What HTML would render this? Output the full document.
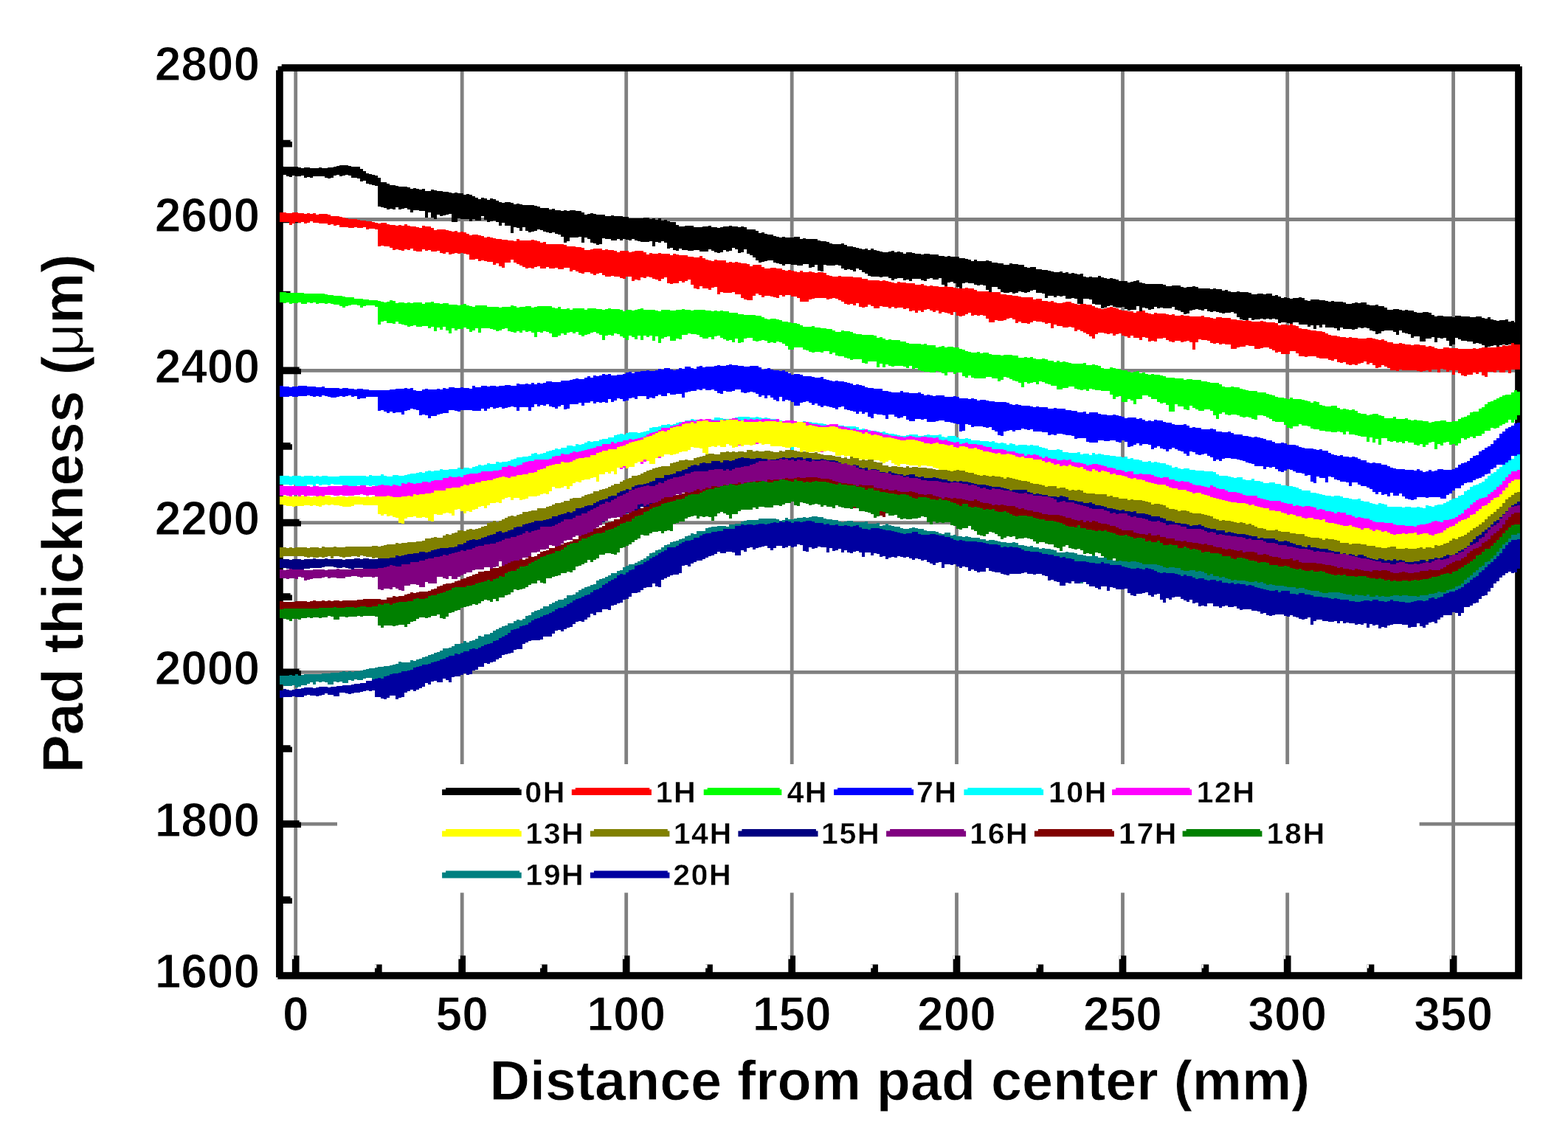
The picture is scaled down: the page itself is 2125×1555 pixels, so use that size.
<!DOCTYPE html>
<html lang="en"><head><meta charset="utf-8"><title>Pad thickness vs distance from pad center</title>
<style>html,body{margin:0;padding:0;background:#fff}body{width:2125px;height:1555px;overflow:hidden}svg{display:block}text{font-family:"Liberation Sans",sans-serif;font-weight:bold;fill:#000}</style></head><body>
<svg width="2125" height="1555" viewBox="0 0 2125 1555">
<rect width="2125" height="1555" fill="#fff"/>
<path d="M400.7 92.0 V1322.65M626.2 92.0 V1322.65M848.7 92.0 V1322.65M1073.2 92.0 V1322.65M1296.5 92.0 V1322.65M1521.5 92.0 V1322.65M1744.7 92.0 V1322.65M1969.6 92.0 V1322.65M378.9 1117.1 H2058.0M378.9 911.4 H2058.0M378.9 708.7 H2058.0M378.9 502.3 H2058.0M378.9 297.5 H2058.0" stroke="#808080" stroke-width="4.8" fill="none"/>
<rect x="457" y="1036" width="1466.6" height="174.3" fill="#fff"/>
<rect x="378.9" y="92.0" width="1679.1" height="1230.7" fill="none" stroke="#000" stroke-width="9.7"/>
<path d="M382.8 1220.1h13.2M382.8 1117.1h25.2M382.8 1015.0h13.2M382.8 911.4h25.2M382.8 809.1h13.2M382.8 708.7h25.2M382.8 604.8h13.2M382.8 502.3h25.2M382.8 399.7h13.2M382.8 297.5h25.2M382.8 194.6h13.2M400.7 1318.8v-23.3M512.8 1318.8v-11.2M626.2 1318.8v-23.3M736.9 1318.8v-11.2M848.7 1318.8v-23.3M961.0 1318.8v-11.2M1073.2 1318.8v-23.3M1185.1 1318.8v-11.2M1296.5 1318.8v-23.3M1409.3 1318.8v-11.2M1521.5 1318.8v-23.3M1633.4 1318.8v-11.2M1744.7 1318.8v-23.3M1857.5 1318.8v-11.2M1969.6 1318.8v-23.3" stroke="#000" stroke-width="9.7" fill="none"/>
<path d="M393.6 1215.0h2.6v2.6h-2.6zM405.6 1112.0h2.6v2.6h-2.6zM393.6 1009.9h2.6v2.6h-2.6zM405.6 906.3h2.6v2.6h-2.6zM393.6 804.0h2.6v2.6h-2.6zM405.6 703.6h2.6v2.6h-2.6zM393.6 599.7h2.6v2.6h-2.6zM405.6 497.2h2.6v2.6h-2.6zM393.6 394.6h2.6v2.6h-2.6zM405.6 292.4h2.6v2.6h-2.6zM393.6 189.5h2.6v2.6h-2.6zM395.6 1295.3h2.6v5h-2.6zM507.7 1307.4h2.6v5h-2.6zM621.1 1295.3h2.6v5h-2.6zM731.8 1307.4h2.6v5h-2.6zM843.6 1295.3h2.6v5h-2.6zM956.0 1307.4h2.6v5h-2.6zM1068.2 1295.3h2.6v5h-2.6zM1180.1 1307.4h2.6v5h-2.6zM1291.5 1295.3h2.6v5h-2.6zM1404.2 1307.4h2.6v5h-2.6zM1516.5 1295.3h2.6v5h-2.6zM1628.4 1307.4h2.6v5h-2.6zM1739.7 1295.3h2.6v5h-2.6zM1852.5 1307.4h2.6v5h-2.6zM1964.5 1295.3h2.6v5h-2.6zM373.8 87.0h2.6v8.2h-2.6zM374.0 87.0h7.7v2.8h-7.7zM2060.0 87.0h3v3h-3zM373.8 1325.1h2.6v2.6h-2.6z" fill="#fff"/>
<g shape-rendering="crispEdges">
<path d="M378.7 225H383.5V225.6H387.5V225.8H391.5V225.8H395.5V226.1H399.5V226.1H403.5V226.7H407.5V227.7H411.5V227.4H415.5V227.2H419.5V227.7H423.5V227.9H427.5V227.8H431.5V227.4H435.5V227.6H439.5V228H443.5V227.3H447.5V227.3H451.5V226.4H455.5V225.2H459.5V224.1H463.5V224H467.5V224H471.5V224.9H475.5V225.6H479.5V226.2H483.5V226.2H487.5V228.6H491.5V232.4H495.5V235.4H499.5V236H503.5V237.2H507.5V238.4H511.5V241.4H515.5V246.8H519.5V247.1H523.5V248.6H527.5V250.8H531.5V250.7H535.5V251.6H539.5V252.7H543.5V253.4H547.5V252.8H551.5V254.1H555.5V256.3H559.5V254.5H563.5V256.4H567.5V256.6H571.5V256.2H575.5V258.8H579.5V259H583.5V257.2H587.5V257.9H591.5V258.9H595.5V258.8H599.5V259.9H603.5V259.8H607.5V260.9H611.5V262.4H615.5V261.3H619.5V262.1H623.5V262.3H627.5V263.5H631.5V263.2H635.5V264.3H639.5V265.7H643.5V268H647.5V269.7H651.5V268.2H655.5V268.5H659.5V270.5H663.5V269H667.5V270.3H671.5V271.5H675.5V273.8H679.5V274.6H683.5V274.2H687.5V274.3H691.5V274.7H695.5V277.1H699.5V276.4H703.5V276.5H707.5V277.6H711.5V277.9H715.5V278.2H719.5V277.8H723.5V279H727.5V279.5H731.5V281.7H735.5V282.4H739.5V282.4H743.5V283.5H747.5V283.2H751.5V284.8H755.5V284.8H759.5V285.7H763.5V284.5H767.5V285.9H771.5V284.8H775.5V285.1H779.5V286H783.5V286.4H787.5V288H791.5V291H795.5V289.6H799.5V289.3H803.5V290.3H807.5V291.3H811.5V291.2H815.5V291.4H819.5V292.6H823.5V293.2H827.5V292.1H831.5V292.8H835.5V293.4H839.5V292.8H843.5V294H847.5V293.7H851.5V295.6H855.5V295.9H859.5V296.1H863.5V295.7H867.5V296.2H871.5V294.8H875.5V295.1H879.5V296.7H883.5V295.6H887.5V297.6H891.5V296.3H895.5V298.6H899.5V298.2H903.5V300.1H907.5V300.7H911.5V300.6H915.5V305.3H919.5V307.3H923.5V306.6H927.5V306.2H931.5V306.4H935.5V306.1H939.5V308.4H943.5V307.9H947.5V308.1H951.5V307.3H955.5V307.1H959.5V306.2H963.5V308.3H967.5V307.7H971.5V308.5H975.5V307.8H979.5V306.7H983.5V306.6H987.5V306.3H991.5V307H995.5V307.1H999.5V307.6H1003.5V307H1007.5V307.6H1011.5V310.8H1015.5V310.5H1019.5V310.7H1023.5V313H1027.5V315.9H1031.5V315.1H1035.5V316.8H1039.5V317.8H1043.5V317.9H1047.5V320.4H1051.5V321.1H1055.5V321.6H1059.5V321H1063.5V322.1H1067.5V321.7H1071.5V322H1075.5V321.3H1079.5V321H1083.5V323.6H1087.5V323H1091.5V323.8H1095.5V324H1099.5V324.1H1103.5V324.4H1107.5V326.2H1111.5V326.5H1115.5V327.2H1119.5V328.1H1123.5V330.1H1127.5V330.8H1131.5V331.1H1135.5V330.7H1139.5V330H1143.5V332.4H1147.5V333.9H1151.5V333.8H1155.5V334.8H1159.5V335.8H1163.5V336.7H1167.5V337.5H1171.5V336.8H1175.5V338.8H1179.5V337.2H1183.5V338.9H1187.5V339.6H1191.5V340.6H1195.5V341.8H1199.5V342.2H1203.5V340.8H1207.5V339.5H1211.5V341.7H1215.5V341H1219.5V342H1223.5V343.5H1227.5V341.8H1231.5V341.6H1235.5V342.9H1239.5V343.9H1243.5V344.2H1247.5V344.8H1251.5V344.4H1255.5V343.8H1259.5V345H1263.5V344.9H1267.5V344.8H1271.5V346.6H1275.5V347.2H1279.5V348.2H1283.5V347.4H1287.5V347.6H1291.5V347.6H1295.5V348H1299.5V349.5H1303.5V349.5H1307.5V350.9H1311.5V351.8H1315.5V353.9H1319.5V352H1323.5V353.7H1327.5V353.7H1331.5V354.1H1335.5V353H1339.5V353.9H1343.5V355.8H1347.5V356.1H1351.5V356.8H1355.5V357H1359.5V358.8H1363.5V358.8H1367.5V357H1371.5V357.8H1375.5V358.1H1379.5V358.7H1383.5V359.3H1387.5V362H1391.5V362.5H1395.5V361.8H1399.5V362.1H1403.5V364.6H1407.5V365.1H1411.5V365.6H1415.5V366H1419.5V366.6H1423.5V368H1427.5V368.6H1431.5V368.9H1435.5V368.1H1439.5V369.6H1443.5V369.4H1447.5V371.4H1451.5V370.2H1455.5V371.2H1459.5V372H1463.5V371.4H1467.5V374.5H1471.5V375.9H1475.5V374.9H1479.5V376H1483.5V376.4H1487.5V374.1H1491.5V375.8H1495.5V376.7H1499.5V377.5H1503.5V377H1507.5V377.8H1511.5V378.5H1515.5V380.5H1519.5V380.8H1523.5V380.8H1527.5V382.6H1531.5V381.5H1535.5V381.4H1539.5V380.2H1543.5V383.3H1547.5V384.3H1551.5V384.9H1555.5V385.2H1559.5V385H1563.5V385.2H1567.5V385H1571.5V385.2H1575.5V385.7H1579.5V387.7H1583.5V387.8H1587.5V387.4H1591.5V386.9H1595.5V386.9H1599.5V389.3H1603.5V389.5H1607.5V389.4H1611.5V389.1H1615.5V388.4H1619.5V389.4H1623.5V391H1627.5V390.6H1631.5V390.8H1635.5V391.1H1639.5V391.8H1643.5V390.6H1647.5V391.7H1651.5V391.8H1655.5V393.8H1659.5V393.2H1663.5V394.6H1667.5V396.4H1671.5V395.5H1675.5V395H1679.5V395.9H1683.5V396.2H1687.5V395.6H1691.5V397H1695.5V399.4H1699.5V398.5H1703.5V398.3H1707.5V397.6H1711.5V398.9H1715.5V398.1H1719.5V398.1H1723.5V400.8H1727.5V400H1731.5V401.9H1735.5V403.5H1739.5V403.2H1743.5V403.6H1747.5V404.9H1751.5V404.4H1755.5V403.8H1759.5V403.1H1763.5V404.4H1767.5V406.8H1771.5V407.5H1775.5V406H1779.5V405.6H1783.5V406H1787.5V407.1H1791.5V407.3H1795.5V407.9H1799.5V408.5H1803.5V408.2H1807.5V408.5H1811.5V409.1H1815.5V409.2H1819.5V410H1823.5V411.8H1827.5V411.7H1831.5V411.3H1835.5V409.5H1839.5V411.1H1843.5V409.8H1847.5V410.4H1851.5V412.7H1855.5V414.2H1859.5V414.4H1863.5V413.3H1867.5V414.6H1871.5V415.2H1875.5V417.3H1879.5V419.9H1883.5V419.9H1887.5V419.1H1891.5V418.6H1895.5V419.8H1899.5V420.5H1903.5V420H1907.5V421.2H1911.5V420.5H1915.5V422.6H1919.5V423.5H1923.5V424H1927.5V422.7H1931.5V423.3H1935.5V423.8H1939.5V427H1943.5V429.1H1947.5V428H1951.5V427.6H1955.5V429.3H1959.5V429.1H1963.5V429.3H1967.5V430.2H1971.5V427.7H1975.5V427.6H1979.5V428.5H1983.5V429.2H1987.5V428.8H1991.5V430.2H1995.5V430.2H1999.5V429H2003.5V429H2007.5V431H2011.5V431.8H2015.5V430H2019.5V432.8H2023.5V433.6H2027.5V434.9H2031.5V433.9H2035.5V433.8H2039.5V433H2043.5V436.4H2047.5V435.3H2051.5V436.5H2055.5V434.8H2059.5V464.8H2055.5V466.5H2051.5V466.1H2047.5V466.8H2043.5V468.1H2039.5V467.4H2035.5V467.5H2031.5V469.7H2027.5V467.8H2023.5V468.8H2019.5V469.7H2015.5V478H2011.5V468.4H2007.5V465.8H2003.5V464.8H1999.5V465.5H1995.5V463.2H1991.5V463.3H1987.5V461.6H1983.5V461.6H1979.5V460.1H1975.5V458.4H1971.5V466.9H1967.5V468.8H1963.5V462H1959.5V457.5H1955.5V459.2H1951.5V457.9H1947.5V464.2H1943.5V456.5H1939.5V459.3H1935.5V458.8H1931.5V463.3H1927.5V463H1923.5V455.9H1919.5V455.7H1915.5V458.2H1911.5V453.4H1907.5V452H1903.5V451.2H1899.5V448.2H1895.5V454.2H1891.5V450.3H1887.5V447.6H1883.5V448.1H1879.5V448.4H1875.5V448.6H1871.5V451.5H1867.5V452.5H1863.5V449.2H1859.5V447.6H1855.5V445.1H1851.5V444.3H1847.5V445H1843.5V443.7H1839.5V446.1H1835.5V447.4H1831.5V445.5H1827.5V446.1H1823.5V446.4H1819.5V444.3H1815.5V447.7H1811.5V445.2H1807.5V443.5H1803.5V444H1799.5V443.5H1795.5V440.3H1791.5V444.2H1787.5V440.8H1783.5V445.5H1779.5V441.2H1775.5V443.2H1771.5V440.4H1767.5V440.1H1763.5V439.6H1759.5V437.2H1755.5V436.8H1751.5V439.1H1747.5V437.9H1743.5V436.6H1739.5V437.2H1735.5V437.9H1731.5V432.6H1727.5V431.9H1723.5V433H1719.5V432.4H1715.5V432.8H1711.5V432.1H1707.5V432.6H1703.5V432.9H1699.5V433.9H1695.5V431.4H1691.5V433.8H1687.5V434H1683.5V433H1679.5V429.7H1675.5V424.9H1671.5V422.8H1667.5V424.4H1663.5V424.4H1659.5V424.5H1655.5V423.6H1651.5V423.3H1647.5V422.4H1643.5V423.1H1639.5V421.6H1635.5V419H1631.5V421.4H1627.5V419.8H1623.5V418.9H1619.5V419.8H1615.5V420.5H1611.5V424.5H1607.5V426H1603.5V423H1599.5V420.7H1595.5V419.5H1591.5V415.8H1587.5V418.1H1583.5V417.5H1579.5V417.6H1575.5V417.2H1571.5V417.8H1567.5V415.7H1563.5V418.6H1559.5V419.5H1555.5V418.3H1551.5V417.2H1547.5V422.2H1543.5V415.4H1539.5V420.2H1535.5V420.4H1531.5V421.2H1527.5V419.4H1523.5V416H1519.5V417.4H1515.5V416.6H1511.5V416.2H1507.5V413.9H1503.5V415H1499.5V416.8H1495.5V417.5H1491.5V412.5H1487.5V413.4H1483.5V412.3H1479.5V406.2H1475.5V405H1471.5V405.2H1467.5V413.9H1463.5V411.6H1459.5V404.6H1455.5V404.2H1451.5V405H1447.5V404.6H1443.5V401H1439.5V401.7H1435.5V401.3H1431.5V402.6H1427.5V401.1H1423.5V401.4H1419.5V404.4H1415.5V397.9H1411.5V396.6H1407.5V396.8H1403.5V393.4H1399.5V393.7H1395.5V395.6H1391.5V396.8H1387.5V395.5H1383.5V394.6H1379.5V396.7H1375.5V398H1371.5V395.9H1367.5V396.5H1363.5V397.4H1359.5V396.2H1355.5V392.2H1351.5V389.1H1347.5V389.1H1343.5V395.6H1339.5V393H1335.5V387.2H1331.5V386H1327.5V387.3H1323.5V386.3H1319.5V383.9H1315.5V384.3H1311.5V382.7H1307.5V383.5H1303.5V391.5H1299.5V389.2H1295.5V383.9H1291.5V381.8H1287.5V382.8H1283.5V387.7H1279.5V386.4H1275.5V376.8H1271.5V378.5H1267.5V379H1263.5V377.2H1259.5V378H1255.5V381.3H1251.5V379.6H1247.5V377.7H1243.5V377.7H1239.5V377.9H1235.5V380.7H1231.5V378.5H1227.5V379.5H1223.5V377.2H1219.5V377.1H1215.5V377.8H1211.5V379.6H1207.5V376.5H1203.5V374.7H1199.5V374.6H1195.5V376H1191.5V374.9H1187.5V374.9H1183.5V375.4H1179.5V374.1H1175.5V370.8H1171.5V368.7H1167.5V366H1163.5V363.8H1159.5V368.4H1155.5V366.2H1151.5V365.2H1147.5V365.7H1143.5V364.1H1139.5V360.2H1135.5V359.2H1131.5V360H1127.5V360.1H1123.5V359.9H1119.5V359.1H1115.5V367.7H1111.5V366.5H1107.5V359.3H1103.5V361.9H1099.5V362.8H1095.5V357.9H1091.5V357.8H1087.5V359.6H1083.5V360.2H1079.5V359.3H1075.5V358.9H1071.5V357.7H1067.5V357.8H1063.5V360.1H1059.5V358.4H1055.5V357.4H1051.5V355.5H1047.5V352.9H1043.5V352.5H1039.5V354.2H1035.5V354.7H1031.5V355.8H1027.5V353.2H1023.5V348.7H1019.5V345.8H1015.5V344.2H1011.5V338.3H1007.5V342.1H1003.5V342.7H999.5V338.4H995.5V335.9H991.5V340.3H987.5V340.9H983.5V338.7H979.5V342.4H975.5V343.3H971.5V342.3H967.5V340.2H963.5V338.4H959.5V341.3H955.5V341.2H951.5V340.5H947.5V338.8H943.5V338.9H939.5V340.2H935.5V339.5H931.5V339.1H927.5V338.5H923.5V336.7H919.5V339.9H915.5V338.6H911.5V336.2H907.5V337.4H903.5V329.1H899.5V327.4H895.5V328.8H891.5V327.6H887.5V333.8H883.5V326.8H879.5V327.7H875.5V327.6H871.5V327.6H867.5V327.1H863.5V325.5H859.5V323.8H855.5V325.6H851.5V324.6H847.5V324.2H843.5V325.7H839.5V324.2H835.5V326.2H831.5V325.6H827.5V324.1H823.5V324.1H819.5V323.2H815.5V330.8H811.5V331.7H807.5V329.7H803.5V328.8H799.5V324.1H795.5V321.7H791.5V328.6H787.5V321.3H783.5V321.6H779.5V322H775.5V321.5H771.5V327.4H767.5V328.7H763.5V321.3H759.5V318H755.5V316.8H751.5V315.3H747.5V316.3H743.5V315.4H739.5V314.1H735.5V312.3H731.5V310.7H727.5V312.9H723.5V313.9H719.5V314.6H715.5V312.6H711.5V308H707.5V312.7H703.5V309.1H699.5V308.2H695.5V316.1H691.5V305.5H687.5V305.5H683.5V301.7H679.5V305.8H675.5V301.1H671.5V299.2H667.5V300H663.5V300.7H659.5V297.6H655.5V293.3H651.5V298.5H647.5V299.3H643.5V296.9H639.5V300.1H635.5V296.8H631.5V296.8H627.5V296.6H623.5V296.3H619.5V300.9H615.5V301H611.5V290.1H607.5V290.7H603.5V291.6H599.5V292.6H595.5V290.6H591.5V297.3H587.5V294.6H583.5V288.3H579.5V295H575.5V285.6H571.5V285.7H567.5V285.1H563.5V285.4H559.5V287.7H555.5V284H551.5V282H547.5V283.4H543.5V284.4H539.5V281.4H535.5V283.7H531.5V282.9H527.5V284.4H523.5V282H519.5V280.9H515.5V279.9H511.5V251.8H507.5V250.5H503.5V250.1H499.5V248.8H495.5V244.9H491.5V246.3H487.5V242.2H483.5V240.7H479.5V240.5H475.5V238H471.5V237.2H467.5V237.6H463.5V238.5H459.5V237.3H455.5V238.1H451.5V240.5H447.5V241.7H443.5V240.8H439.5V238.6H435.5V238.9H431.5V238.6H427.5V238.8H423.5V240.8H419.5V240.4H415.5V241.2H411.5V238.3H407.5V239.2H403.5V238.9H399.5V237.5H395.5V240.2H391.5V238.9H387.5V236.7H383.5V237.9H378.7Z" fill="#000000"/>
<path d="M378.7 288.1H383.5V287.7H387.5V288.5H391.5V289.3H395.5V288.4H399.5V288.4H403.5V289.1H407.5V289.1H411.5V289.8H415.5V289.2H419.5V289.5H423.5V289H427.5V290.5H431.5V290.1H435.5V289.6H439.5V290.4H443.5V291.1H447.5V292.7H451.5V292.8H455.5V293.3H459.5V294.1H463.5V295.3H467.5V295.5H471.5V296.5H475.5V297H479.5V297.3H483.5V297.9H487.5V298.6H491.5V298.8H495.5V300.2H499.5V299.9H503.5V301.3H507.5V302.1H511.5V302.5H515.5V301.9H519.5V302.4H523.5V303.6H527.5V304.6H531.5V304.8H535.5V305.9H539.5V305H543.5V305.6H547.5V304.2H551.5V306.2H555.5V306.6H559.5V306.5H563.5V308.2H567.5V308.8H571.5V306H575.5V307.3H579.5V306.8H583.5V309.4H587.5V311.6H591.5V310.7H595.5V310.9H599.5V310.9H603.5V311.8H607.5V312.8H611.5V314.3H615.5V312.9H619.5V315.2H623.5V314.1H627.5V315.4H631.5V317.4H635.5V318.5H639.5V317.8H643.5V318.2H647.5V319H651.5V320H655.5V321.9H659.5V320.6H663.5V322H667.5V323H671.5V323.6H675.5V323.9H679.5V325.4H683.5V325.1H687.5V325.6H691.5V325.7H695.5V326.7H699.5V324.2H703.5V326.4H707.5V326H711.5V326H715.5V325.6H719.5V325.2H723.5V326.1H727.5V326.8H731.5V328.6H735.5V327.7H739.5V330.7H743.5V331.1H747.5V331.2H751.5V331.1H755.5V331.3H759.5V331.4H763.5V332.3H767.5V333.6H771.5V334.4H775.5V333.7H779.5V334.8H783.5V334.9H787.5V336.3H791.5V338.8H795.5V338.9H799.5V338.1H803.5V336.6H807.5V336.5H811.5V336.8H815.5V338.5H819.5V338.3H823.5V339.1H827.5V339H831.5V339.8H835.5V341.6H839.5V340.4H843.5V340.4H847.5V340H851.5V341.7H855.5V340.7H859.5V340.3H863.5V340.2H867.5V340.4H871.5V342H875.5V344.8H879.5V343.2H883.5V344.4H887.5V344.3H891.5V343H895.5V343.5H899.5V343.8H903.5V343.7H907.5V346.4H911.5V343.9H915.5V345.3H919.5V346.1H923.5V345.7H927.5V346.4H931.5V347.8H935.5V347.9H939.5V348.5H943.5V349.4H947.5V347.4H951.5V350.4H955.5V352.3H959.5V353H963.5V353.7H967.5V351.9H971.5V352.8H975.5V352.8H979.5V353.4H983.5V355.6H987.5V355H991.5V355.8H995.5V354.7H999.5V356.1H1003.5V357.3H1007.5V357.3H1011.5V357.6H1015.5V360.7H1019.5V359.1H1023.5V358.9H1027.5V359.2H1031.5V361.7H1035.5V363.6H1039.5V363.5H1043.5V362.5H1047.5V362.6H1051.5V364.4H1055.5V363.5H1059.5V365.7H1063.5V366.9H1067.5V366.4H1071.5V367H1075.5V367.7H1079.5V368.9H1083.5V367.3H1087.5V369.1H1091.5V368.5H1095.5V368.2H1099.5V369.2H1103.5V369.6H1107.5V369.3H1111.5V369H1115.5V369.5H1119.5V372.5H1123.5V374.4H1127.5V374.6H1131.5V375.4H1135.5V374.3H1139.5V374.5H1143.5V375.3H1147.5V374.5H1151.5V374.5H1155.5V375.9H1159.5V376.3H1163.5V376H1167.5V377.6H1171.5V378H1175.5V379.7H1179.5V379.6H1183.5V379.6H1187.5V380.2H1191.5V380.5H1195.5V380.3H1199.5V380.7H1203.5V382.3H1207.5V383.2H1211.5V384.4H1215.5V382.1H1219.5V382.6H1223.5V383.1H1227.5V384.1H1231.5V384.1H1235.5V384.2H1239.5V385.8H1243.5V386.1H1247.5V385.1H1251.5V387.4H1255.5V388.2H1259.5V387.2H1263.5V388.4H1267.5V387.6H1271.5V389.3H1275.5V388.9H1279.5V388.4H1283.5V388.8H1287.5V388.8H1291.5V390H1295.5V390.8H1299.5V391.3H1303.5V391.1H1307.5V390.2H1311.5V390.9H1315.5V391.1H1319.5V392.6H1323.5V394.8H1327.5V395.2H1331.5V395H1335.5V395.3H1339.5V395.9H1343.5V396H1347.5V396.3H1351.5V396.3H1355.5V398.9H1359.5V399H1363.5V400.4H1367.5V400.1H1371.5V400.6H1375.5V400.9H1379.5V402H1383.5V403.2H1387.5V403.4H1391.5V402.9H1395.5V402.9H1399.5V405.7H1403.5V405.2H1407.5V405.4H1411.5V407.5H1415.5V408.4H1419.5V408.6H1423.5V408H1427.5V410.3H1431.5V410.5H1435.5V410.7H1439.5V410.4H1443.5V409.3H1447.5V409.2H1451.5V411.2H1455.5V412.4H1459.5V412.6H1463.5V412H1467.5V411.9H1471.5V413.1H1475.5V412.9H1479.5V415.4H1483.5V417H1487.5V418.3H1491.5V418.8H1495.5V417.8H1499.5V417.1H1503.5V416.3H1507.5V416.8H1511.5V417.9H1515.5V420H1519.5V420.8H1523.5V421.4H1527.5V421.5H1531.5V422.2H1535.5V423.6H1539.5V421.8H1543.5V421.9H1547.5V421.1H1551.5V424.1H1555.5V425.3H1559.5V425.5H1563.5V423.7H1567.5V424.6H1571.5V424.7H1575.5V425.3H1579.5V425.5H1583.5V426.5H1587.5V426.2H1591.5V427.5H1595.5V427.7H1599.5V427.4H1603.5V427.6H1607.5V427.6H1611.5V429H1615.5V428.8H1619.5V429.4H1623.5V429.2H1627.5V428.2H1631.5V430.3H1635.5V429.5H1639.5V431.1H1643.5V431.7H1647.5V430.1H1651.5V430.3H1655.5V431H1659.5V431.2H1663.5V431.1H1667.5V433.1H1671.5V433.2H1675.5V434.1H1679.5V433.7H1683.5V434.5H1687.5V433.9H1691.5V434.6H1695.5V435.7H1699.5V435.8H1703.5V435.5H1707.5V434.9H1711.5V436.1H1715.5V437H1719.5V437.1H1723.5V436.8H1727.5V438.3H1731.5V440.5H1735.5V439.9H1739.5V440.3H1743.5V440.9H1747.5V439H1751.5V441.1H1755.5V442H1759.5V445.3H1763.5V445.7H1767.5V445.8H1771.5V446.8H1775.5V448H1779.5V448.2H1783.5V449.2H1787.5V448.7H1791.5V450H1795.5V452H1799.5V454.2H1803.5V454.6H1807.5V454.5H1811.5V455.8H1815.5V456.5H1819.5V457.2H1823.5V457.8H1827.5V457.3H1831.5V457.6H1835.5V458H1839.5V458.6H1843.5V459H1847.5V458.5H1851.5V457.6H1855.5V458.3H1859.5V458.6H1863.5V459.8H1867.5V460.9H1871.5V459.9H1875.5V462.2H1879.5V463.6H1883.5V463.7H1887.5V465.6H1891.5V466.1H1895.5V464.7H1899.5V466.2H1903.5V466.6H1907.5V467H1911.5V468H1915.5V467.2H1919.5V467.4H1923.5V467.7H1927.5V468.4H1931.5V469.8H1935.5V469.4H1939.5V469.9H1943.5V472H1947.5V472.5H1951.5V473.1H1955.5V471H1959.5V471.2H1963.5V471.5H1967.5V472.2H1971.5V471.9H1975.5V473.4H1979.5V473H1983.5V472.8H1987.5V472.7H1991.5V473.1H1995.5V471.9H1999.5V472.8H2003.5V472.2H2007.5V471.4H2011.5V470.7H2015.5V470.6H2019.5V470.9H2023.5V470.7H2027.5V469.8H2031.5V469.6H2035.5V468.4H2039.5V468.8H2043.5V467.5H2047.5V464.7H2051.5V467H2055.5V466.8H2059.5V501H2055.5V500.6H2051.5V501.3H2047.5V506H2043.5V501.9H2039.5V505.2H2035.5V505.1H2031.5V502.3H2027.5V504.7H2023.5V503.9H2019.5V504.1H2015.5V510.9H2011.5V508.7H2007.5V504.3H2003.5V506.8H1999.5V505.2H1995.5V507.5H1991.5V507.6H1987.5V509.5H1983.5V509.1H1979.5V506.4H1975.5V502.4H1971.5V507.7H1967.5V501.5H1963.5V503.8H1959.5V500.9H1955.5V500.2H1951.5V505.2H1947.5V501.1H1943.5V500.8H1939.5V503.7H1935.5V501.6H1931.5V502.5H1927.5V503.5H1923.5V502.6H1919.5V501.9H1915.5V501.7H1911.5V501.5H1907.5V502.4H1903.5V502.4H1899.5V501H1895.5V502.8H1891.5V501.9H1887.5V502.1H1883.5V498.8H1879.5V496.9H1875.5V495.1H1871.5V498.4H1867.5V498.8H1863.5V494.7H1859.5V491.5H1855.5V494.1H1851.5V489.9H1847.5V492.4H1843.5V492.8H1839.5V495H1835.5V494.3H1831.5V495.3H1827.5V494.2H1823.5V491.4H1819.5V491.5H1815.5V491.4H1811.5V487.4H1807.5V488.7H1803.5V487.7H1799.5V486H1795.5V486H1791.5V486.2H1787.5V485.4H1783.5V482.5H1779.5V482.9H1775.5V483.1H1771.5V484.1H1767.5V482.9H1763.5V482.7H1759.5V479.3H1755.5V475.9H1751.5V476.4H1747.5V479.8H1743.5V479.8H1739.5V479.5H1735.5V476.9H1731.5V477.8H1727.5V474.5H1723.5V473.3H1719.5V471.2H1715.5V471.3H1711.5V472.4H1707.5V472.8H1703.5V472.9H1699.5V469.4H1695.5V468.8H1691.5V468H1687.5V469.8H1683.5V469.5H1679.5V471H1675.5V473.4H1671.5V472.9H1667.5V466.8H1663.5V466.9H1659.5V465.6H1655.5V466.5H1651.5V465.1H1647.5V465.7H1643.5V465.2H1639.5V462.4H1635.5V460.9H1631.5V460.5H1627.5V460.1H1623.5V463.9H1619.5V473.6H1615.5V463.9H1611.5V461.5H1607.5V462.5H1603.5V464H1599.5V461.8H1595.5V461.7H1591.5V463.9H1587.5V462.5H1583.5V460.6H1579.5V458H1575.5V458.6H1571.5V459.1H1567.5V462.5H1563.5V462.2H1559.5V462.8H1555.5V457.9H1551.5V457.3H1547.5V460.8H1543.5V458.1H1539.5V457.5H1535.5V455.1H1531.5V457.7H1527.5V456H1523.5V454.5H1519.5V451.9H1515.5V453.3H1511.5V455H1507.5V452.3H1503.5V452.5H1499.5V452.4H1495.5V451H1491.5V451.4H1487.5V452.5H1483.5V459H1479.5V455.5H1475.5V453H1471.5V451.4H1467.5V449.4H1463.5V447H1459.5V448.7H1455.5V444.4H1451.5V443H1447.5V444.1H1443.5V443.8H1439.5V441.6H1435.5V441.7H1431.5V439.9H1427.5V444.8H1423.5V437.9H1419.5V438.6H1415.5V437.2H1411.5V436.3H1407.5V436H1403.5V434.7H1399.5V437.3H1395.5V438.9H1391.5V438.3H1387.5V437.7H1383.5V435.9H1379.5V438.1H1375.5V432.5H1371.5V431.3H1367.5V431.7H1363.5V433.8H1359.5V434.8H1355.5V435H1351.5V434.4H1347.5V436.7H1343.5V437.2H1339.5V432.2H1335.5V427.9H1331.5V427.1H1327.5V427.9H1323.5V427.2H1319.5V427.9H1315.5V424.2H1311.5V426H1307.5V427.5H1303.5V428.5H1299.5V427.5H1295.5V423.3H1291.5V426.6H1287.5V425.4H1283.5V424.2H1279.5V423.2H1275.5V424.6H1271.5V421.2H1267.5V423.2H1263.5V421H1259.5V419H1255.5V420.4H1251.5V422.6H1247.5V421.3H1243.5V424.3H1239.5V420.5H1235.5V422H1231.5V417.5H1227.5V418.6H1223.5V416.6H1219.5V417.3H1215.5V417.7H1211.5V416.3H1207.5V418.2H1203.5V415.7H1199.5V416.1H1195.5V415.2H1191.5V418.2H1187.5V417.9H1183.5V414.7H1179.5V413.2H1175.5V415.6H1171.5V417.2H1167.5V415.9H1163.5V410.8H1159.5V413.6H1155.5V412.3H1151.5V413.4H1147.5V411.6H1143.5V408.8H1139.5V407.4H1135.5V404.7H1131.5V404.3H1127.5V405.1H1123.5V405.6H1119.5V404.2H1115.5V403.6H1111.5V404.2H1107.5V403.8H1103.5V405H1099.5V406.1H1095.5V408.9H1091.5V409.2H1087.5V409.3H1083.5V404.2H1079.5V402H1075.5V401.8H1071.5V399.5H1067.5V399.8H1063.5V401.6H1059.5V400H1055.5V403.6H1051.5V403.4H1047.5V402.2H1043.5V400.6H1039.5V401.1H1035.5V403.4H1031.5V399.5H1027.5V398.2H1023.5V401.1H1019.5V406.9H1015.5V407H1011.5V405.7H1007.5V404.2H1003.5V399.2H999.5V398.7H995.5V395.6H991.5V397.1H987.5V397H983.5V396.7H979.5V396.2H975.5V399H971.5V388.7H967.5V390.4H963.5V392.9H959.5V391.1H955.5V391.4H951.5V388.3H947.5V392.4H943.5V391.1H939.5V385.5H935.5V378.7H931.5V380.8H927.5V382.7H923.5V381.1H919.5V383.7H915.5V383.8H911.5V385.1H907.5V383.5H903.5V376.1H899.5V378.2H895.5V380.9H891.5V378.8H887.5V378H883.5V376.3H879.5V375.2H875.5V377.4H871.5V376H867.5V379.6H863.5V378.9H859.5V380.8H855.5V375.2H851.5V375H847.5V377.6H843.5V376.6H839.5V375H835.5V374.7H831.5V373.7H827.5V375.2H823.5V375H819.5V372.9H815.5V369.8H811.5V371.3H807.5V372.5H803.5V370.5H799.5V369.4H795.5V369.1H791.5V371.3H787.5V369.9H783.5V367.8H779.5V366H775.5V368.4H771.5V363.2H767.5V363.3H763.5V365.1H759.5V365.2H755.5V363.2H751.5V363.9H747.5V363.6H743.5V361.9H739.5V364.3H735.5V363.8H731.5V361.3H727.5V361.6H723.5V363.7H719.5V362.5H715.5V363.9H711.5V361.5H707.5V359.9H703.5V358.2H699.5V355.6H695.5V352.1H691.5V355.8H687.5V356H683.5V363.3H679.5V360.5H675.5V357.4H671.5V358.6H667.5V354.7H663.5V354.8H659.5V353.5H655.5V353.1H651.5V354.2H647.5V351H643.5V352H639.5V352.1H635.5V344.8H631.5V343.5H627.5V342.7H623.5V343.6H619.5V343H615.5V343.6H611.5V344.6H607.5V342.3H603.5V343.8H599.5V342.5H595.5V340H591.5V341.1H587.5V341.1H583.5V338.8H579.5V339.6H575.5V338.3H571.5V340.7H567.5V341H563.5V340.2H559.5V337.4H555.5V338.7H551.5V337.6H547.5V339.8H543.5V338.8H539.5V337.6H535.5V338.5H531.5V335.7H527.5V334.1H523.5V333.5H519.5V332.5H515.5V333.5H511.5V311H507.5V310.1H503.5V310.3H499.5V310.5H495.5V307.9H491.5V308.9H487.5V309.2H483.5V308.4H479.5V308.9H475.5V308.6H471.5V307.6H467.5V307.9H463.5V307.8H459.5V305.4H455.5V305.6H451.5V303.9H447.5V305.3H443.5V303.1H439.5V303.3H435.5V302.5H431.5V302H427.5V301.5H423.5V300.3H419.5V301.7H415.5V303H411.5V301.4H407.5V301.7H403.5V301H399.5V302.7H395.5V305H391.5V300.6H387.5V301H383.5V300.8H378.7Z" fill="#ff0000"/>
<path d="M378.7 396H383.5V396.2H387.5V396.9H391.5V397.4H395.5V397H399.5V397.2H403.5V396.6H407.5V397.3H411.5V397.9H415.5V397.7H419.5V398.4H423.5V397.5H427.5V397.6H431.5V398H435.5V398.4H439.5V399.2H443.5V399.8H447.5V400.3H451.5V401.2H455.5V401.3H459.5V401.2H463.5V401.5H467.5V403.4H471.5V402.5H475.5V403.3H479.5V404.7H483.5V405.2H487.5V405H491.5V405.5H495.5V406.4H499.5V407.1H503.5V406.6H507.5V407.3H511.5V407.9H515.5V409H519.5V409.8H523.5V408.6H527.5V407H531.5V408.3H535.5V410.5H539.5V410.4H543.5V410H547.5V411.2H551.5V409.7H555.5V410.7H559.5V409.7H563.5V410H567.5V410.2H571.5V411.9H575.5V410.2H579.5V410H583.5V408.9H587.5V410.7H591.5V410.6H595.5V411.6H599.5V410.6H603.5V411H607.5V412.8H611.5V412.5H615.5V413.3H619.5V413.7H623.5V413.2H627.5V411.9H631.5V414.3H635.5V414.8H639.5V416.1H643.5V413.7H647.5V413.5H651.5V413.6H655.5V413.6H659.5V415.7H663.5V416.3H667.5V416H671.5V416H675.5V416.7H679.5V415.9H683.5V416.3H687.5V416.2H691.5V413.9H695.5V414.6H699.5V416.7H703.5V415.9H707.5V415.9H711.5V415.4H715.5V415.3H719.5V417H723.5V416.4H727.5V415.4H731.5V414.7H735.5V414.9H739.5V415.1H743.5V415.4H747.5V417H751.5V418.3H755.5V416.4H759.5V418.5H763.5V419.2H767.5V418.4H771.5V419.7H775.5V417.9H779.5V417.6H783.5V417.7H787.5V417.7H791.5V419.6H795.5V418.3H799.5V417.9H803.5V417.9H807.5V419.1H811.5V419.1H815.5V420.3H819.5V419.3H823.5V418.2H827.5V418.5H831.5V419.2H835.5V418.5H839.5V419.5H843.5V421.5H847.5V419.9H851.5V419.8H855.5V421.1H859.5V419.7H863.5V418.8H867.5V418.2H871.5V419.5H875.5V420.2H879.5V419.9H883.5V420H887.5V421.4H891.5V421.7H895.5V419.5H899.5V420H903.5V420.4H907.5V421.3H911.5V420.8H915.5V420.2H919.5V420.1H923.5V419.1H927.5V420H931.5V420H935.5V421.1H939.5V420.1H943.5V420.2H947.5V419.8H951.5V419.5H955.5V421.3H959.5V421H963.5V421.9H967.5V420.8H971.5V421.8H975.5V420.6H979.5V421.5H983.5V422.1H987.5V423.7H991.5V424.2H995.5V424.3H999.5V425.7H1003.5V425.8H1007.5V426.5H1011.5V427.3H1015.5V427.2H1019.5V427.2H1023.5V428.3H1027.5V428.4H1031.5V429.7H1035.5V431.5H1039.5V432.5H1043.5V432.1H1047.5V431.5H1051.5V433H1055.5V434H1059.5V436.2H1063.5V436.1H1067.5V436.7H1071.5V438.3H1075.5V438.1H1079.5V438.8H1083.5V441.4H1087.5V442.5H1091.5V442.8H1095.5V442.9H1099.5V442H1103.5V443.6H1107.5V444.2H1111.5V445H1115.5V445H1119.5V445.8H1123.5V446.4H1127.5V447.6H1131.5V449.6H1135.5V449.8H1139.5V448.2H1143.5V448.6H1147.5V448.9H1151.5V449.6H1155.5V451.8H1159.5V453.1H1163.5V452.9H1167.5V454.1H1171.5V454H1175.5V453.6H1179.5V454.1H1183.5V454.8H1187.5V457.9H1191.5V456.8H1195.5V459.3H1199.5V460.9H1203.5V460.4H1207.5V460.6H1211.5V460.5H1215.5V461.3H1219.5V462.8H1223.5V463.1H1227.5V464.6H1231.5V465.7H1235.5V465.7H1239.5V466H1243.5V466.1H1247.5V466.9H1251.5V466H1255.5V467.5H1259.5V468.3H1263.5V467.9H1267.5V471.1H1271.5V469.6H1275.5V469.4H1279.5V470.8H1283.5V469.6H1287.5V470.3H1291.5V470.7H1295.5V471.2H1299.5V472.6H1303.5V474H1307.5V475.8H1311.5V476.5H1315.5V477.6H1319.5V477.7H1323.5V476.9H1327.5V478.5H1331.5V477.8H1335.5V477.7H1339.5V480.1H1343.5V480.7H1347.5V480.7H1351.5V481.4H1355.5V482.2H1359.5V480.5H1363.5V481.3H1367.5V480.8H1371.5V482.2H1375.5V482.3H1379.5V484.7H1383.5V485.1H1387.5V484.2H1391.5V484.9H1395.5V484.3H1399.5V485.5H1403.5V486.9H1407.5V487.4H1411.5V485.7H1415.5V486.8H1419.5V488.5H1423.5V489.2H1427.5V490.7H1431.5V489.2H1435.5V490.6H1439.5V490.3H1443.5V491.3H1447.5V492.2H1451.5V493.2H1455.5V492.6H1459.5V493.4H1463.5V492.6H1467.5V492.4H1471.5V494.5H1475.5V495.1H1479.5V494.1H1483.5V494.7H1487.5V496.1H1491.5V498.6H1495.5V499.5H1499.5V500H1503.5V497.8H1507.5V498.9H1511.5V500.2H1515.5V501.1H1519.5V501.8H1523.5V501.7H1527.5V504.1H1531.5V504.9H1535.5V504.3H1539.5V503.3H1543.5V506.3H1547.5V505.3H1551.5V507H1555.5V508.3H1559.5V507H1563.5V507.7H1567.5V507.7H1571.5V509H1575.5V509.6H1579.5V511.8H1583.5V511.9H1587.5V511.6H1591.5V513H1595.5V512.5H1599.5V512.5H1603.5V515.4H1607.5V514.2H1611.5V514.2H1615.5V515.1H1619.5V514.8H1623.5V514.7H1627.5V517.1H1631.5V517H1635.5V517.6H1639.5V518.5H1643.5V518.6H1647.5V518.9H1651.5V520.7H1655.5V524.1H1659.5V524.6H1663.5V525.2H1667.5V523.6H1671.5V524.9H1675.5V524.7H1679.5V527.2H1683.5V527.7H1687.5V528.7H1691.5V529.6H1695.5V529.9H1699.5V529.6H1703.5V532.1H1707.5V531.7H1711.5V532.2H1715.5V533.8H1719.5V534.5H1723.5V536.3H1727.5V538.2H1731.5V538.7H1735.5V539.3H1739.5V539.7H1743.5V541.1H1747.5V539.2H1751.5V540.9H1755.5V540.6H1759.5V540.5H1763.5V542H1767.5V542.6H1771.5V544.3H1775.5V546H1779.5V543.7H1783.5V545.4H1787.5V548.7H1791.5V549.6H1795.5V551H1799.5V550.9H1803.5V549.8H1807.5V550.1H1811.5V552.6H1815.5V554.5H1819.5V554.1H1823.5V554.9H1827.5V556.2H1831.5V555.2H1835.5V556.5H1839.5V559.6H1843.5V561.2H1847.5V561H1851.5V562.6H1855.5V561.8H1859.5V561.4H1863.5V560.8H1867.5V563.2H1871.5V563.6H1875.5V566.8H1879.5V566.7H1883.5V566.7H1887.5V565H1891.5V567.9H1895.5V567.6H1899.5V567.8H1903.5V566.5H1907.5V568.6H1911.5V570H1915.5V569.1H1919.5V569.6H1923.5V570.3H1927.5V571.4H1931.5V571.1H1935.5V572.8H1939.5V571.6H1943.5V570.8H1947.5V570.7H1951.5V569.6H1955.5V569.7H1959.5V571.7H1963.5V572H1967.5V571H1971.5V570.9H1975.5V567.5H1979.5V566H1983.5V564.8H1987.5V563H1991.5V559.4H1995.5V558.4H1999.5V557.6H2003.5V553.9H2007.5V552H2011.5V547.6H2015.5V544.6H2019.5V543.8H2023.5V542.2H2027.5V540.4H2031.5V537.7H2035.5V535.6H2039.5V534.9H2043.5V534.7H2047.5V532.1H2051.5V529.2H2055.5V530.8H2059.5V563.1H2055.5V569H2051.5V572.5H2047.5V569.1H2043.5V572.6H2039.5V574.7H2035.5V576.5H2031.5V579.7H2027.5V580.9H2023.5V580.4H2019.5V583.5H2015.5V584.2H2011.5V588H2007.5V590.8H2003.5V590.9H1999.5V594H1995.5V592.4H1991.5V593.9H1987.5V595.7H1983.5V594.4H1979.5V600.5H1975.5V603.6H1971.5V601.9H1967.5V602.7H1963.5V599.1H1959.5V600.2H1955.5V604.1H1951.5V601.9H1947.5V608.5H1943.5V598.5H1939.5V599.6H1935.5V603.4H1931.5V605.5H1927.5V602.4H1923.5V604.4H1919.5V602.5H1915.5V600.4H1911.5V599.8H1907.5V598.2H1903.5V600.8H1899.5V599.2H1895.5V600.2H1891.5V598.3H1887.5V598.6H1883.5V598H1879.5V594.2H1875.5V594.3H1871.5V602.5H1867.5V594.7H1863.5V600.4H1859.5V592.6H1855.5V598.5H1851.5V592.4H1847.5V591.6H1843.5V590.7H1839.5V590.2H1835.5V589.4H1831.5V589.2H1827.5V584.8H1823.5V589.3H1819.5V586.4H1815.5V585.3H1811.5V585.5H1807.5V585.8H1803.5V585.2H1799.5V584.5H1795.5V584.3H1791.5V583.6H1787.5V581.5H1783.5V581.9H1779.5V580.9H1775.5V578H1771.5V577.1H1767.5V576.7H1763.5V574.5H1759.5V578.3H1755.5V578.3H1751.5V580.9H1747.5V579.9H1743.5V575.9H1739.5V572.4H1735.5V571.9H1731.5V572.1H1727.5V570.7H1723.5V568H1719.5V565.9H1715.5V564.2H1711.5V563.4H1707.5V562.8H1703.5V568.6H1699.5V567.5H1695.5V566H1691.5V564.9H1687.5V565.9H1683.5V564.7H1679.5V563H1675.5V561.8H1671.5V562.2H1667.5V562.7H1663.5V561.6H1659.5V559.2H1655.5V560.7H1651.5V568.2H1647.5V562.5H1643.5V557.4H1639.5V555.2H1635.5V555H1631.5V556.9H1627.5V556.6H1623.5V554.7H1619.5V553.2H1615.5V550.3H1611.5V556.2H1607.5V555.4H1603.5V550.5H1599.5V551.2H1595.5V548.2H1591.5V557.7H1587.5V558.1H1583.5V548.7H1579.5V545.9H1575.5V547.1H1571.5V544.6H1567.5V541.3H1563.5V541.3H1559.5V538.1H1555.5V536.4H1551.5V535.7H1547.5V540.9H1543.5V541.3H1539.5V547.9H1535.5V542.9H1531.5V540.7H1527.5V545.3H1523.5V544.5H1519.5V536.9H1515.5V537.7H1511.5V541.1H1507.5V534.8H1503.5V530.1H1499.5V530.2H1495.5V530.4H1491.5V528.6H1487.5V528.8H1483.5V527.9H1479.5V526.9H1475.5V529.7H1471.5V527.6H1467.5V528.5H1463.5V528.3H1459.5V526.7H1455.5V524.2H1451.5V524.4H1447.5V526H1443.5V526.4H1439.5V527.7H1435.5V528H1431.5V523.3H1427.5V523.1H1423.5V520.7H1419.5V520.2H1415.5V517.5H1411.5V517H1407.5V521.4H1403.5V517.6H1399.5V519.3H1395.5V519.7H1391.5V517.9H1387.5V525.2H1383.5V519.3H1379.5V516.6H1375.5V516H1371.5V514.4H1367.5V512.3H1363.5V511.1H1359.5V515.4H1355.5V517H1351.5V513.4H1347.5V512.9H1343.5V510.7H1339.5V511H1335.5V512.9H1331.5V513.1H1327.5V513.4H1323.5V513.1H1319.5V511.7H1315.5V509.1H1311.5V511.9H1307.5V510.1H1303.5V505.3H1299.5V504.6H1295.5V506.9H1291.5V504.3H1287.5V503.9H1283.5V508.9H1279.5V505.5H1275.5V504.2H1271.5V502.5H1267.5V504.5H1263.5V505.4H1259.5V504.3H1255.5V504.2H1251.5V502.5H1247.5V502.4H1243.5V499.2H1239.5V499.9H1235.5V496.4H1231.5V499.1H1227.5V496.6H1223.5V495.6H1219.5V495.8H1215.5V495.5H1211.5V496.8H1207.5V496.1H1203.5V493.5H1199.5V497.7H1195.5V492.8H1191.5V497.8H1187.5V490H1183.5V490.4H1179.5V490.4H1175.5V492.8H1171.5V491.6H1167.5V487.4H1163.5V487.2H1159.5V487.3H1155.5V488.4H1151.5V486.1H1147.5V484.9H1143.5V483.3H1139.5V483H1135.5V481.7H1131.5V478H1127.5V480H1123.5V476.3H1119.5V476.3H1115.5V477.9H1111.5V477.4H1107.5V477.1H1103.5V478.4H1099.5V477.1H1095.5V474.6H1091.5V473.5H1087.5V471.3H1083.5V471.2H1079.5V471.1H1075.5V474.3H1071.5V474.2H1067.5V469.4H1063.5V466.3H1059.5V463.9H1055.5V463.3H1051.5V465.1H1047.5V463.7H1043.5V464.9H1039.5V462.2H1035.5V461.4H1031.5V461.9H1027.5V463.4H1023.5V461.6H1019.5V457.8H1015.5V457.7H1011.5V458.9H1007.5V464H1003.5V465.1H999.5V458.5H995.5V464.4H991.5V460.9H987.5V461.8H983.5V459.9H979.5V457.7H975.5V455.4H971.5V456H967.5V459.5H963.5V457.1H959.5V458.8H955.5V459.3H951.5V456.8H947.5V453.7H943.5V453.3H939.5V452.7H935.5V452.4H931.5V453.5H927.5V453.9H923.5V459.6H919.5V459H915.5V461.5H911.5V462.4H907.5V456.2H903.5V457.4H899.5V458.9H895.5V464.5H891.5V455.5H887.5V462.2H883.5V455.1H879.5V457.4H875.5V455.1H871.5V461.1H867.5V455.1H863.5V459.5H859.5V457.3H855.5V454.8H851.5V460.8H847.5V457.9H843.5V456.2H839.5V453H835.5V451.9H831.5V454.6H827.5V453.7H823.5V454.9H819.5V460.6H815.5V454H811.5V452.1H807.5V449.6H803.5V451H799.5V452.9H795.5V454.1H791.5V456H787.5V454.3H783.5V450.3H779.5V451.8H775.5V450H771.5V450.5H767.5V454.1H763.5V452.2H759.5V455.2H755.5V456.9H751.5V456.6H747.5V452.1H743.5V449.6H739.5V448.9H735.5V451H731.5V450.4H727.5V456.8H723.5V450.6H719.5V449.2H715.5V450.3H711.5V448H707.5V450.7H703.5V449H699.5V450.9H695.5V449.7H691.5V449.2H687.5V444.6H683.5V445.8H679.5V447.9H675.5V448.9H671.5V447H667.5V446.2H663.5V444.7H659.5V445.4H655.5V444.6H651.5V450.7H647.5V445.1H643.5V448.2H639.5V449.5H635.5V446.4H631.5V444.1H627.5V446.4H623.5V445.5H619.5V447.6H615.5V444.8H611.5V451.7H607.5V448.2H603.5V442.9H599.5V447H595.5V444H591.5V449.2H587.5V443.1H583.5V445.1H579.5V442.1H575.5V442H571.5V442.9H567.5V442.5H563.5V441.2H559.5V441.9H555.5V443.1H551.5V441.3H547.5V440.3H543.5V439.3H539.5V435.5H535.5V438.8H531.5V437.8H527.5V438.1H523.5V435.1H519.5V436H515.5V439.5H511.5V415.8H507.5V414.2H503.5V414H499.5V413.7H495.5V415.3H491.5V417.2H487.5V413.8H483.5V413.2H479.5V412.9H475.5V413.8H471.5V414.7H467.5V417.4H463.5V414.9H459.5V413.1H455.5V413.2H451.5V412.4H447.5V411.3H443.5V412H439.5V411.3H435.5V411.3H431.5V412.3H427.5V410.4H423.5V410.7H419.5V409.9H415.5V412.1H411.5V412.2H407.5V409.5H403.5V411.3H399.5V411.4H395.5V412.1H391.5V410.4H387.5V410.5H383.5V410H378.7Z" fill="#00ff00"/>
<path d="M378.7 523.3H383.5V523.7H387.5V524.1H391.5V524.5H395.5V524H399.5V524.1H403.5V523.4H407.5V523.3H411.5V523.4H415.5V523.6H419.5V523.6H423.5V523.8H427.5V524.5H431.5V524.5H435.5V524.3H439.5V526H443.5V525.9H447.5V525.8H451.5V526.4H455.5V526.1H459.5V527.2H463.5V526.3H467.5V526.2H471.5V526.8H475.5V526.8H479.5V528H483.5V527.2H487.5V527.3H491.5V527.9H495.5V528.4H499.5V528.8H503.5V528.7H507.5V529.3H511.5V529H515.5V528.8H519.5V529.4H523.5V528.5H527.5V528H531.5V527.6H535.5V527.2H539.5V526.5H543.5V526.8H547.5V526.1H551.5V527.3H555.5V525.9H559.5V529H563.5V529.7H567.5V529.6H571.5V528.2H575.5V527.1H579.5V528.4H583.5V527.8H587.5V527.9H591.5V526.6H595.5V527.7H599.5V526.3H603.5V526.5H607.5V524.6H611.5V524.8H615.5V526H619.5V525.5H623.5V525.2H627.5V526.3H631.5V525.8H635.5V526.8H639.5V523.4H643.5V524.8H647.5V525.3H651.5V523.3H655.5V522.6H659.5V524.2H663.5V522.9H667.5V522.6H671.5V523.6H675.5V522.9H679.5V523.3H683.5V521.9H687.5V522.3H691.5V523.2H695.5V522.6H699.5V519.6H703.5V521H707.5V520.8H711.5V519.6H715.5V521.2H719.5V518.5H723.5V520.8H727.5V519.1H731.5V520.4H735.5V519.2H739.5V517.1H743.5V517.4H747.5V517.6H751.5V517.7H755.5V518H759.5V515.9H763.5V516.2H767.5V516.2H771.5V515H775.5V513.5H779.5V512.5H783.5V513.5H787.5V513.7H791.5V511.8H795.5V510.1H799.5V511.7H803.5V509.3H807.5V509.6H811.5V508.5H815.5V507.1H819.5V507.6H823.5V507.3H827.5V508.6H831.5V508.9H835.5V507.5H839.5V507.5H843.5V507.2H847.5V505.3H851.5V503.8H855.5V505.5H859.5V504H863.5V503.5H867.5V502.9H871.5V502.6H875.5V501.8H879.5V502.6H883.5V503.3H887.5V501.9H891.5V500H895.5V500.5H899.5V499H903.5V499H907.5V500.8H911.5V502H915.5V501.2H919.5V499.1H923.5V499.8H927.5V497.1H931.5V497.1H935.5V499.4H939.5V499.5H943.5V497.2H947.5V496.1H951.5V497.6H955.5V497.4H959.5V496.6H963.5V497.2H967.5V496.3H971.5V494.8H975.5V496.4H979.5V495.6H983.5V494.9H987.5V494.3H991.5V495.4H995.5V494.9H999.5V496.2H1003.5V495.9H1007.5V497.4H1011.5V496.7H1015.5V496.4H1019.5V495.6H1023.5V496.1H1027.5V498.2H1031.5V501.1H1035.5V499.8H1039.5V499.4H1043.5V501H1047.5V502.2H1051.5V502H1055.5V503.1H1059.5V502.2H1063.5V503.5H1067.5V505.7H1071.5V507.7H1075.5V507.1H1079.5V507.2H1083.5V508.3H1087.5V509.8H1091.5V510.2H1095.5V509.6H1099.5V510.8H1103.5V512.4H1107.5V511.8H1111.5V511.4H1115.5V513.5H1119.5V514.7H1123.5V516.3H1127.5V516.5H1131.5V516.3H1135.5V516.9H1139.5V517H1143.5V517.5H1147.5V518.6H1151.5V519.5H1155.5V522H1159.5V521.2H1163.5V522.4H1167.5V522.7H1171.5V525.4H1175.5V525.7H1179.5V525.6H1183.5V527.1H1187.5V527.3H1191.5V527.2H1195.5V529.5H1199.5V529.9H1203.5V531.1H1207.5V531.6H1211.5V531.9H1215.5V531.5H1219.5V530.3H1223.5V531.9H1227.5V532.2H1231.5V533.2H1235.5V533.1H1239.5V532.6H1243.5V532.3H1247.5V534.2H1251.5V535.8H1255.5V535.2H1259.5V535.8H1263.5V537.3H1267.5V536H1271.5V536.1H1275.5V535.5H1279.5V537.9H1283.5V538.2H1287.5V537.9H1291.5V536.8H1295.5V538H1299.5V540H1303.5V539.9H1307.5V539.9H1311.5V541.2H1315.5V540.2H1319.5V541.2H1323.5V542.5H1327.5V541.9H1331.5V541.9H1335.5V543.2H1339.5V543.6H1343.5V543.9H1347.5V544.8H1351.5V545.4H1355.5V544.8H1359.5V545H1363.5V546.4H1367.5V548H1371.5V549.2H1375.5V547.7H1379.5V549.3H1383.5V549.9H1387.5V549.6H1391.5V550.2H1395.5V551.1H1399.5V552.4H1403.5V550.8H1407.5V551.9H1411.5V551.8H1415.5V552H1419.5V553.7H1423.5V554.4H1427.5V553.1H1431.5V553.5H1435.5V554.4H1439.5V553.5H1443.5V555.6H1447.5V555.8H1451.5V556.5H1455.5V557.2H1459.5V559.2H1463.5V558.6H1467.5V558.2H1471.5V560.5H1475.5V559.4H1479.5V559.2H1483.5V558.5H1487.5V561H1491.5V561.6H1495.5V562.3H1499.5V562.6H1503.5V562.7H1507.5V562.4H1511.5V562.5H1515.5V564.1H1519.5V564.8H1523.5V567H1527.5V565.8H1531.5V565.9H1535.5V565.6H1539.5V568.3H1543.5V567.1H1547.5V569H1551.5V570.8H1555.5V570.3H1559.5V571.3H1563.5V569.2H1567.5V570.3H1571.5V570.2H1575.5V571.9H1579.5V572.9H1583.5V573H1587.5V575.1H1591.5V575.7H1595.5V575.5H1599.5V575.8H1603.5V575.2H1607.5V576.7H1611.5V580H1615.5V579H1619.5V580.1H1623.5V579.9H1627.5V581.6H1631.5V582.3H1635.5V582.4H1639.5V581.2H1643.5V582.3H1647.5V584.9H1651.5V585H1655.5V586.3H1659.5V586.2H1663.5V585.2H1667.5V587.4H1671.5V588.7H1675.5V588.8H1679.5V589.4H1683.5V590.8H1687.5V591H1691.5V592.4H1695.5V593H1699.5V592H1703.5V593.4H1707.5V594.3H1711.5V594.9H1715.5V596.9H1719.5V597.3H1723.5V598.9H1727.5V600.7H1731.5V600.9H1735.5V599.8H1739.5V600.5H1743.5V602.9H1747.5V603.3H1751.5V603.3H1755.5V604.4H1759.5V606H1763.5V606.9H1767.5V608.1H1771.5V607.6H1775.5V608.3H1779.5V609.1H1783.5V610.1H1787.5V609.2H1791.5V610.7H1795.5V610.8H1799.5V614H1803.5V616.1H1807.5V617.1H1811.5V617.8H1815.5V617.1H1819.5V618.6H1823.5V618.6H1827.5V619.9H1831.5V619.4H1835.5V619.9H1839.5V621.8H1843.5V624.4H1847.5V624.4H1851.5V626.6H1855.5V627.7H1859.5V627.3H1863.5V628.1H1867.5V628.1H1871.5V629.5H1875.5V630.3H1879.5V631.7H1883.5V633.8H1887.5V635.2H1891.5V635.5H1895.5V635.7H1899.5V636.1H1903.5V636.5H1907.5V637.3H1911.5V637.2H1915.5V637.8H1919.5V636.4H1923.5V638H1927.5V639.8H1931.5V639H1935.5V637.1H1939.5V639H1943.5V638H1947.5V635.8H1951.5V635.7H1955.5V636.6H1959.5V636.5H1963.5V636.8H1967.5V635.9H1971.5V634.2H1975.5V630.2H1979.5V627.9H1983.5V626.7H1987.5V625.2H1991.5V621.2H1995.5V618.4H1999.5V616.9H2003.5V612.4H2007.5V609.7H2011.5V607.3H2015.5V605.4H2019.5V601.9H2023.5V597.2H2027.5V593.8H2031.5V588.2H2035.5V585H2039.5V581H2043.5V578.6H2047.5V576.8H2051.5V573.8H2055.5V573.2H2059.5V615.9H2055.5V618.5H2051.5V618.4H2047.5V623.6H2043.5V628.8H2039.5V633.8H2035.5V630H2031.5V630.2H2027.5V633.8H2023.5V636H2019.5V641.5H2015.5V643.2H2011.5V645.6H2007.5V647.9H2003.5V648.6H1999.5V651.3H1995.5V654.1H1991.5V653.9H1987.5V655.3H1983.5V658.4H1979.5V661.9H1975.5V661.8H1971.5V665.2H1967.5V668.5H1963.5V671.2H1959.5V675.9H1955.5V676H1951.5V673.5H1947.5V674.4H1943.5V673.8H1939.5V673.6H1935.5V674.6H1931.5V673.7H1927.5V673.5H1923.5V674.3H1919.5V676.5H1915.5V678.1H1911.5V677.3H1907.5V675.5H1903.5V672.7H1899.5V669.4H1895.5V672H1891.5V671.7H1887.5V667.5H1883.5V672.7H1879.5V670.4H1875.5V671.2H1871.5V667.1H1867.5V669.5H1863.5V667.3H1859.5V663.3H1855.5V660.7H1851.5V659H1847.5V659.3H1843.5V657.2H1839.5V654.3H1835.5V654H1831.5V659.3H1827.5V653.9H1823.5V652.6H1819.5V653.2H1815.5V650.9H1811.5V649.6H1807.5V647H1803.5V646.1H1799.5V653.6H1795.5V647.6H1791.5V647.7H1787.5V646H1783.5V654.8H1779.5V653.1H1775.5V644.2H1771.5V645.4H1767.5V641.7H1763.5V641.4H1759.5V641.1H1755.5V638.5H1751.5V636.5H1747.5V635.7H1743.5V638.3H1739.5V640.1H1735.5V638.8H1731.5V636.1H1727.5V633.1H1723.5V634.3H1719.5V632.9H1715.5V636.4H1711.5V632.3H1707.5V632.1H1703.5V631.9H1699.5V628.6H1695.5V627.9H1691.5V627.3H1687.5V624.8H1683.5V624.2H1679.5V622.6H1675.5V621.8H1671.5V621.9H1667.5V621.3H1663.5V621.4H1659.5V621.8H1655.5V624.9H1651.5V622.7H1647.5V624.6H1643.5V620.2H1639.5V618.2H1635.5V615.3H1631.5V616.4H1627.5V617H1623.5V615.8H1619.5V613.1H1615.5V611.8H1611.5V618.2H1607.5V614.8H1603.5V612.4H1599.5V610.8H1595.5V608.6H1591.5V607.4H1587.5V609.4H1583.5V612.1H1579.5V608.7H1575.5V607.6H1571.5V605.4H1567.5V607.2H1563.5V608.6H1559.5V602.9H1555.5V601.5H1551.5V602.3H1547.5V603.6H1543.5V600.6H1539.5V602.5H1535.5V604.7H1531.5V605.6H1527.5V598.7H1523.5V596.5H1519.5V599.9H1515.5V598.7H1511.5V596.6H1507.5V597H1503.5V598.2H1499.5V597.8H1495.5V597.1H1491.5V597.3H1487.5V599.6H1483.5V599.6H1479.5V600.2H1475.5V598.7H1471.5V593.6H1467.5V594H1463.5V594.2H1459.5V594.9H1455.5V591.3H1451.5V589.8H1447.5V589.7H1443.5V589.1H1439.5V588.4H1435.5V587.9H1431.5V589.8H1427.5V588.9H1423.5V589.8H1419.5V586H1415.5V586.2H1411.5V585.4H1407.5V584.8H1403.5V585.1H1399.5V582.1H1395.5V582.6H1391.5V582.2H1387.5V581H1383.5V583.4H1379.5V582.7H1375.5V585H1371.5V583H1367.5V583.8H1363.5V585.2H1359.5V591.3H1355.5V590.3H1351.5V585.4H1347.5V582.9H1343.5V578.6H1339.5V579.9H1335.5V579.1H1331.5V577.8H1327.5V578.1H1323.5V577.7H1319.5V579.1H1315.5V575.8H1311.5V575H1307.5V583.5H1303.5V584.5H1299.5V574.9H1295.5V574H1291.5V572.5H1287.5V572.1H1283.5V571.7H1279.5V569.7H1275.5V569.8H1271.5V570.5H1267.5V572.4H1263.5V571.8H1259.5V571.8H1255.5V567.8H1251.5V568.9H1247.5V567.6H1243.5V568.1H1239.5V570.5H1235.5V570.7H1231.5V569.3H1227.5V563.8H1223.5V565.7H1219.5V566.7H1215.5V564.5H1211.5V561.8H1207.5V562.2H1203.5V568.1H1199.5V562.5H1195.5V562.3H1191.5V562.3H1187.5V560.7H1183.5V567.2H1179.5V564.6H1175.5V559.1H1171.5V560.6H1167.5V558H1163.5V560.8H1159.5V557.9H1155.5V557H1151.5V555.7H1147.5V554.9H1143.5V551.2H1139.5V552.4H1135.5V554.8H1131.5V553.4H1127.5V551.6H1123.5V550.9H1119.5V550.1H1115.5V551.7H1111.5V550.2H1107.5V547.2H1103.5V548.7H1099.5V545.9H1095.5V544.3H1091.5V545.4H1087.5V545.8H1083.5V550.3H1079.5V550.3H1075.5V544.8H1071.5V543.4H1067.5V542.1H1063.5V544.2H1059.5V538.2H1055.5V543.8H1051.5V541.9H1047.5V539.1H1043.5V536.3H1039.5V540H1035.5V535.5H1031.5V537.9H1027.5V533.9H1023.5V531.6H1019.5V531.2H1015.5V531.8H1011.5V532.6H1007.5V531.7H1003.5V528.4H999.5V527.9H995.5V529.6H991.5V530.6H987.5V531.4H983.5V529.5H979.5V533.9H975.5V533.1H971.5V529.9H967.5V527.6H963.5V529.1H959.5V528.6H955.5V527.2H951.5V529.2H947.5V528.2H943.5V530.1H939.5V530.1H935.5V531.1H931.5V532.3H927.5V539.3H923.5V533.7H919.5V533.5H915.5V535.4H911.5V534.6H907.5V533.1H903.5V537.2H899.5V536.9H895.5V535.2H891.5V537.2H887.5V540H883.5V538.6H879.5V540.7H875.5V536.8H871.5V537.2H867.5V537.3H863.5V540.9H859.5V538.5H855.5V539.6H851.5V543.3H847.5V544.3H843.5V540.5H839.5V540H835.5V543H831.5V544.7H827.5V540.7H823.5V546.1H819.5V544.9H815.5V545.6H811.5V544.9H807.5V547H803.5V543.9H799.5V545.8H795.5V546.1H791.5V550.2H787.5V546.4H783.5V548.4H779.5V547.9H775.5V548H771.5V553.7H767.5V555.1H763.5V548.9H759.5V550.8H755.5V554.2H751.5V551.8H747.5V551.4H743.5V547.8H739.5V549.9H735.5V549.4H731.5V551.4H727.5V547.6H723.5V552.1H719.5V556.8H715.5V551.7H711.5V552H707.5V551.7H703.5V557.2H699.5V552.1H695.5V551.1H691.5V551.6H687.5V552.7H683.5V554H679.5V552H675.5V552.8H671.5V553.5H667.5V551.8H663.5V554.3H659.5V556.5H655.5V554H651.5V556.9H647.5V557.1H643.5V557.4H639.5V556.1H635.5V556.2H631.5V556.1H627.5V556.4H623.5V558.3H619.5V557H615.5V555.5H611.5V556.4H607.5V559.9H603.5V559.9H599.5V560.7H595.5V562.1H591.5V564.1H587.5V563.6H583.5V566.6H579.5V563.2H575.5V561.5H571.5V563H567.5V555.5H563.5V554.6H559.5V553.5H555.5V555.8H551.5V556.5H547.5V562H543.5V558.5H539.5V559H535.5V559.6H531.5V558.3H527.5V560.4H523.5V557.8H519.5V556.3H515.5V556.7H511.5V538.3H507.5V537.8H503.5V538.3H499.5V537.7H495.5V540.3H491.5V540H487.5V541.4H483.5V537.4H479.5V538H475.5V536.4H471.5V536.8H467.5V537.6H463.5V537.3H459.5V538H455.5V538.8H451.5V538.7H447.5V538.2H443.5V537H439.5V536.4H435.5V537.6H431.5V537.4H427.5V537.8H423.5V536.8H419.5V536.3H415.5V536.5H411.5V536.7H407.5V536.6H403.5V537.7H399.5V537.8H395.5V537.2H391.5V538.3H387.5V537.6H383.5V537.6H378.7Z" fill="#0000ff"/>
<path d="M378.7 645.2H383.5V645.3H387.5V645H391.5V645.5H395.5V644.9H399.5V645.3H403.5V645.3H407.5V645.9H411.5V645.2H415.5V645.1H419.5V645.2H423.5V646.3H427.5V645.2H431.5V645.5H435.5V645.2H439.5V645.4H443.5V645.7H447.5V645.6H451.5V645.6H455.5V645.6H459.5V645.2H463.5V645.1H467.5V644.5H471.5V644.7H475.5V644.6H479.5V644.8H483.5V645.3H487.5V645.3H491.5V645.4H495.5V645.6H499.5V644.2H503.5V644.8H507.5V644.8H511.5V644.7H515.5V643.4H519.5V644.5H523.5V645.5H527.5V645.6H531.5V644.4H535.5V644.4H539.5V644.5H543.5V644.7H547.5V644.4H551.5V643.2H555.5V642.2H559.5V641.7H563.5V641.3H567.5V640.2H571.5V640.7H575.5V639.3H579.5V638.4H583.5V638.8H587.5V637.9H591.5V637.5H595.5V635.6H599.5V636.9H603.5V636.5H607.5V636H611.5V636H615.5V635.5H619.5V634.1H623.5V635.9H627.5V634H631.5V634.2H635.5V634.5H639.5V632.5H643.5V631.7H647.5V630.2H651.5V630.9H655.5V629.5H659.5V627.7H663.5V628.9H667.5V628.6H671.5V626.2H675.5V626.8H679.5V625.6H683.5V626.1H687.5V625.2H691.5V623.2H695.5V621.7H699.5V619.9H703.5V619.6H707.5V618.9H711.5V618.8H715.5V617.7H719.5V615.2H723.5V614.2H727.5V615.5H731.5V615.4H735.5V613.5H739.5V612.2H743.5V611.1H747.5V610.4H751.5V607.8H755.5V608.7H759.5V607.1H763.5V606.7H767.5V604H771.5V604.1H775.5V605H779.5V601.5H783.5V603H787.5V602.2H791.5V600.2H795.5V598H799.5V599.2H803.5V598.4H807.5V597.8H811.5V596.3H815.5V594.5H819.5V594.9H823.5V592.8H827.5V593.2H831.5V590.4H835.5V589.3H839.5V588H843.5V589.4H847.5V586.7H851.5V585.5H855.5V586.3H859.5V585.8H863.5V586.7H867.5V585.9H871.5V584.9H875.5V583.7H879.5V580.2H883.5V579.1H887.5V578.7H891.5V578.2H895.5V576.4H899.5V575.5H903.5V574.7H907.5V575.7H911.5V575H915.5V573.4H919.5V572.2H923.5V571.8H927.5V570.3H931.5V569.6H935.5V567.6H939.5V568.9H943.5V569.6H947.5V569.1H951.5V568.9H955.5V568.5H959.5V569.4H963.5V568.5H967.5V566.3H971.5V565.5H975.5V566.8H979.5V567.7H983.5V567.8H987.5V568H991.5V567.4H995.5V565.5H999.5V565.4H1003.5V564.6H1007.5V565.2H1011.5V564.6H1015.5V565.8H1019.5V566.1H1023.5V564.6H1027.5V566.4H1031.5V567.4H1035.5V565.9H1039.5V567H1043.5V568.2H1047.5V568.1H1051.5V569.4H1055.5V569.6H1059.5V570.9H1063.5V570.8H1067.5V570.6H1071.5V571.3H1075.5V572.1H1079.5V572.1H1083.5V571.6H1087.5V571.2H1091.5V571.6H1095.5V571.8H1099.5V572.8H1103.5V573.4H1107.5V573.6H1111.5V574H1115.5V574.6H1119.5V576.4H1123.5V577.2H1127.5V576H1131.5V576.8H1135.5V576.7H1139.5V577.2H1143.5V577.6H1147.5V577.8H1151.5V577.5H1155.5V577.9H1159.5V579.3H1163.5V581.8H1167.5V581.3H1171.5V582.8H1175.5V582.9H1179.5V584H1183.5V583.8H1187.5V584.8H1191.5V585.8H1195.5V585.1H1199.5V587H1203.5V588.1H1207.5V587.5H1211.5V589.4H1215.5V590.1H1219.5V590.7H1223.5V591H1227.5V590.2H1231.5V589H1235.5V588.9H1239.5V588.7H1243.5V591.1H1247.5V591.2H1251.5V589.9H1255.5V589.2H1259.5V589.8H1263.5V590.4H1267.5V589.7H1271.5V589.3H1275.5V592.4H1279.5V593.1H1283.5V591.2H1287.5V590.6H1291.5V591.3H1295.5V593.1H1299.5V594.6H1303.5V594.7H1307.5V593.7H1311.5V595.4H1315.5V596.8H1319.5V597.1H1323.5V596.9H1327.5V598.2H1331.5V598.4H1335.5V597.6H1339.5V598.7H1343.5V598.1H1347.5V600.3H1351.5V601H1355.5V600.1H1359.5V601.2H1363.5V602.9H1367.5V600.6H1371.5V601.7H1375.5V604.3H1379.5V602.5H1383.5V603.3H1387.5V602.7H1391.5V604H1395.5V603.4H1399.5V603.9H1403.5V604.4H1407.5V606H1411.5V607.2H1415.5V608.1H1419.5V609.5H1423.5V609.9H1427.5V610.4H1431.5V609.2H1435.5V609.7H1439.5V612.5H1443.5V613H1447.5V613.5H1451.5V613.9H1455.5V614.3H1459.5V613.4H1463.5V615.5H1467.5V614.6H1471.5V614.7H1475.5V617H1479.5V614.4H1483.5V615.9H1487.5V614.7H1491.5V615.5H1495.5V616.8H1499.5V617.3H1503.5V618.4H1507.5V618.3H1511.5V619.1H1515.5V618.8H1519.5V619.7H1523.5V619.4H1527.5V621.7H1531.5V621.1H1535.5V623.2H1539.5V623.3H1543.5V623.9H1547.5V626H1551.5V626.3H1555.5V624.7H1559.5V626.8H1563.5V625.9H1567.5V627.4H1571.5V628.3H1575.5V628.1H1579.5V629.9H1583.5V630.7H1587.5V633.8H1591.5V633.1H1595.5V635.4H1599.5V636.1H1603.5V635.2H1607.5V634.8H1611.5V637.2H1615.5V637.1H1619.5V637.8H1623.5V638H1627.5V637.5H1631.5V638.5H1635.5V638.7H1639.5V638.9H1643.5V640.2H1647.5V643.4H1651.5V644.8H1655.5V644.5H1659.5V644.8H1663.5V645.7H1667.5V647.4H1671.5V647.5H1675.5V647.1H1679.5V647.4H1683.5V649.5H1687.5V651.3H1691.5V650.8H1695.5V649.1H1699.5V651.6H1703.5V652.3H1707.5V653.2H1711.5V655.2H1715.5V655.3H1719.5V654.4H1723.5V654.3H1727.5V655.8H1731.5V656H1735.5V658H1739.5V657.8H1743.5V659H1747.5V658.9H1751.5V660.3H1755.5V661.3H1759.5V663.3H1763.5V665.3H1767.5V665.1H1771.5V664.8H1775.5V667.9H1779.5V668.1H1783.5V668.9H1787.5V669.7H1791.5V671.3H1795.5V672H1799.5V672.4H1803.5V673.1H1807.5V672.1H1811.5V672.4H1815.5V673.4H1819.5V674.5H1823.5V675.3H1827.5V676.3H1831.5V676.9H1835.5V677.1H1839.5V676.3H1843.5V679H1847.5V680.3H1851.5V679.9H1855.5V681.7H1859.5V682.8H1863.5V683.5H1867.5V682.3H1871.5V682.9H1875.5V684.1H1879.5V687.3H1883.5V686.5H1887.5V687H1891.5V686.6H1895.5V687.2H1899.5V688.4H1903.5V686.8H1907.5V686.8H1911.5V687.5H1915.5V688H1919.5V687.3H1923.5V688.4H1927.5V688.7H1931.5V685.4H1935.5V685.7H1939.5V686.8H1943.5V685.1H1947.5V684H1951.5V684.2H1955.5V682.2H1959.5V679.5H1963.5V678H1967.5V675.7H1971.5V675.4H1975.5V671.5H1979.5V671H1983.5V666.4H1987.5V664.4H1991.5V660.3H1995.5V658.1H1999.5V656.9H2003.5V655H2007.5V652.7H2011.5V648.6H2015.5V645.3H2019.5V642.2H2023.5V639.6H2027.5V635.5H2031.5V633.3H2035.5V629.7H2039.5V627.4H2043.5V624.3H2047.5V621.9H2051.5V618.1H2055.5V615.6H2059.5V645.3H2055.5V648.7H2051.5V653H2047.5V654.1H2043.5V660.3H2039.5V662.2H2035.5V666.6H2031.5V670.3H2027.5V669.5H2023.5V671.2H2019.5V672.7H2015.5V677.6H2011.5V679.8H2007.5V684.2H2003.5V684.6H1999.5V686.4H1995.5V690.2H1991.5V692H1987.5V693.7H1983.5V699.1H1979.5V701.8H1975.5V703.7H1971.5V704.3H1967.5V708.2H1963.5V707.5H1959.5V712.2H1955.5V709.8H1951.5V719H1947.5V721.7H1943.5V715.3H1939.5V717.3H1935.5V718.7H1931.5V723.1H1927.5V719.8H1923.5V719.1H1919.5V716.2H1915.5V716.2H1911.5V717.4H1907.5V725.1H1903.5V719.7H1899.5V718.5H1895.5V719.5H1891.5V715.5H1887.5V713.9H1883.5V715.5H1879.5V719.9H1875.5V711.2H1871.5V713.8H1867.5V712.3H1863.5V711.8H1859.5V711.2H1855.5V709.5H1851.5V711.9H1847.5V709.8H1843.5V708.5H1839.5V706.4H1835.5V706H1831.5V706.5H1827.5V708.1H1823.5V704.4H1819.5V703.9H1815.5V703.9H1811.5V703.2H1807.5V702.8H1803.5V701.8H1799.5V702.5H1795.5V699.6H1791.5V699.3H1787.5V696.5H1783.5V697.2H1779.5V697.9H1775.5V691.8H1771.5V692.6H1767.5V691.9H1763.5V690.8H1759.5V691.5H1755.5V691.8H1751.5V689.2H1747.5V691H1743.5V688.3H1739.5V686.3H1735.5V690.2H1731.5V687.7H1727.5V684.8H1723.5V685.9H1719.5V688.4H1715.5V681.5H1711.5V681.6H1707.5V679.5H1703.5V681.2H1699.5V679.6H1695.5V679.9H1691.5V675.7H1687.5V676.8H1683.5V677.7H1679.5V677.3H1675.5V680.8H1671.5V676.5H1667.5V675.8H1663.5V674.2H1659.5V673H1655.5V674.7H1651.5V674.1H1647.5V671.9H1643.5V671.6H1639.5V671.6H1635.5V669.7H1631.5V666.9H1627.5V667H1623.5V663.7H1619.5V665.2H1615.5V665.9H1611.5V664H1607.5V662.1H1603.5V664.6H1599.5V661.8H1595.5V662.7H1591.5V660.7H1587.5V659.6H1583.5V658.3H1579.5V656.6H1575.5V654.8H1571.5V655.1H1567.5V660.1H1563.5V662.2H1559.5V657.5H1555.5V656.9H1551.5V655.9H1547.5V657.2H1543.5V653.7H1539.5V650.4H1535.5V649.7H1531.5V649.6H1527.5V652.1H1523.5V652.5H1519.5V653.2H1515.5V651.4H1511.5V658.4H1507.5V649H1503.5V645.5H1499.5V643.2H1495.5V643.8H1491.5V644.3H1487.5V647.1H1483.5V646.1H1479.5V644.9H1475.5V648.9H1471.5V643.8H1467.5V643.6H1463.5V643.8H1459.5V641.9H1455.5V641.8H1451.5V643H1447.5V643.6H1443.5V639.7H1439.5V644.2H1435.5V639H1431.5V638.9H1427.5V638H1423.5V636.3H1419.5V636.6H1415.5V635.8H1411.5V636.4H1407.5V637.1H1403.5V636.4H1399.5V637.1H1395.5V637.1H1391.5V637.5H1387.5V634.8H1383.5V636.3H1379.5V633H1375.5V634H1371.5V635H1367.5V637.7H1363.5V629.2H1359.5V627.2H1355.5V628.3H1351.5V630.5H1347.5V631.2H1343.5V627.8H1339.5V628.1H1335.5V628.8H1331.5V624.8H1327.5V630.2H1323.5V629H1319.5V626.7H1315.5V625.8H1311.5V630H1307.5V629.7H1303.5V631H1299.5V631.3H1295.5V623.9H1291.5V619.8H1287.5V621.1H1283.5V620.4H1279.5V624.1H1275.5V623.2H1271.5V624.6H1267.5V622.1H1263.5V620.9H1259.5V619.5H1255.5V618.4H1251.5V617.6H1247.5V616.1H1243.5V615.2H1239.5V615.5H1235.5V621.4H1231.5V619.2H1227.5V616.3H1223.5V618H1219.5V616.4H1215.5V617.5H1211.5V618.7H1207.5V618.3H1203.5V618.7H1199.5V618.3H1195.5V617.3H1191.5V613.8H1187.5V617.6H1183.5V613.1H1179.5V613.1H1175.5V618.6H1171.5V617.4H1167.5V609.9H1163.5V607.1H1159.5V607H1155.5V606.6H1151.5V607.1H1147.5V610.3H1143.5V606.6H1139.5V605.1H1135.5V606.7H1131.5V605.3H1127.5V602.6H1123.5V605.3H1119.5V605.2H1115.5V605.4H1111.5V603.9H1107.5V606.4H1103.5V599H1099.5V599.8H1095.5V600.6H1091.5V600.4H1087.5V601.5H1083.5V605.2H1079.5V603.4H1075.5V609.9H1071.5V605.2H1067.5V602.8H1063.5V604H1059.5V601H1055.5V602.5H1051.5V602.3H1047.5V601H1043.5V598.6H1039.5V598H1035.5V596.2H1031.5V597H1027.5V595.9H1023.5V595.9H1019.5V596.3H1015.5V596.2H1011.5V600.8H1007.5V602.5H1003.5V597.6H999.5V596.1H995.5V596.8H991.5V597.8H987.5V596.9H983.5V599.6H979.5V604.1H975.5V596.7H971.5V597.7H967.5V599.2H963.5V596.6H959.5V594.3H955.5V593.7H951.5V594H947.5V594.3H943.5V596.7H939.5V605H935.5V600.8H931.5V601.6H927.5V599.8H923.5V602.3H919.5V602.4H915.5V602.8H911.5V605.3H907.5V601.9H903.5V602.8H899.5V605.4H895.5V608.1H891.5V606.6H887.5V608.3H883.5V607.2H879.5V609.6H875.5V612.9H871.5V619.2H867.5V620H863.5V617.2H859.5V618.8H855.5V617.8H851.5V618H847.5V621.7H843.5V620.9H839.5V622.4H835.5V620.2H831.5V626.9H827.5V622.2H823.5V622.7H819.5V622.8H815.5V625.9H811.5V628H807.5V629.3H803.5V629.3H799.5V626.7H795.5V631.7H791.5V633.7H787.5V635.2H783.5V634H779.5V637.6H775.5V637.2H771.5V636.2H767.5V635.2H763.5V644.1H759.5V640H755.5V638.8H751.5V638.2H747.5V637.9H743.5V643.8H739.5V642.6H735.5V646.2H731.5V648.1H727.5V647.4H723.5V648.7H719.5V648.8H715.5V647.7H711.5V648.4H707.5V650.2H703.5V650.8H699.5V652.2H695.5V653.7H691.5V656.1H687.5V662.2H683.5V651.7H679.5V652.4H675.5V652.4H671.5V654.2H667.5V654H663.5V654.4H659.5V655.1H655.5V660H651.5V660.9H647.5V660.2H643.5V658.1H639.5V658.2H635.5V660H631.5V662.7H627.5V662.6H623.5V665.4H619.5V666.9H615.5V662.8H611.5V665.1H607.5V672.8H603.5V667.2H599.5V668.2H595.5V673.3H591.5V674H587.5V671.4H583.5V670.7H579.5V672.3H575.5V677H571.5V672.2H567.5V669.3H563.5V670.8H559.5V672.6H555.5V670.7H551.5V668.7H547.5V669.9H543.5V672H539.5V671.3H535.5V671H531.5V678.2H527.5V681H523.5V676.1H519.5V675.8H515.5V674.9H511.5V659.7H507.5V657.9H503.5V658.7H499.5V658.4H495.5V658.8H491.5V657.7H487.5V657.5H483.5V658.5H479.5V662.1H475.5V662.5H471.5V660.2H467.5V657.6H463.5V656.5H459.5V656.7H455.5V656.9H451.5V656.1H447.5V657.5H443.5V657H439.5V657H435.5V657.6H431.5V656.4H427.5V658.7H423.5V657.2H419.5V657.1H415.5V659.8H411.5V659.7H407.5V659.1H403.5V660.1H399.5V657.2H395.5V658.3H391.5V657.4H387.5V657.2H383.5V657H378.7Z" fill="#00ffff"/>
<path d="M378.7 658.3H383.5V658.5H387.5V659H391.5V659.4H395.5V659H399.5V658.6H403.5V658.6H407.5V658.8H411.5V659.4H415.5V659.1H419.5V659.7H423.5V658.9H427.5V659.1H431.5V659.7H435.5V659.8H439.5V659.5H443.5V658.8H447.5V658.5H451.5V658.7H455.5V659H459.5V658.9H463.5V658.2H467.5V658.3H471.5V658.9H475.5V659.4H479.5V658.5H483.5V658.6H487.5V658.1H491.5V658.3H495.5V659.9H499.5V659.6H503.5V659.1H507.5V658.8H511.5V657.5H515.5V657H519.5V657.5H523.5V657.7H527.5V659.4H531.5V656.7H535.5V657.5H539.5V658.5H543.5V655.3H547.5V656.3H551.5V654.1H555.5V655.1H559.5V656.3H563.5V655H567.5V654.5H571.5V652.9H575.5V652.9H579.5V653.5H583.5V651.9H587.5V650.9H591.5V650.6H595.5V650.6H599.5V647.5H603.5V647.6H607.5V646.4H611.5V646.8H615.5V647.1H619.5V646.2H623.5V646.5H627.5V643.9H631.5V643.1H635.5V641.9H639.5V642.1H643.5V641.9H647.5V641.2H651.5V639.4H655.5V639.4H659.5V638.5H663.5V638.8H667.5V637.5H671.5V638H675.5V636.7H679.5V633.4H683.5V633.2H687.5V631.3H691.5V632.4H695.5V632.9H699.5V631H703.5V630.2H707.5V627.3H711.5V625.5H715.5V624.7H719.5V624.5H723.5V622.7H727.5V622.9H731.5V622.8H735.5V622.5H739.5V622.8H743.5V621.6H747.5V619.3H751.5V618.2H755.5V617.7H759.5V615.2H763.5V616.1H767.5V615.5H771.5V613.5H775.5V611.6H779.5V613.1H783.5V612.2H787.5V611.2H791.5V610.3H795.5V609.4H799.5V607.9H803.5V607.1H807.5V604.6H811.5V604.7H815.5V601.9H819.5V602.3H823.5V602.2H827.5V599.4H831.5V601.4H835.5V598.6H839.5V599.1H843.5V597.2H847.5V596.7H851.5V594.9H855.5V596.4H859.5V595.4H863.5V594.3H867.5V593.1H871.5V591.5H875.5V589.4H879.5V587.3H883.5V586.4H887.5V584.8H891.5V583.1H895.5V580.4H899.5V579.7H903.5V579.7H907.5V577.8H911.5V577.2H915.5V575.8H919.5V573.6H923.5V572.2H927.5V571.3H931.5V570.9H935.5V570.4H939.5V571.4H943.5V569.4H947.5V567.7H951.5V568.9H955.5V568.3H959.5V568.2H963.5V570.3H967.5V570H971.5V569.7H975.5V569.6H979.5V568.6H983.5V569.1H987.5V567.6H991.5V566.9H995.5V566.8H999.5V568.9H1003.5V569.5H1007.5V568H1011.5V569H1015.5V568.1H1019.5V569H1023.5V567.9H1027.5V568.8H1031.5V568.2H1035.5V568H1039.5V568.4H1043.5V569.1H1047.5V568.9H1051.5V568.3H1055.5V571.5H1059.5V571.1H1063.5V569.6H1067.5V569.8H1071.5V570.2H1075.5V570.5H1079.5V573H1083.5V571.5H1087.5V572.3H1091.5V571.6H1095.5V573.9H1099.5V574.5H1103.5V574.9H1107.5V576.3H1111.5V576.9H1115.5V577.2H1119.5V576.1H1123.5V574.8H1127.5V574.8H1131.5V575H1135.5V578.3H1139.5V578.2H1143.5V578.9H1147.5V579.7H1151.5V582H1155.5V581.2H1159.5V583H1163.5V583.2H1167.5V583.3H1171.5V581.8H1175.5V584.5H1179.5V584.4H1183.5V585H1187.5V586.4H1191.5V587.4H1195.5V589.3H1199.5V588.8H1203.5V589.8H1207.5V590.8H1211.5V591.2H1215.5V592.3H1219.5V592H1223.5V593.4H1227.5V592.1H1231.5V590.7H1235.5V591.7H1239.5V593.4H1243.5V592.5H1247.5V592H1251.5V592.3H1255.5V593.1H1259.5V593.4H1263.5V594.3H1267.5V592.8H1271.5V595.9H1275.5V596.6H1279.5V595.8H1283.5V598.2H1287.5V598.7H1291.5V600.3H1295.5V598.8H1299.5V601.5H1303.5V601.4H1307.5V599.5H1311.5V602H1315.5V602.4H1319.5V602.2H1323.5V603.3H1327.5V602.7H1331.5V605H1335.5V605.8H1339.5V606.4H1343.5V608.9H1347.5V609H1351.5V608.7H1355.5V608.7H1359.5V610.1H1363.5V612.3H1367.5V611.9H1371.5V611.7H1375.5V614.1H1379.5V614.6H1383.5V615.1H1387.5V617.6H1391.5V616.1H1395.5V617.1H1399.5V615.8H1403.5V617.1H1407.5V618.9H1411.5V620.6H1415.5V619.2H1419.5V621.1H1423.5V622.2H1427.5V622H1431.5V624.1H1435.5V624.1H1439.5V623H1443.5V624.3H1447.5V622.8H1451.5V626H1455.5V627.3H1459.5V626.7H1463.5V627.9H1467.5V628.8H1471.5V630.5H1475.5V629.8H1479.5V629H1483.5V628.9H1487.5V630.2H1491.5V630.5H1495.5V632.1H1499.5V634H1503.5V634.4H1507.5V634.5H1511.5V637.2H1515.5V637.4H1519.5V638.4H1523.5V640H1527.5V638.8H1531.5V639H1535.5V643H1539.5V642.6H1543.5V641.8H1547.5V642.7H1551.5V643.1H1555.5V643H1559.5V644.2H1563.5V645.6H1567.5V646.6H1571.5V648H1575.5V646.6H1579.5V646.9H1583.5V649.5H1587.5V649.8H1591.5V652.2H1595.5V652.7H1599.5V651.5H1603.5V653.4H1607.5V653.1H1611.5V654.7H1615.5V656.9H1619.5V658.4H1623.5V658.4H1627.5V659.3H1631.5V659.7H1635.5V660.9H1639.5V658.4H1643.5V659.9H1647.5V661.8H1651.5V663.2H1655.5V663.1H1659.5V665.1H1663.5V666.8H1667.5V666.9H1671.5V667.1H1675.5V667.5H1679.5V668.7H1683.5V670.9H1687.5V672.4H1691.5V671.9H1695.5V671.6H1699.5V672.1H1703.5V674.7H1707.5V675.5H1711.5V676.5H1715.5V677.6H1719.5V678.5H1723.5V678.8H1727.5V678.5H1731.5V679.3H1735.5V680.8H1739.5V682.3H1743.5V682.6H1747.5V683.1H1751.5V685.6H1755.5V685.2H1759.5V686.2H1763.5V686.5H1767.5V686.4H1771.5V686.1H1775.5V687.4H1779.5V688.1H1783.5V690.5H1787.5V689.9H1791.5V690.8H1795.5V692.7H1799.5V693.2H1803.5V694.4H1807.5V695.7H1811.5V694.1H1815.5V695H1819.5V695.3H1823.5V698.2H1827.5V698.4H1831.5V699.5H1835.5V701.5H1839.5V700.9H1843.5V701.6H1847.5V702.7H1851.5V703.1H1855.5V705.4H1859.5V706.5H1863.5V707.8H1867.5V707.9H1871.5V708H1875.5V708.5H1879.5V709.2H1883.5V708.5H1887.5V710.7H1891.5V712.4H1895.5V712.4H1899.5V712.1H1903.5V712.5H1907.5V712.7H1911.5V712.8H1915.5V713.9H1919.5V711.6H1923.5V711.3H1927.5V711.2H1931.5V710.1H1935.5V708.9H1939.5V707.2H1943.5V706.4H1947.5V707H1951.5V707.6H1955.5V705.1H1959.5V704.5H1963.5V703.6H1967.5V702.9H1971.5V700.7H1975.5V698.4H1979.5V696.2H1983.5V691.4H1987.5V688.8H1991.5V684H1995.5V681H1999.5V678.3H2003.5V675.7H2007.5V674.6H2011.5V673.5H2015.5V670.1H2019.5V667.2H2023.5V664H2027.5V660.4H2031.5V656.5H2035.5V652.3H2039.5V647.2H2043.5V642.5H2047.5V639.4H2051.5V638.9H2055.5V637.2H2059.5V665.3H2055.5V669.4H2051.5V671.3H2047.5V671.9H2043.5V676.4H2039.5V681.5H2035.5V684.8H2031.5V691H2027.5V694.5H2023.5V698.8H2019.5V698.9H2015.5V705.7H2011.5V703.5H2007.5V703.3H2003.5V710H1999.5V715.9H1995.5V718.2H1991.5V718.4H1987.5V719.9H1983.5V724.8H1979.5V725.1H1975.5V727.1H1971.5V728.2H1967.5V729.4H1963.5V732H1959.5V735.1H1955.5V736.3H1951.5V737.7H1947.5V742.3H1943.5V737.8H1939.5V739.6H1935.5V741.3H1931.5V741.8H1927.5V742.3H1923.5V738.2H1919.5V740.7H1915.5V743.9H1911.5V745.3H1907.5V750.5H1903.5V745.2H1899.5V743.9H1895.5V744.3H1891.5V742.4H1887.5V742.2H1883.5V740.4H1879.5V738.8H1875.5V735.8H1871.5V734.9H1867.5V733.7H1863.5V732.7H1859.5V733.7H1855.5V733.3H1851.5V734.6H1847.5V732.8H1843.5V731.4H1839.5V728.5H1835.5V727.4H1831.5V727.2H1827.5V732.7H1823.5V729.9H1819.5V725.2H1815.5V722.2H1811.5V720.1H1807.5V719.4H1803.5V718.7H1799.5V721H1795.5V719.6H1791.5V716.6H1787.5V717.5H1783.5V719.2H1779.5V719H1775.5V718.3H1771.5V719.8H1767.5V719.7H1763.5V720.6H1759.5V714.6H1755.5V715.5H1751.5V713.4H1747.5V712.2H1743.5V712.4H1739.5V710.1H1735.5V711H1731.5V708H1727.5V706.8H1723.5V709.7H1719.5V709H1715.5V705.8H1711.5V702.4H1707.5V699.7H1703.5V703.1H1699.5V702.3H1695.5V699.8H1691.5V697.5H1687.5V700.6H1683.5V698.2H1679.5V698.7H1675.5V699.1H1671.5V693.1H1667.5V692.8H1663.5V696.5H1659.5V693.6H1655.5V694.8H1651.5V691.2H1647.5V688.6H1643.5V689H1639.5V688.4H1635.5V695H1631.5V693.5H1627.5V687.6H1623.5V685.8H1619.5V682.8H1615.5V684.2H1611.5V680.4H1607.5V678.9H1603.5V680.2H1599.5V680.2H1595.5V678.3H1591.5V677.1H1587.5V675.9H1583.5V676.2H1579.5V676.3H1575.5V675H1571.5V678.6H1567.5V678.1H1563.5V674.2H1559.5V674.7H1555.5V674.8H1551.5V672.9H1547.5V673.8H1543.5V677.1H1539.5V674.8H1535.5V676.2H1531.5V672.6H1527.5V667.8H1523.5V669.2H1519.5V670.5H1515.5V667.6H1511.5V671.8H1507.5V671.7H1503.5V664.7H1499.5V661.3H1495.5V663.5H1491.5V661.7H1487.5V663H1483.5V662H1479.5V657.6H1475.5V656.3H1471.5V655.3H1467.5V652.7H1463.5V654.2H1459.5V654.7H1455.5V654.8H1451.5V655.1H1447.5V655.8H1443.5V655.7H1439.5V653.3H1435.5V649.7H1431.5V649.9H1427.5V653.3H1423.5V652.8H1419.5V652H1415.5V651.9H1411.5V650.9H1407.5V647.3H1403.5V643.1H1399.5V642.5H1395.5V644.5H1391.5V644.4H1387.5V652H1383.5V651H1379.5V641.9H1375.5V640.2H1371.5V637.8H1367.5V642.3H1363.5V642.4H1359.5V637.9H1355.5V639H1351.5V637.8H1347.5V638.2H1343.5V642.1H1339.5V636.4H1335.5V633H1331.5V632.9H1327.5V632H1323.5V629.9H1319.5V629.6H1315.5V631.9H1311.5V633.3H1307.5V632.9H1303.5V631.3H1299.5V632.1H1295.5V631.2H1291.5V626.7H1287.5V629H1283.5V626.2H1279.5V621.2H1275.5V620.6H1271.5V620H1267.5V622.1H1263.5V622.9H1259.5V624.9H1255.5V620.7H1251.5V620.9H1247.5V622H1243.5V625.8H1239.5V620.1H1235.5V622.7H1231.5V621H1227.5V619.7H1223.5V624H1219.5V621.4H1215.5V619.8H1211.5V620.2H1207.5V620.7H1203.5V618H1199.5V617.5H1195.5V614.7H1191.5V616H1187.5V614.4H1183.5V615.2H1179.5V615.3H1175.5V613.8H1171.5V613.7H1167.5V612.2H1163.5V615.2H1159.5V611.5H1155.5V612.3H1151.5V611.3H1147.5V607.4H1143.5V606.9H1139.5V608.9H1135.5V605.8H1131.5V606H1127.5V606.3H1123.5V610.3H1119.5V609.2H1115.5V612.7H1111.5V608.1H1107.5V604.3H1103.5V611.5H1099.5V607.6H1095.5V605.6H1091.5V604.2H1087.5V602.9H1083.5V601.9H1079.5V603.3H1075.5V604.4H1071.5V603.8H1067.5V600.2H1063.5V600.5H1059.5V600.6H1055.5V599.4H1051.5V599.7H1047.5V598.3H1043.5V596.7H1039.5V598.6H1035.5V597.6H1031.5V600.5H1027.5V602H1023.5V600.9H1019.5V595.7H1015.5V594.7H1011.5V593.6H1007.5V597.1H1003.5V604.1H999.5V599.5H995.5V595.1H991.5V596.6H987.5V600.1H983.5V597.4H979.5V599.3H975.5V599.4H971.5V602H967.5V600H963.5V604.8H959.5V604.2H955.5V597H951.5V595.3H947.5V595.7H943.5V596.1H939.5V600.1H935.5V600.9H931.5V602.4H927.5V603.5H923.5V605.9H919.5V607.8H915.5V606.7H911.5V607.3H907.5V608H903.5V610.6H899.5V612.8H895.5V620.9H891.5V619.8H887.5V614H883.5V614.6H879.5V619.3H875.5V626.2H871.5V628.8H867.5V624.8H863.5V624.5H859.5V623.9H855.5V627.5H851.5V627H847.5V634H843.5V635.8H839.5V629.8H835.5V631.5H831.5V633.8H827.5V630.4H823.5V632.4H819.5V633.2H815.5V632.9H811.5V633.7H807.5V636H803.5V641.9H799.5V646H795.5V638.8H791.5V637.4H787.5V639.9H783.5V643.5H779.5V644.7H775.5V642.9H771.5V643.2H767.5V647.4H763.5V646.2H759.5V644.5H755.5V648.1H751.5V648.4H747.5V650.3H743.5V651H739.5V651.5H735.5V656.1H731.5V656.9H727.5V659.2H723.5V660.9H719.5V660.3H715.5V658.2H711.5V659.3H707.5V657.6H703.5V659.6H699.5V662.3H695.5V659.1H691.5V663.6H687.5V665.6H683.5V667H679.5V667.2H675.5V670.1H671.5V668.2H667.5V671.7H663.5V670.5H659.5V670.6H655.5V671.2H651.5V671H647.5V671.8H643.5V671.7H639.5V672.1H635.5V679.3H631.5V680.4H627.5V676.2H623.5V673.9H619.5V675.3H615.5V676.8H611.5V677.1H607.5V677.8H603.5V681.6H599.5V680.3H595.5V680.8H591.5V680.5H587.5V679.9H583.5V679.5H579.5V683.4H575.5V679.9H571.5V682.9H567.5V682.6H563.5V684H559.5V684.6H555.5V683.9H551.5V684.6H547.5V684.5H543.5V684.9H539.5V686.3H535.5V686.9H531.5V685.8H527.5V686.4H523.5V689.5H519.5V686.6H515.5V684.6H511.5V673.3H507.5V671H503.5V670.6H499.5V671.5H495.5V671.4H491.5V670H487.5V670.6H483.5V670.8H479.5V671.7H475.5V672.1H471.5V672.3H467.5V671.6H463.5V671.4H459.5V672.3H455.5V671.6H451.5V671.1H447.5V671.4H443.5V670.9H439.5V672.7H435.5V672.9H431.5V672.8H427.5V671.5H423.5V672.2H419.5V672.4H415.5V673H411.5V671.4H407.5V674H403.5V671.2H399.5V670.5H395.5V672.8H391.5V672.4H387.5V671.4H383.5V672H378.7Z" fill="#ff00ff"/>
<path d="M378.7 672.8H383.5V672.4H387.5V672.8H391.5V673.2H395.5V673.4H399.5V673H403.5V672.9H407.5V672.1H411.5V672.5H415.5V672.9H419.5V673.6H423.5V672.7H427.5V672.5H431.5V672.3H435.5V673.1H439.5V672.2H443.5V672.2H447.5V673.6H451.5V673.6H455.5V672.7H459.5V672.9H463.5V673.4H467.5V673.5H471.5V673.2H475.5V672.8H479.5V673.4H483.5V673.3H487.5V673.6H491.5V673.5H495.5V673.1H499.5V673.8H503.5V673.2H507.5V673.4H511.5V672.7H515.5V672.7H519.5V672.5H523.5V672H527.5V672.5H531.5V673.7H535.5V674.1H539.5V673.9H543.5V672.6H547.5V673.2H551.5V672.2H555.5V672.5H559.5V670H563.5V671.3H567.5V669.5H571.5V670.3H575.5V668.7H579.5V669.1H583.5V667.7H587.5V665.1H591.5V664.5H595.5V664.6H599.5V664.5H603.5V662.3H607.5V661.6H611.5V660.9H615.5V660.9H619.5V660.9H623.5V659.3H627.5V657.3H631.5V657.6H635.5V656.3H639.5V656.4H643.5V654.3H647.5V654.1H651.5V651.9H655.5V651.7H659.5V650.9H663.5V650.5H667.5V648.5H671.5V648H675.5V646.6H679.5V646.3H683.5V646.6H687.5V647.5H691.5V646.3H695.5V645.5H699.5V644H703.5V644H707.5V642.9H711.5V642.5H715.5V641.1H719.5V641H723.5V640.1H727.5V636.6H731.5V636.2H735.5V635.2H739.5V632H743.5V631H747.5V630.4H751.5V629.3H755.5V629H759.5V626.4H763.5V627H767.5V626.7H771.5V625.5H775.5V623.6H779.5V622.4H783.5V620.7H787.5V621H791.5V619.8H795.5V619.6H799.5V617.2H803.5V617.2H807.5V614.4H811.5V612.9H815.5V610.6H819.5V610.6H823.5V609.3H827.5V608.7H831.5V608.7H835.5V606.4H839.5V605.1H843.5V604.4H847.5V602.3H851.5V600.1H855.5V599.4H859.5V598.4H863.5V597.4H867.5V596.2H871.5V593.1H875.5V592H879.5V591.4H883.5V588.5H887.5V587.2H891.5V584.8H895.5V583.9H899.5V584.5H903.5V582.5H907.5V579.8H911.5V579.4H915.5V578.4H919.5V578.4H923.5V575.3H927.5V574H931.5V573.9H935.5V572H939.5V573.7H943.5V571H947.5V570.8H951.5V570.2H955.5V570.1H959.5V571.5H963.5V571.8H967.5V572.1H971.5V571.9H975.5V569H979.5V570.1H983.5V568.5H987.5V569H991.5V569.4H995.5V569.4H999.5V570.5H1003.5V569.6H1007.5V571.8H1011.5V571.7H1015.5V572.2H1019.5V572H1023.5V572.1H1027.5V571.1H1031.5V572.4H1035.5V570.6H1039.5V571.2H1043.5V571.2H1047.5V571H1051.5V571.7H1055.5V571H1059.5V572.6H1063.5V573.3H1067.5V573.1H1071.5V573.8H1075.5V572.5H1079.5V571.5H1083.5V572.3H1087.5V573.3H1091.5V576.7H1095.5V575.9H1099.5V577H1103.5V577.6H1107.5V578.6H1111.5V578.6H1115.5V579H1119.5V578.6H1123.5V578.1H1127.5V578H1131.5V578.6H1135.5V581.4H1139.5V581.9H1143.5V582.1H1147.5V582.8H1151.5V582.9H1155.5V583.9H1159.5V584.8H1163.5V586.3H1167.5V587.6H1171.5V586H1175.5V587.6H1179.5V589.9H1183.5V588.8H1187.5V589.5H1191.5V590.6H1195.5V592.5H1199.5V593.2H1203.5V593H1207.5V594.1H1211.5V595.4H1215.5V595.7H1219.5V597.2H1223.5V597.2H1227.5V595.8H1231.5V595.6H1235.5V596.4H1239.5V596.9H1243.5V598.3H1247.5V598.8H1251.5V600.7H1255.5V601H1259.5V601.7H1263.5V600.5H1267.5V600.4H1271.5V601.9H1275.5V602.2H1279.5V603.2H1283.5V603.6H1287.5V603.2H1291.5V605.7H1295.5V606.6H1299.5V604.5H1303.5V604.9H1307.5V606.1H1311.5V607.6H1315.5V607.9H1319.5V607H1323.5V609.2H1327.5V609.5H1331.5V611.5H1335.5V611.8H1339.5V613.1H1343.5V613.9H1347.5V614.7H1351.5V614H1355.5V615.7H1359.5V616H1363.5V615.1H1367.5V616H1371.5V616.8H1375.5V618.5H1379.5V619.8H1383.5V619H1387.5V620.9H1391.5V621.4H1395.5V621H1399.5V623.2H1403.5V622.9H1407.5V622.8H1411.5V625.2H1415.5V626.8H1419.5V626.4H1423.5V628.4H1427.5V629.6H1431.5V629H1435.5V631.6H1439.5V631.3H1443.5V631.8H1447.5V630H1451.5V632.4H1455.5V632.7H1459.5V634.3H1463.5V633.3H1467.5V636.1H1471.5V638.1H1475.5V639.1H1479.5V636H1483.5V638.3H1487.5V639.5H1491.5V638H1495.5V638.7H1499.5V640.3H1503.5V643.1H1507.5V642.4H1511.5V643.6H1515.5V644.3H1519.5V645.4H1523.5V645.6H1527.5V647.5H1531.5V648.9H1535.5V647.6H1539.5V650.1H1543.5V649.8H1547.5V650.7H1551.5V653.1H1555.5V653.6H1559.5V654.9H1563.5V656.3H1567.5V657.2H1571.5V657.1H1575.5V657.1H1579.5V659.4H1583.5V661H1587.5V661.9H1591.5V662.2H1595.5V664H1599.5V664.3H1603.5V663.6H1607.5V665.5H1611.5V667.1H1615.5V668.5H1619.5V668H1623.5V668.4H1627.5V670.1H1631.5V670.6H1635.5V671.7H1639.5V673.7H1643.5V674.5H1647.5V676.4H1651.5V676.7H1655.5V678.2H1659.5V679H1663.5V679.9H1667.5V680.6H1671.5V680.5H1675.5V682.3H1679.5V681.8H1683.5V682.1H1687.5V683.4H1691.5V684.7H1695.5V683.9H1699.5V685.7H1703.5V686.5H1707.5V687.6H1711.5V688.8H1715.5V689.4H1719.5V691.5H1723.5V692.3H1727.5V692.5H1731.5V693.3H1735.5V695.1H1739.5V696.2H1743.5V697.5H1747.5V697.3H1751.5V697.9H1755.5V700.1H1759.5V700.2H1763.5V702H1767.5V702.9H1771.5V702.4H1775.5V701.7H1779.5V703.9H1783.5V704.1H1787.5V704.6H1791.5V704.4H1795.5V707.6H1799.5V708.5H1803.5V709.2H1807.5V710.4H1811.5V711.2H1815.5V711.8H1819.5V713H1823.5V713.1H1827.5V711.6H1831.5V714H1835.5V715.3H1839.5V715.8H1843.5V718H1847.5V716.3H1851.5V715.5H1855.5V718.4H1859.5V719.5H1863.5V718.2H1867.5V719.3H1871.5V721.1H1875.5V720.3H1879.5V722.1H1883.5V724.3H1887.5V724.7H1891.5V724.3H1895.5V724.3H1899.5V723.1H1903.5V723.6H1907.5V723.4H1911.5V722.6H1915.5V721.9H1919.5V724.9H1923.5V724.4H1927.5V723H1931.5V723H1935.5V724.9H1939.5V725.5H1943.5V723.7H1947.5V722.7H1951.5V722H1955.5V719.4H1959.5V716.2H1963.5V713.9H1967.5V712.8H1971.5V710.3H1975.5V707.2H1979.5V705.4H1983.5V704.1H1987.5V701.7H1991.5V698H1995.5V696.8H1999.5V692.5H2003.5V689.7H2007.5V685.8H2011.5V684.8H2015.5V682H2019.5V677.5H2023.5V674.7H2027.5V674H2031.5V669.9H2035.5V664.9H2039.5V661.2H2043.5V655.2H2047.5V652.3H2051.5V650.4H2055.5V650H2059.5V674.8H2055.5V675.8H2051.5V674H2047.5V677.2H2043.5V682.5H2039.5V688.6H2035.5V690.2H2031.5V694.6H2027.5V697.4H2023.5V700.9H2019.5V707.2H2015.5V709.4H2011.5V713.6H2007.5V715.9H2003.5V721.9H1999.5V726.6H1995.5V731.5H1991.5V731.1H1987.5V729.6H1983.5V734.5H1979.5V736.8H1975.5V739H1971.5V734.6H1967.5V740H1963.5V740.4H1959.5V741.9H1955.5V742.7H1951.5V742.6H1947.5V748.1H1943.5V744.8H1939.5V754.1H1935.5V754H1931.5V750.5H1927.5V750.5H1923.5V752.2H1919.5V750.5H1915.5V747.1H1911.5V748.2H1907.5V751.1H1903.5V754.1H1899.5V752.6H1895.5V752.3H1891.5V754.2H1887.5V752.8H1883.5V752.1H1879.5V751H1875.5V748.8H1871.5V747.3H1867.5V750.2H1863.5V748.4H1859.5V744.6H1855.5V747.1H1851.5V745.5H1847.5V745H1843.5V743.6H1839.5V742.3H1835.5V742.1H1831.5V744.9H1827.5V747.5H1823.5V745H1819.5V739.2H1815.5V740.8H1811.5V740.3H1807.5V738.5H1803.5V735H1799.5V734.2H1795.5V733.5H1791.5V738.4H1787.5V733.2H1783.5V734H1779.5V732.8H1775.5V732.5H1771.5V731.5H1767.5V729.9H1763.5V729.5H1759.5V731.6H1755.5V732.1H1751.5V732.2H1747.5V728H1743.5V728.6H1739.5V727.8H1735.5V726.4H1731.5V731.1H1727.5V728.9H1723.5V719.8H1719.5V719.7H1715.5V718.6H1711.5V723.5H1707.5V723.9H1703.5V721.7H1699.5V724.4H1695.5V721.8H1691.5V719.4H1687.5V715H1683.5V715H1679.5V711.3H1675.5V713H1671.5V710.9H1667.5V715.9H1663.5V710.7H1659.5V710.6H1655.5V709.1H1651.5V709.8H1647.5V715.5H1643.5V714.1H1639.5V710.1H1635.5V706.7H1631.5V701.4H1627.5V704H1623.5V701.4H1619.5V702.5H1615.5V700.9H1611.5V700.3H1607.5V704.1H1603.5V699.7H1599.5V697.6H1595.5V698.8H1591.5V697.2H1587.5V694.4H1583.5V696H1579.5V693.3H1575.5V692.1H1571.5V696.8H1567.5V694.7H1563.5V694.9H1559.5V691.4H1555.5V695.1H1551.5V692.6H1547.5V684.8H1543.5V686.7H1539.5V686H1535.5V684.1H1531.5V682H1527.5V680.4H1523.5V681.4H1519.5V680.5H1515.5V682.6H1511.5V679.3H1507.5V678.7H1503.5V678.3H1499.5V676.1H1495.5V675.4H1491.5V672.9H1487.5V674.2H1483.5V676.2H1479.5V675.5H1475.5V674.3H1471.5V673.6H1467.5V671.2H1463.5V669.6H1459.5V673.1H1455.5V672.8H1451.5V670.5H1447.5V667.7H1443.5V667.2H1439.5V666.1H1435.5V664.8H1431.5V664H1427.5V664H1423.5V665.6H1419.5V664.7H1415.5V663H1411.5V663.6H1407.5V664.3H1403.5V669.2H1399.5V668.7H1395.5V665.3H1391.5V661.2H1387.5V659.7H1383.5V657.5H1379.5V659.3H1375.5V658.1H1371.5V656.3H1367.5V658.5H1363.5V655.4H1359.5V661.9H1355.5V660.8H1351.5V659.1H1347.5V659.4H1343.5V655.7H1339.5V655.7H1335.5V651.3H1331.5V650H1327.5V648.2H1323.5V645.9H1319.5V649.5H1315.5V650.8H1311.5V644.1H1307.5V643.4H1303.5V643.4H1299.5V642.7H1295.5V641.9H1291.5V642.8H1287.5V639.8H1283.5V640H1279.5V644.5H1275.5V640.6H1271.5V634.8H1267.5V633.9H1263.5V632.1H1259.5V631.5H1255.5V631H1251.5V631.3H1247.5V632.5H1243.5V630.6H1239.5V630.6H1235.5V630.9H1231.5V630H1227.5V629.2H1223.5V629.2H1219.5V631.5H1215.5V629.7H1211.5V627.8H1207.5V624.1H1203.5V625.8H1199.5V627.8H1195.5V625.5H1191.5V623.9H1187.5V624.4H1183.5V629.2H1179.5V624.4H1175.5V623.3H1171.5V628.3H1167.5V623.3H1163.5V626.1H1159.5V622.1H1155.5V620.8H1151.5V618.3H1147.5V619.1H1143.5V617.3H1139.5V618.2H1135.5V617.5H1131.5V613.2H1127.5V612.1H1123.5V611H1119.5V611.8H1115.5V611.8H1111.5V612.6H1107.5V611.8H1103.5V612.6H1099.5V613H1095.5V612.5H1091.5V610.9H1087.5V613.3H1083.5V606.5H1079.5V606.3H1075.5V605.5H1071.5V607.3H1067.5V607.1H1063.5V606.2H1059.5V604.9H1055.5V605.1H1051.5V605.3H1047.5V604.9H1043.5V602.1H1039.5V602.1H1035.5V602.6H1031.5V601.3H1027.5V599.9H1023.5V602.5H1019.5V604.1H1015.5V603.1H1011.5V602.9H1007.5V605H1003.5V603.2H999.5V606.4H995.5V607H991.5V604.4H987.5V602H983.5V605.5H979.5V605.5H975.5V604.4H971.5V606.4H967.5V604.7H963.5V606.4H959.5V616.8H955.5V614.4H951.5V607.6H947.5V606.6H943.5V606.6H939.5V606.1H935.5V610.1H931.5V611.9H927.5V611.7H923.5V612.5H919.5V614.5H915.5V615.8H911.5V617.3H907.5V616.2H903.5V616.3H899.5V619.2H895.5V619.3H891.5V621.2H887.5V628.5H883.5V629.4H879.5V624.8H875.5V622.7H871.5V625.5H867.5V625.8H863.5V628.3H859.5V632.9H855.5V633.2H851.5V634.7H847.5V631.6H843.5V633.7H839.5V634.1H835.5V642.8H831.5V638.9H827.5V641.7H823.5V640.2H819.5V643H815.5V643.3H811.5V653.1H807.5V647.4H803.5V648H799.5V649.9H795.5V650H791.5V651.4H787.5V653.6H783.5V653.3H779.5V654.8H775.5V658.8H771.5V662.5H767.5V658.5H763.5V660.5H759.5V662.4H755.5V662.1H751.5V660.4H747.5V665.7H743.5V669.7H739.5V669H735.5V669.5H731.5V671.9H727.5V672.8H723.5V673.4H719.5V673.3H715.5V676.2H711.5V677.3H707.5V678.2H703.5V675.3H699.5V675.2H695.5V678.4H691.5V674.3H687.5V675.1H683.5V676.9H679.5V681.7H675.5V681.3H671.5V681.5H667.5V681.7H663.5V684.8H659.5V688.8H655.5V685.7H651.5V687.1H647.5V690.3H643.5V691H639.5V693.5H635.5V692.5H631.5V695.8H627.5V692.6H623.5V689.8H619.5V691.3H615.5V698.5H611.5V696.4H607.5V694.7H603.5V696.1H599.5V698.1H595.5V697.5H591.5V696.8H587.5V707.2H583.5V705.7H579.5V701.5H575.5V701.3H571.5V701.7H567.5V702H563.5V699.9H559.5V700.6H555.5V700.7H551.5V702.5H547.5V710.1H543.5V708.5H539.5V702H535.5V701.3H531.5V699.3H527.5V700.1H523.5V697.2H519.5V699.1H515.5V697.1H511.5V684.6H507.5V684.6H503.5V685.3H499.5V685.2H495.5V685.1H491.5V684.3H487.5V684.2H483.5V684.1H479.5V685.5H475.5V686.5H471.5V687.2H467.5V686.8H463.5V685.7H459.5V685.1H455.5V685.1H451.5V684.3H447.5V684.6H443.5V683.7H439.5V685.3H435.5V686.5H431.5V685.5H427.5V684.8H423.5V685.5H419.5V685H415.5V685.1H411.5V686H407.5V685.9H403.5V686.4H399.5V687.2H395.5V686.2H391.5V685.7H387.5V684.9H383.5V684.3H378.7Z" fill="#ffff00"/>
<path d="M378.7 741.9H383.5V741.9H387.5V742.7H391.5V742.4H395.5V743.3H399.5V741.6H403.5V741.6H407.5V741.8H411.5V742.2H415.5V742.9H419.5V742.4H423.5V741.8H427.5V742.4H431.5V742.9H435.5V741.3H439.5V741.9H443.5V742.1H447.5V741.5H451.5V741.4H455.5V741.7H459.5V741.7H463.5V741.5H467.5V740.9H471.5V741.3H475.5V741H479.5V741.1H483.5V740.8H487.5V741H491.5V741.2H495.5V741H499.5V741.1H503.5V740.1H507.5V740.4H511.5V740.6H515.5V739.6H519.5V739.4H523.5V737.5H527.5V737.7H531.5V737.6H535.5V736.1H539.5V736.8H543.5V735.9H547.5V736.1H551.5V735.3H555.5V735.4H559.5V734.6H563.5V733.5H567.5V733.5H571.5V733.4H575.5V729.8H579.5V730H583.5V729H587.5V727.6H591.5V728.9H595.5V728.6H599.5V725.9H603.5V724H607.5V724.6H611.5V722.8H615.5V721.8H619.5V719.4H623.5V719.2H627.5V719.9H631.5V718H635.5V716.9H639.5V717.7H643.5V716.5H647.5V715.6H651.5V714.2H655.5V713.3H659.5V709.3H663.5V707.8H667.5V705.8H671.5V707.9H675.5V706.1H679.5V704.4H683.5V702.3H687.5V700.4H691.5V698.6H695.5V700H699.5V698.3H703.5V697H707.5V694.3H711.5V693.8H715.5V693.3H719.5V692H723.5V691.5H727.5V689.2H731.5V688.7H735.5V688.5H739.5V687.4H743.5V686.1H747.5V684.4H751.5V682.2H755.5V682.1H759.5V680.5H763.5V678.6H767.5V678.8H771.5V675.8H775.5V674.9H779.5V675.2H783.5V674.8H787.5V672.5H791.5V671.2H795.5V670.3H799.5V668.5H803.5V666.2H807.5V665.5H811.5V664.1H815.5V662.5H819.5V662H823.5V660H827.5V657.5H831.5V656.1H835.5V656.3H839.5V653H843.5V651H847.5V648.7H851.5V648.1H855.5V645.3H859.5V645H863.5V644.4H867.5V641.8H871.5V639.8H875.5V637.5H879.5V637.1H883.5V635.1H887.5V633.9H891.5V632.9H895.5V631.5H899.5V631.8H903.5V632.1H907.5V627.7H911.5V626.5H915.5V626.4H919.5V624.4H923.5V623.5H927.5V623.3H931.5V623.9H935.5V623.5H939.5V621.3H943.5V620.3H947.5V619H951.5V618.1H955.5V616.3H959.5V614.9H963.5V614.7H967.5V615.9H971.5V615.9H975.5V612.9H979.5V613H983.5V612.4H987.5V612.9H991.5V611.5H995.5V612.7H999.5V612H1003.5V612.2H1007.5V612.5H1011.5V609.7H1015.5V610H1019.5V611.9H1023.5V611.3H1027.5V612H1031.5V611.7H1035.5V610.7H1039.5V611H1043.5V611.9H1047.5V612.6H1051.5V612.7H1055.5V610.6H1059.5V611.5H1063.5V609.7H1067.5V610.1H1071.5V610.3H1075.5V611.4H1079.5V611.7H1083.5V613H1087.5V612H1091.5V613.3H1095.5V613.7H1099.5V613.9H1103.5V613H1107.5V614.8H1111.5V615.7H1115.5V616.9H1119.5V616.8H1123.5V616.9H1127.5V617.8H1131.5V618.6H1135.5V619.4H1139.5V620.9H1143.5V619.9H1147.5V621.9H1151.5V618.5H1155.5V621.1H1159.5V620.7H1163.5V623.8H1167.5V622.5H1171.5V624.3H1175.5V623.4H1179.5V623.2H1183.5V625.6H1187.5V627.3H1191.5V627.2H1195.5V630.6H1199.5V630.6H1203.5V633H1207.5V632H1211.5V632.1H1215.5V633.4H1219.5V633H1223.5V634.2H1227.5V632.4H1231.5V633.5H1235.5V633.4H1239.5V633H1243.5V634H1247.5V634H1251.5V633.9H1255.5V635.2H1259.5V635.4H1263.5V635.8H1267.5V637.1H1271.5V636.5H1275.5V637.4H1279.5V636.8H1283.5V637.9H1287.5V638.6H1291.5V638.1H1295.5V637.2H1299.5V637.5H1303.5V638.1H1307.5V640.3H1311.5V640.9H1315.5V641.3H1319.5V642.6H1323.5V643.7H1327.5V645.2H1331.5V644.1H1335.5V645.2H1339.5V646.1H1343.5V645.2H1347.5V646.3H1351.5V646H1355.5V647H1359.5V648.5H1363.5V647.3H1367.5V648H1371.5V648.8H1375.5V650.4H1379.5V650.7H1383.5V652.3H1387.5V652.2H1391.5V652.9H1395.5V654.7H1399.5V655.6H1403.5V656.2H1407.5V656.7H1411.5V658.4H1415.5V660H1419.5V659.3H1423.5V659.1H1427.5V659H1431.5V662.3H1435.5V661.4H1439.5V661H1443.5V662.9H1447.5V664.9H1451.5V663.8H1455.5V664.9H1459.5V664.4H1463.5V665.2H1467.5V668.3H1471.5V668.6H1475.5V668.6H1479.5V669.2H1483.5V670H1487.5V670.3H1491.5V669.7H1495.5V669.7H1499.5V673.3H1503.5V672.4H1507.5V674.3H1511.5V673.5H1515.5V675.6H1519.5V676.3H1523.5V676H1527.5V678.3H1531.5V677.1H1535.5V677.6H1539.5V677.7H1543.5V678.2H1547.5V679.4H1551.5V679.8H1555.5V681.1H1559.5V684.1H1563.5V682.6H1567.5V683H1571.5V683.9H1575.5V685.4H1579.5V688.1H1583.5V689.5H1587.5V690.4H1591.5V691H1595.5V693.2H1599.5V692.2H1603.5V691.9H1607.5V693.4H1611.5V694.8H1615.5V695.5H1619.5V695.7H1623.5V695.8H1627.5V697.4H1631.5V698.1H1635.5V699.2H1639.5V699.6H1643.5V702.7H1647.5V703.6H1651.5V705.7H1655.5V705.1H1659.5V705.8H1663.5V706.2H1667.5V707.1H1671.5V707.7H1675.5V708.5H1679.5V707.6H1683.5V709.1H1687.5V711.3H1691.5V710H1695.5V711.5H1699.5V713.5H1703.5V715.6H1707.5V715.5H1711.5V716.5H1715.5V718.5H1719.5V719.2H1723.5V718.6H1727.5V718.4H1731.5V720.3H1735.5V720.8H1739.5V720.6H1743.5V721.3H1747.5V722.5H1751.5V722.9H1755.5V723.5H1759.5V724.1H1763.5V723.6H1767.5V727H1771.5V728.4H1775.5V729.4H1779.5V729.1H1783.5V729.4H1787.5V730.4H1791.5V731.5H1795.5V729.6H1799.5V731.4H1803.5V731.2H1807.5V732.4H1811.5V732.7H1815.5V735.5H1819.5V735.9H1823.5V735.9H1827.5V737.6H1831.5V737.1H1835.5V736.6H1839.5V737.1H1843.5V737.5H1847.5V738.3H1851.5V739.9H1855.5V739.9H1859.5V740.2H1863.5V741.7H1867.5V742H1871.5V743H1875.5V742.9H1879.5V741.6H1883.5V741.3H1887.5V741.3H1891.5V743.6H1895.5V744.2H1899.5V743.6H1903.5V742.8H1907.5V743.8H1911.5V743.6H1915.5V743.9H1919.5V742.6H1923.5V741.6H1927.5V743.6H1931.5V741.7H1935.5V741.5H1939.5V742.6H1943.5V739.3H1947.5V739.7H1951.5V738.5H1955.5V736.8H1959.5V735.6H1963.5V732.6H1967.5V730H1971.5V730.8H1975.5V728.1H1979.5V726.7H1983.5V724.8H1987.5V721.7H1991.5V718.9H1995.5V716.4H1999.5V714.4H2003.5V711H2007.5V708.4H2011.5V703.9H2015.5V699.8H2019.5V696.6H2023.5V693.6H2027.5V690.1H2031.5V686.9H2035.5V682.3H2039.5V677H2043.5V674.1H2047.5V670.6H2051.5V668.3H2055.5V667.2H2059.5V705.1H2055.5V700.1H2051.5V704.1H2047.5V706H2043.5V704.3H2039.5V708.8H2035.5V715.2H2031.5V718.3H2027.5V724.4H2023.5V726.4H2019.5V728.9H2015.5V731.4H2011.5V734.1H2007.5V738.6H2003.5V744.5H1999.5V748.9H1995.5V750.2H1991.5V753.5H1987.5V753.2H1983.5V757.1H1979.5V759.8H1975.5V761.3H1971.5V764.8H1967.5V764.7H1963.5V768.7H1959.5V771.8H1955.5V768.6H1951.5V770.8H1947.5V770.7H1943.5V772.1H1939.5V775.5H1935.5V777H1931.5V778.6H1927.5V776.3H1923.5V777.7H1919.5V776.4H1915.5V777H1911.5V774.1H1907.5V775.4H1903.5V774.9H1899.5V777.8H1895.5V778.3H1891.5V772.7H1887.5V772.1H1883.5V773.1H1879.5V774.7H1875.5V773.6H1871.5V769.4H1867.5V770H1863.5V774.2H1859.5V769.8H1855.5V770.4H1851.5V770.1H1847.5V769.5H1843.5V768.5H1839.5V767.6H1835.5V770.4H1831.5V765H1827.5V764.2H1823.5V765.4H1819.5V762.9H1815.5V765.8H1811.5V765.4H1807.5V765.1H1803.5V765.3H1799.5V761.7H1795.5V760.6H1791.5V757.3H1787.5V755.5H1783.5V755.8H1779.5V764.5H1775.5V758.5H1771.5V757.1H1767.5V756.1H1763.5V753.9H1759.5V752.4H1755.5V755.6H1751.5V751.9H1747.5V750.9H1743.5V751.4H1739.5V750H1735.5V759.7H1731.5V746H1727.5V748.1H1723.5V747.3H1719.5V746.3H1715.5V746.5H1711.5V743.4H1707.5V744H1703.5V740.1H1699.5V742.7H1695.5V742.3H1691.5V742.3H1687.5V739.2H1683.5V736.2H1679.5V737.6H1675.5V737.8H1671.5V735.6H1667.5V733.4H1663.5V733.3H1659.5V733.8H1655.5V731.7H1651.5V732.2H1647.5V737.7H1643.5V736.9H1639.5V729.8H1635.5V728.4H1631.5V728H1627.5V730.1H1623.5V729.5H1619.5V729.1H1615.5V729.9H1611.5V727.6H1607.5V729.4H1603.5V727.4H1599.5V726.2H1595.5V723.1H1591.5V719H1587.5V717.8H1583.5V716.4H1579.5V714.9H1575.5V715.7H1571.5V713.3H1567.5V714.4H1563.5V713.1H1559.5V711.9H1555.5V717.6H1551.5V712.5H1547.5V714.5H1543.5V711.3H1539.5V709.7H1535.5V709.1H1531.5V709H1527.5V707.6H1523.5V704.2H1519.5V705.9H1515.5V708.5H1511.5V703.4H1507.5V712.2H1503.5V710.7H1499.5V712.1H1495.5V710.2H1491.5V705H1487.5V703.3H1483.5V700.1H1479.5V702.4H1475.5V698.7H1471.5V694.3H1467.5V697.7H1463.5V696.1H1459.5V694.4H1455.5V694.3H1451.5V693.7H1447.5V695.9H1443.5V696.4H1439.5V691.7H1435.5V695.4H1431.5V693.7H1427.5V693.2H1423.5V691.3H1419.5V691H1415.5V689.2H1411.5V686.6H1407.5V686.4H1403.5V687.9H1399.5V686.2H1395.5V684H1391.5V692.8H1387.5V684.7H1383.5V686.4H1379.5V683.4H1375.5V677H1371.5V681.6H1367.5V682.8H1363.5V683.8H1359.5V679.2H1355.5V681.3H1351.5V678.5H1347.5V682.7H1343.5V680.7H1339.5V679.9H1335.5V674.8H1331.5V675.5H1327.5V673.3H1323.5V673H1319.5V672.1H1315.5V670.9H1311.5V672.7H1307.5V672.2H1303.5V670.4H1299.5V671.8H1295.5V674.3H1291.5V675.4H1287.5V672.7H1283.5V667.8H1279.5V672.7H1275.5V669.8H1271.5V671.4H1267.5V670.7H1263.5V667.7H1259.5V665.7H1255.5V665.5H1251.5V666.1H1247.5V670.3H1243.5V666.7H1239.5V665.2H1235.5V667.1H1231.5V665.2H1227.5V664.4H1223.5V664.6H1219.5V666.2H1215.5V666.5H1211.5V667.3H1207.5V665H1203.5V664.2H1199.5V661.5H1195.5V657.6H1191.5V656.3H1187.5V653.7H1183.5V657.3H1179.5V658.2H1175.5V658H1171.5V656H1167.5V653.9H1163.5V652.7H1159.5V651.5H1155.5V648.6H1151.5V650.8H1147.5V651H1143.5V648.5H1139.5V648.9H1135.5V652.6H1131.5V651.8H1127.5V645.8H1123.5V643.4H1119.5V645.6H1115.5V648.2H1111.5V647.6H1107.5V647.1H1103.5V648.3H1099.5V645.3H1095.5V644.9H1091.5V644.9H1087.5V643.7H1083.5V641.6H1079.5V641.8H1075.5V642.1H1071.5V640.2H1067.5V640.8H1063.5V642.4H1059.5V647.7H1055.5V643.3H1051.5V641.7H1047.5V644.3H1043.5V640.9H1039.5V643H1035.5V642.3H1031.5V641.3H1027.5V643.4H1023.5V647.6H1019.5V648.1H1015.5V642.7H1011.5V642.5H1007.5V650.3H1003.5V652.4H999.5V645.4H995.5V644.6H991.5V643.1H987.5V645H983.5V646.9H979.5V649H975.5V649.2H971.5V648.8H967.5V649.2H963.5V648.3H959.5V647.2H955.5V648.1H951.5V648.2H947.5V649.7H943.5V653H939.5V652H935.5V650H931.5V651.7H927.5V652.7H923.5V658.4H919.5V658.6H915.5V657.8H911.5V660.3H907.5V660.5H903.5V662.3H899.5V665.1H895.5V664.5H891.5V665.2H887.5V667.5H883.5V669.3H879.5V676.1H875.5V678.4H871.5V673.9H867.5V677.1H863.5V676.9H859.5V678.9H855.5V684.6H851.5V687.7H847.5V684.2H843.5V682.4H839.5V684.2H835.5V691.4H831.5V692.2H827.5V692.4H823.5V691.6H819.5V692.5H815.5V693.5H811.5V695.7H807.5V696.1H803.5V698.2H799.5V701H795.5V703.4H791.5V701.5H787.5V704.8H783.5V711.8H779.5V715H775.5V712.1H771.5V714.3H767.5V714.7H763.5V712.1H759.5V710.6H755.5V712.4H751.5V714.3H747.5V715.9H743.5V718.3H739.5V722.5H735.5V724.1H731.5V721H727.5V722.8H723.5V722.3H719.5V726.3H715.5V726.1H711.5V728.1H707.5V728.3H703.5V727.9H699.5V730.8H695.5V731.5H691.5V731.4H687.5V734.2H683.5V735H679.5V733.3H675.5V734.1H671.5V742.1H667.5V737.4H663.5V738.2H659.5V741.4H655.5V739.4H651.5V740.3H647.5V741.4H643.5V746.9H639.5V746.1H635.5V745H631.5V745.9H627.5V750.8H623.5V753H619.5V754.8H615.5V761.4H611.5V753.4H607.5V755.1H603.5V761.8H599.5V758.5H595.5V760.9H591.5V767.4H587.5V768.2H583.5V769.8H579.5V763.4H575.5V764.2H571.5V765.3H567.5V765.5H563.5V761.7H559.5V768.3H555.5V764.8H551.5V763.9H547.5V768H543.5V768.4H539.5V771.2H535.5V770.3H531.5V770.1H527.5V773.1H523.5V770.5H519.5V770.8H515.5V774.6H511.5V756.2H507.5V756.6H503.5V754.7H499.5V754.7H495.5V754.1H491.5V752.5H487.5V755.1H483.5V754H479.5V754.3H475.5V755H471.5V754.7H467.5V755.8H463.5V754.5H459.5V754H455.5V753.6H451.5V756.5H447.5V754.3H443.5V754.8H439.5V755.9H435.5V755.4H431.5V756H427.5V755.6H423.5V755.2H419.5V755.6H415.5V755H411.5V753.8H407.5V754.1H403.5V754H399.5V753.5H395.5V754H391.5V754H387.5V753.5H383.5V755.9H378.7Z" fill="#808000"/>
<path d="M378.7 757.5H383.5V758.2H387.5V757.9H391.5V758.5H395.5V757.9H399.5V758.1H403.5V758.4H407.5V758.6H411.5V757.7H415.5V757.7H419.5V757.8H423.5V757.1H427.5V757.9H431.5V758.1H435.5V758.2H439.5V757.4H443.5V757.8H447.5V758H451.5V758.4H455.5V757.8H459.5V758.1H463.5V758.7H467.5V758H471.5V757.6H475.5V757.5H479.5V756.9H483.5V757.1H487.5V758.1H491.5V757.3H495.5V757.3H499.5V757.9H503.5V757.9H507.5V757.7H511.5V757.3H515.5V757H519.5V756.8H523.5V757.1H527.5V756.3H531.5V756.4H535.5V753.2H539.5V754.1H543.5V752.7H547.5V752.2H551.5V751.1H555.5V751.2H559.5V750.1H563.5V750H567.5V748.1H571.5V747.9H575.5V748.5H579.5V748.2H583.5V746.2H587.5V745.4H591.5V744.1H595.5V743.3H599.5V742.7H603.5V743.1H607.5V742.2H611.5V742.1H615.5V741.2H619.5V738.1H623.5V737.6H627.5V735.9H631.5V733.3H635.5V731.9H639.5V731.1H643.5V732.3H647.5V730.5H651.5V728.8H655.5V727.5H659.5V725.6H663.5V725H667.5V723.8H671.5V721H675.5V720.2H679.5V722.3H683.5V721H687.5V718.7H691.5V717.8H695.5V715H699.5V714.2H703.5V714H707.5V710.7H711.5V709.5H715.5V708.6H719.5V707.6H723.5V706.3H727.5V705.9H731.5V705.8H735.5V704.5H739.5V703.9H743.5V703.1H747.5V700.4H751.5V699.5H755.5V697.7H759.5V697.4H763.5V695.5H767.5V694.2H771.5V694.8H775.5V692.5H779.5V689.4H783.5V688.9H787.5V688.1H791.5V686.2H795.5V685.1H799.5V684.7H803.5V682.1H807.5V680.4H811.5V678.3H815.5V677.4H819.5V675.6H823.5V673.1H827.5V671.8H831.5V672.3H835.5V668.1H839.5V665.6H843.5V665.2H847.5V662.5H851.5V663.7H855.5V660H859.5V657.6H863.5V656.6H867.5V656.9H871.5V655.9H875.5V654.5H879.5V652.8H883.5V652.2H887.5V648.1H891.5V647.5H895.5V647.6H899.5V644.4H903.5V643.5H907.5V643.1H911.5V642H915.5V639.3H919.5V638.9H923.5V637H927.5V635.8H931.5V632.5H935.5V630.8H939.5V629.6H943.5V631.2H947.5V627.5H951.5V626.7H955.5V627.8H959.5V627.7H963.5V625.3H967.5V625H971.5V625.2H975.5V626.6H979.5V623.8H983.5V623.6H987.5V624.6H991.5V624.3H995.5V622.1H999.5V621.3H1003.5V619.5H1007.5V621.4H1011.5V620.5H1015.5V621.9H1019.5V622.1H1023.5V620.7H1027.5V620.8H1031.5V621.8H1035.5V622H1039.5V623.2H1043.5V623.3H1047.5V622.5H1051.5V622.4H1055.5V621H1059.5V620.4H1063.5V621.3H1067.5V621.4H1071.5V620.1H1075.5V620.6H1079.5V620.2H1083.5V620.4H1087.5V622.4H1091.5V621.3H1095.5V621.2H1099.5V622.6H1103.5V623H1107.5V623.4H1111.5V622.3H1115.5V623.4H1119.5V623.8H1123.5V623.7H1127.5V624.2H1131.5V625.1H1135.5V627H1139.5V629.1H1143.5V629H1147.5V630.7H1151.5V630.7H1155.5V629.6H1159.5V631.1H1163.5V633.6H1167.5V635.3H1171.5V634.3H1175.5V637H1179.5V636.2H1183.5V636.1H1187.5V636.8H1191.5V639.5H1195.5V640.1H1199.5V641.3H1203.5V639.2H1207.5V640.8H1211.5V641.8H1215.5V643.4H1219.5V643.3H1223.5V645.1H1227.5V644.3H1231.5V643.4H1235.5V643.3H1239.5V645.9H1243.5V646.9H1247.5V646.1H1251.5V647.8H1255.5V647.6H1259.5V647.8H1263.5V646.9H1267.5V647.6H1271.5V648.9H1275.5V649.8H1279.5V649.8H1283.5V651.6H1287.5V653.2H1291.5V651.9H1295.5V652.9H1299.5V651.7H1303.5V653.4H1307.5V653.1H1311.5V654.1H1315.5V655.1H1319.5V655.5H1323.5V657.3H1327.5V656.5H1331.5V656.9H1335.5V658.1H1339.5V658.6H1343.5V659.5H1347.5V659.7H1351.5V659.5H1355.5V661.3H1359.5V661.8H1363.5V663.2H1367.5V664.6H1371.5V663.9H1375.5V663.5H1379.5V664H1383.5V664.4H1387.5V663.9H1391.5V667.2H1395.5V667.9H1399.5V669.8H1403.5V669.3H1407.5V670.2H1411.5V670.7H1415.5V671H1419.5V672.5H1423.5V672.6H1427.5V673H1431.5V673.8H1435.5V672.3H1439.5V673.4H1443.5V674.4H1447.5V677.6H1451.5V678.4H1455.5V679.3H1459.5V680H1463.5V680H1467.5V682.2H1471.5V681.8H1475.5V680.9H1479.5V682.9H1483.5V684.8H1487.5V685H1491.5V685.9H1495.5V687.3H1499.5V688.7H1503.5V689.2H1507.5V690.4H1511.5V690.7H1515.5V692H1519.5V690.9H1523.5V692.7H1527.5V693.4H1531.5V694H1535.5V693.4H1539.5V695.9H1543.5V696.3H1547.5V696.1H1551.5V696.9H1555.5V698.2H1559.5V699.6H1563.5V699.7H1567.5V700.2H1571.5V702.3H1575.5V703.2H1579.5V706.1H1583.5V705.6H1587.5V707H1591.5V708.7H1595.5V708.5H1599.5V709.9H1603.5V710.3H1607.5V710.6H1611.5V712.7H1615.5V711.6H1619.5V711.8H1623.5V711.2H1627.5V713H1631.5V715.3H1635.5V715.5H1639.5V717.1H1643.5V716.7H1647.5V718.7H1651.5V718.9H1655.5V718.9H1659.5V721.5H1663.5V721.4H1667.5V722.3H1671.5V722.7H1675.5V723.9H1679.5V724.2H1683.5V723.5H1687.5V725H1691.5V726.3H1695.5V727.1H1699.5V727.3H1703.5V729.8H1707.5V728.8H1711.5V729.6H1715.5V730.4H1719.5V729.9H1723.5V730H1727.5V732.2H1731.5V733.6H1735.5V734.2H1739.5V733.1H1743.5V734.3H1747.5V735.8H1751.5V737.2H1755.5V738.9H1759.5V739.3H1763.5V740.5H1767.5V741.7H1771.5V739.3H1775.5V741.8H1779.5V741.9H1783.5V743.4H1787.5V744.1H1791.5V743.7H1795.5V744.1H1799.5V746H1803.5V746.6H1807.5V748.2H1811.5V748.2H1815.5V750.9H1819.5V750.4H1823.5V752.3H1827.5V751.4H1831.5V752.4H1835.5V753.8H1839.5V752.3H1843.5V752.3H1847.5V754.1H1851.5V756H1855.5V757.4H1859.5V757.6H1863.5V758.5H1867.5V757.1H1871.5V757.6H1875.5V759.9H1879.5V759.2H1883.5V759.5H1887.5V758.3H1891.5V759.5H1895.5V758.8H1899.5V760.4H1903.5V762.2H1907.5V761.9H1911.5V761.5H1915.5V760.6H1919.5V760.9H1923.5V759.2H1927.5V758.9H1931.5V761.1H1935.5V758.4H1939.5V757.6H1943.5V756.1H1947.5V757.4H1951.5V756H1955.5V753.6H1959.5V751.8H1963.5V752.5H1967.5V751.5H1971.5V750.1H1975.5V747.3H1979.5V745.4H1983.5V743.3H1987.5V740.1H1991.5V734.6H1995.5V730.5H1999.5V727.4H2003.5V725.4H2007.5V721H2011.5V717.5H2015.5V714.9H2019.5V710.9H2023.5V706.7H2027.5V704.7H2031.5V700.7H2035.5V696.7H2039.5V692.6H2043.5V689.3H2047.5V685.3H2051.5V682.9H2055.5V679.9H2059.5V714.2H2055.5V714.7H2051.5V717.6H2047.5V718H2043.5V720.8H2039.5V725.1H2035.5V729.2H2031.5V735.1H2027.5V740.9H2023.5V741.9H2019.5V744.7H2015.5V750.6H2011.5V757.6H2007.5V755.7H2003.5V759.3H1999.5V761.9H1995.5V764.8H1991.5V767.3H1987.5V773.1H1983.5V777H1979.5V779.3H1975.5V780.3H1971.5V780H1967.5V780.7H1963.5V781.9H1959.5V784.3H1955.5V784.6H1951.5V787.4H1947.5V789.2H1943.5V787.7H1939.5V790.1H1935.5V788.7H1931.5V790.6H1927.5V790.7H1923.5V790.9H1919.5V790.1H1915.5V790.4H1911.5V791.8H1907.5V790.5H1903.5V792.3H1899.5V791.5H1895.5V791H1891.5V791.9H1887.5V787.6H1883.5V792H1879.5V794.4H1875.5V787.3H1871.5V787.3H1867.5V787.3H1863.5V789.4H1859.5V789.3H1855.5V787.7H1851.5V784.1H1847.5V785.4H1843.5V787.2H1839.5V788.1H1835.5V788.1H1831.5V785.9H1827.5V790H1823.5V779.9H1819.5V782.8H1815.5V784.7H1811.5V789.3H1807.5V780.2H1803.5V779.9H1799.5V787H1795.5V779.4H1791.5V779.2H1787.5V777.8H1783.5V776.3H1779.5V774.5H1775.5V772.1H1771.5V769.6H1767.5V770.4H1763.5V768.9H1759.5V768.2H1755.5V768.9H1751.5V768.6H1747.5V767.3H1743.5V767.6H1739.5V771.8H1735.5V760.9H1731.5V762.7H1727.5V759.3H1723.5V768.8H1719.5V762.1H1715.5V765.5H1711.5V764.7H1707.5V763.3H1703.5V761.6H1699.5V758.7H1695.5V757.5H1691.5V760.1H1687.5V757.9H1683.5V756.6H1679.5V755.6H1675.5V755.3H1671.5V754.7H1667.5V754.8H1663.5V753.4H1659.5V752.1H1655.5V748.1H1651.5V749.9H1647.5V744.7H1643.5V751.3H1639.5V751H1635.5V745.6H1631.5V748.1H1627.5V743.7H1623.5V743.9H1619.5V744.2H1615.5V742.3H1611.5V740.8H1607.5V746.9H1603.5V739.3H1599.5V738.3H1595.5V736.7H1591.5V734.9H1587.5V734.1H1583.5V730.9H1579.5V731.7H1575.5V730.1H1571.5V730.3H1567.5V733.9H1563.5V727.6H1559.5V729.6H1555.5V729H1551.5V728.4H1547.5V729.4H1543.5V726.7H1539.5V725.3H1535.5V722.2H1531.5V723.9H1527.5V730.1H1523.5V729.2H1519.5V723.9H1515.5V724H1511.5V720.4H1507.5V716.6H1503.5V717H1499.5V717H1495.5V715.6H1491.5V717.3H1487.5V718.6H1483.5V714.5H1479.5V712.8H1475.5V710.3H1471.5V716.8H1467.5V712.4H1463.5V711.4H1459.5V711H1455.5V709.4H1451.5V707H1447.5V704.8H1443.5V703.5H1439.5V701.9H1435.5V705.9H1431.5V706.4H1427.5V699.6H1423.5V699.5H1419.5V701.3H1415.5V698.9H1411.5V697.1H1407.5V696.3H1403.5V696.8H1399.5V696.8H1395.5V697.6H1391.5V697.7H1387.5V697.5H1383.5V696H1379.5V698.4H1375.5V696.6H1371.5V696.4H1367.5V692.5H1363.5V693.7H1359.5V692.9H1355.5V693H1351.5V689H1347.5V692.4H1343.5V690.8H1339.5V686.6H1335.5V686.6H1331.5V687.7H1327.5V689.8H1323.5V686.3H1319.5V685.9H1315.5V684.7H1311.5V680.6H1307.5V685H1303.5V687.9H1299.5V686.5H1295.5V688.7H1291.5V685.5H1287.5V680H1283.5V679.3H1279.5V680.9H1275.5V687.1H1271.5V681.7H1267.5V683H1263.5V685.6H1259.5V676.2H1255.5V677.5H1251.5V677.4H1247.5V677.2H1243.5V677.7H1239.5V681.1H1235.5V678.6H1231.5V676.1H1227.5V673.7H1223.5V673.8H1219.5V674.3H1215.5V674.7H1211.5V674.1H1207.5V672.5H1203.5V671H1199.5V668.3H1195.5V668H1191.5V668.8H1187.5V665.7H1183.5V663.7H1179.5V662.6H1175.5V661.4H1171.5V659.9H1167.5V662H1163.5V658.1H1159.5V660.5H1155.5V659.9H1151.5V662.8H1147.5V656.6H1143.5V655H1139.5V657.3H1135.5V656.1H1131.5V660.9H1127.5V662H1123.5V653.2H1119.5V654.4H1115.5V656.1H1111.5V654.7H1107.5V654.1H1103.5V652.4H1099.5V652.7H1095.5V654.4H1091.5V649.8H1087.5V649.9H1083.5V657.1H1079.5V651.7H1075.5V653.2H1071.5V654.3H1067.5V652.6H1063.5V655.8H1059.5V654.3H1055.5V650.6H1051.5V650.7H1047.5V652.4H1043.5V654.1H1039.5V651.7H1035.5V654.6H1031.5V660.4H1027.5V660.6H1023.5V654.1H1019.5V652.4H1015.5V650.6H1011.5V651H1007.5V651.1H1003.5V652.6H999.5V649.8H995.5V651H991.5V653.2H987.5V652.9H983.5V652.1H979.5V657.6H975.5V652.9H971.5V657.9H967.5V656.4H963.5V658.4H959.5V660.9H955.5V667.2H951.5V669.4H947.5V661.9H943.5V664.4H939.5V664.3H935.5V663.7H931.5V664.4H927.5V667.2H923.5V668.5H919.5V669.7H915.5V673.1H911.5V672.6H907.5V674.1H903.5V676.7H899.5V675H895.5V675.6H891.5V678.3H887.5V682.7H883.5V685.3H879.5V691.9H875.5V687H871.5V687.2H867.5V690H863.5V694.6H859.5V698.1H855.5V693.8H851.5V695.6H847.5V696.2H843.5V697.9H839.5V699.9H835.5V702.3H831.5V700.5H827.5V703.3H823.5V704.2H819.5V708.3H815.5V709.9H811.5V710.6H807.5V710.6H803.5V715.4H799.5V715.9H795.5V718.7H791.5V719H787.5V719H783.5V721H779.5V722.8H775.5V726.9H771.5V727H767.5V727.4H763.5V729.5H759.5V728.1H755.5V731.3H751.5V734.3H747.5V732.3H743.5V731.9H739.5V734.5H735.5V738.6H731.5V740.3H727.5V739.7H723.5V740.2H719.5V739.8H715.5V740.1H711.5V742.5H707.5V742.9H703.5V745.8H699.5V748.9H695.5V748.6H691.5V747.7H687.5V750.5H683.5V751.7H679.5V752.8H675.5V752.9H671.5V754.2H667.5V753.6H663.5V754.1H659.5V757.9H655.5V756.7H651.5V761.5H647.5V762.2H643.5V763.4H639.5V763H635.5V765.3H631.5V765.7H627.5V767.5H623.5V765.4H619.5V768.4H615.5V766.8H611.5V767.7H607.5V770.7H603.5V773.1H599.5V772.7H595.5V772.7H591.5V774.2H587.5V775.7H583.5V776H579.5V776.2H575.5V777.3H571.5V776.7H567.5V776.5H563.5V778.4H559.5V778.5H555.5V778.5H551.5V780.7H547.5V785.9H543.5V788H539.5V788.4H535.5V786.7H531.5V786.9H527.5V786.4H523.5V786.9H519.5V788.1H515.5V791.8H511.5V771.9H507.5V771H503.5V773.2H499.5V771.2H495.5V771H491.5V769.7H487.5V770H483.5V770.3H479.5V771.6H475.5V770.6H471.5V769.7H467.5V768.9H463.5V769.7H459.5V770.3H455.5V768.8H451.5V768.3H447.5V768.1H443.5V768.1H439.5V768.5H435.5V770H431.5V770H427.5V769.5H423.5V770.3H419.5V770.5H415.5V771.2H411.5V771.7H407.5V773.8H403.5V771.9H399.5V771.7H395.5V770.9H391.5V770.6H387.5V769.5H383.5V769.9H378.7Z" fill="#000080"/>
<path d="M378.7 772.4H383.5V772.6H387.5V772H391.5V771.3H395.5V771.8H399.5V771.8H403.5V772.1H407.5V772.2H411.5V772.5H415.5V772.9H419.5V772.6H423.5V771.6H427.5V772.1H431.5V772.1H435.5V772H439.5V772.6H443.5V772.2H447.5V771.7H451.5V771.8H455.5V770.9H459.5V771.6H463.5V771.5H467.5V772.1H471.5V771.9H475.5V771.6H479.5V771.3H483.5V770.5H487.5V770.6H491.5V770.7H495.5V771H499.5V770.8H503.5V770.8H507.5V770.7H511.5V770.1H515.5V770.1H519.5V769.3H523.5V767.5H527.5V766.1H531.5V767.2H535.5V767.9H539.5V767.5H543.5V764.8H547.5V765.3H551.5V764.7H555.5V762.1H559.5V761.6H563.5V762H567.5V760.3H571.5V760.1H575.5V757.8H579.5V756.6H583.5V756.8H587.5V755.4H591.5V754.6H595.5V753.7H599.5V751.7H603.5V752.9H607.5V751.3H611.5V749.9H615.5V748.6H619.5V748.1H623.5V746.3H627.5V746.8H631.5V745.3H635.5V745.2H639.5V742.9H643.5V741.1H647.5V739.8H651.5V739.8H655.5V737.6H659.5V738.2H663.5V736.6H667.5V736.5H671.5V734.5H675.5V734.2H679.5V731.5H683.5V729.6H687.5V729.7H691.5V728H695.5V728.1H699.5V725.7H703.5V725.2H707.5V722.9H711.5V720.2H715.5V721.5H719.5V719.7H723.5V719.4H727.5V717.8H731.5V714.4H735.5V714.4H739.5V714.3H743.5V713.8H747.5V712.6H751.5V710.9H755.5V708.7H759.5V707.1H763.5V704.4H767.5V704.3H771.5V703.5H775.5V701.9H779.5V699.2H783.5V698.6H787.5V696.3H791.5V696.2H795.5V693.3H799.5V691.1H803.5V689.2H807.5V686.5H811.5V684.4H815.5V682.9H819.5V679.8H823.5V680.5H827.5V678.4H831.5V676.3H835.5V673.1H839.5V671.8H843.5V669.9H847.5V668.3H851.5V665.1H855.5V664.2H859.5V661.6H863.5V661.1H867.5V659.7H871.5V658.8H875.5V658.1H879.5V658.5H883.5V658.5H887.5V656.7H891.5V654.2H895.5V655.1H899.5V651.8H903.5V650.4H907.5V649.1H911.5V647.1H915.5V647.3H919.5V645.5H923.5V644.6H927.5V642.1H931.5V641.6H935.5V640H939.5V639.1H943.5V639.2H947.5V639.2H951.5V639.4H955.5V638.6H959.5V636.9H963.5V637.3H967.5V636.2H971.5V636.4H975.5V636.4H979.5V637.9H983.5V635.6H987.5V637.9H991.5V636.2H995.5V633.6H999.5V633.7H1003.5V633.1H1007.5V632.1H1011.5V632.4H1015.5V629.6H1019.5V628.5H1023.5V627.2H1027.5V625.1H1031.5V624.7H1035.5V625.1H1039.5V623.2H1043.5V623.6H1047.5V624.3H1051.5V624.2H1055.5V621.8H1059.5V622.6H1063.5V622.3H1067.5V623.8H1071.5V623.1H1075.5V624.8H1079.5V622.7H1083.5V623.5H1087.5V622.6H1091.5V625H1095.5V625.8H1099.5V624.2H1103.5V625.2H1107.5V625.1H1111.5V623.6H1115.5V623.7H1119.5V625.1H1123.5V626.4H1127.5V626.3H1131.5V627.3H1135.5V628.2H1139.5V629H1143.5V628.3H1147.5V629.8H1151.5V631.4H1155.5V630.6H1159.5V633.8H1163.5V635.7H1167.5V635.8H1171.5V637.6H1175.5V636.9H1179.5V636.5H1183.5V637.1H1187.5V637.7H1191.5V640.9H1195.5V641H1199.5V641.3H1203.5V642.3H1207.5V644.3H1211.5V644.2H1215.5V644H1219.5V644.9H1223.5V646.7H1227.5V646.4H1231.5V648.3H1235.5V648.3H1239.5V648.2H1243.5V649.2H1247.5V651.1H1251.5V650.5H1255.5V652.1H1259.5V652.2H1263.5V652.1H1267.5V652.3H1271.5V653.4H1275.5V654H1279.5V654.2H1283.5V654.9H1287.5V653.9H1291.5V654H1295.5V653.9H1299.5V654.9H1303.5V655.7H1307.5V656.2H1311.5V657.6H1315.5V657.1H1319.5V657.9H1323.5V659.7H1327.5V661.7H1331.5V661.3H1335.5V662.7H1339.5V663.6H1343.5V662.2H1347.5V663.2H1351.5V662.7H1355.5V663.5H1359.5V665.1H1363.5V664.5H1367.5V666.4H1371.5V667H1375.5V667.6H1379.5V669H1383.5V668.7H1387.5V668.1H1391.5V669.9H1395.5V670.4H1399.5V671.6H1403.5V671.6H1407.5V672.2H1411.5V672.9H1415.5V673.4H1419.5V674.4H1423.5V675.4H1427.5V677.1H1431.5V680.6H1435.5V680.1H1439.5V679H1443.5V681.1H1447.5V680.7H1451.5V681.3H1455.5V682.6H1459.5V684H1463.5V685.1H1467.5V686.2H1471.5V686.9H1475.5V688.8H1479.5V689.9H1483.5V689.5H1487.5V690.1H1491.5V689.7H1495.5V692.1H1499.5V692.7H1503.5V695.6H1507.5V694.8H1511.5V697.1H1515.5V696.2H1519.5V695.5H1523.5V696.4H1527.5V698.5H1531.5V700.6H1535.5V700.2H1539.5V702.3H1543.5V702.2H1547.5V702.6H1551.5V703.5H1555.5V706.3H1559.5V706.6H1563.5V707.3H1567.5V706.3H1571.5V707.9H1575.5V709.3H1579.5V711.7H1583.5V710.7H1587.5V710.9H1591.5V711.2H1595.5V712H1599.5V714.2H1603.5V714.1H1607.5V716.6H1611.5V716.9H1615.5V716.5H1619.5V717H1623.5V716.9H1627.5V717.6H1631.5V720.4H1635.5V722H1639.5V721.2H1643.5V721.8H1647.5V724.6H1651.5V723.9H1655.5V724.9H1659.5V726.1H1663.5V726.3H1667.5V726.8H1671.5V727.3H1675.5V728.4H1679.5V727.6H1683.5V729.3H1687.5V730.5H1691.5V730H1695.5V732H1699.5V731.8H1703.5V731.7H1707.5V732.4H1711.5V733.6H1715.5V735.7H1719.5V736H1723.5V735.5H1727.5V737H1731.5V739.1H1735.5V739.4H1739.5V738.6H1743.5V740.5H1747.5V741H1751.5V741.7H1755.5V742.6H1759.5V743.9H1763.5V744.2H1767.5V743.8H1771.5V744.9H1775.5V746H1779.5V747.9H1783.5V746.7H1787.5V747.7H1791.5V747.7H1795.5V749.2H1799.5V749.4H1803.5V748.9H1807.5V750.8H1811.5V751.1H1815.5V751.1H1819.5V751.4H1823.5V752H1827.5V752.5H1831.5V753.9H1835.5V755.2H1839.5V755.9H1843.5V757H1847.5V756.7H1851.5V758.3H1855.5V758.7H1859.5V759.8H1863.5V760.9H1867.5V760.7H1871.5V762.6H1875.5V763.3H1879.5V762.6H1883.5V764.8H1887.5V765.4H1891.5V763.3H1895.5V762.1H1899.5V762.4H1903.5V763.9H1907.5V765H1911.5V765.1H1915.5V764.3H1919.5V764.6H1923.5V764.3H1927.5V762.6H1931.5V762.2H1935.5V762.5H1939.5V760.6H1943.5V759.3H1947.5V757.9H1951.5V758.9H1955.5V757.8H1959.5V756.7H1963.5V754.1H1967.5V752.4H1971.5V751.8H1975.5V748.8H1979.5V747.6H1983.5V744.4H1987.5V741.4H1991.5V739.1H1995.5V736.8H1999.5V734.8H2003.5V730.3H2007.5V728.3H2011.5V722.9H2015.5V718.3H2019.5V713.5H2023.5V711.5H2027.5V709.1H2031.5V702.6H2035.5V697.9H2039.5V693.5H2043.5V688.3H2047.5V686.6H2051.5V686H2055.5V685H2059.5V719.5H2055.5V721.9H2051.5V722.5H2047.5V725.4H2043.5V729.4H2039.5V736.3H2035.5V738.3H2031.5V741.9H2027.5V748.4H2023.5V752.8H2019.5V760.9H2015.5V764.3H2011.5V763H2007.5V765.2H2003.5V768H1999.5V771.2H1995.5V772.4H1991.5V774.9H1987.5V778.5H1983.5V780.6H1979.5V779H1975.5V785.3H1971.5V785.6H1967.5V788H1963.5V789.9H1959.5V793H1955.5V791.8H1951.5V792H1947.5V795.4H1943.5V795.8H1939.5V796.5H1935.5V796.2H1931.5V798.2H1927.5V802.6H1923.5V803.9H1919.5V797.9H1915.5V799.4H1911.5V804H1907.5V804.2H1903.5V796.3H1899.5V794.4H1895.5V795H1891.5V797.8H1887.5V796.7H1883.5V798.6H1879.5V793.8H1875.5V794H1871.5V794.9H1867.5V790.9H1863.5V793.1H1859.5V790.1H1855.5V791.3H1851.5V797.8H1847.5V795.8H1843.5V793.4H1839.5V787.9H1835.5V784.6H1831.5V785.1H1827.5V782.5H1823.5V782.9H1819.5V781.4H1815.5V783.5H1811.5V786.3H1807.5V783.2H1803.5V780.4H1799.5V782.8H1795.5V783.7H1791.5V781.7H1787.5V781.2H1783.5V779.3H1779.5V779.7H1775.5V782.6H1771.5V780.1H1767.5V775H1763.5V774.5H1759.5V775.8H1755.5V778.7H1751.5V775.9H1747.5V776.1H1743.5V774.9H1739.5V774.7H1735.5V771.3H1731.5V769.7H1727.5V769.4H1723.5V769H1719.5V765.8H1715.5V765.6H1711.5V765.5H1707.5V763H1703.5V763.2H1699.5V765.6H1695.5V767.6H1691.5V766.3H1687.5V762.6H1683.5V761.8H1679.5V762.4H1675.5V761.6H1671.5V760.3H1667.5V761.4H1663.5V763.9H1659.5V760H1655.5V757.7H1651.5V765.9H1647.5V763.1H1643.5V755.2H1639.5V754.4H1635.5V752.8H1631.5V750H1627.5V749.5H1623.5V750.4H1619.5V752.3H1615.5V753.5H1611.5V750.6H1607.5V751.5H1603.5V749.1H1599.5V751.1H1595.5V747.7H1591.5V748.2H1587.5V743.6H1583.5V744.6H1579.5V742.5H1575.5V742H1571.5V739.9H1567.5V741.9H1563.5V739.8H1559.5V735.6H1555.5V735.6H1551.5V735.2H1547.5V734.2H1543.5V735.4H1539.5V737H1535.5V736.2H1531.5V730.6H1527.5V731.6H1523.5V729.1H1519.5V728.9H1515.5V727.2H1511.5V726.6H1507.5V730.8H1503.5V730H1499.5V723.5H1495.5V725.4H1491.5V733H1487.5V729.6H1483.5V720.7H1479.5V717.4H1475.5V719.7H1471.5V719.4H1467.5V718.5H1463.5V718.8H1459.5V720.9H1455.5V715.9H1451.5V719.3H1447.5V715H1443.5V714H1439.5V711.7H1435.5V713.6H1431.5V711.7H1427.5V709H1423.5V711.2H1419.5V710.4H1415.5V710.5H1411.5V713.1H1407.5V711.1H1403.5V703.5H1399.5V700.1H1395.5V699.9H1391.5V700H1387.5V697.9H1383.5V699.2H1379.5V704.4H1375.5V699.7H1371.5V701.2H1367.5V699.3H1363.5V699.7H1359.5V699.3H1355.5V698.1H1351.5V700.5H1347.5V694.6H1343.5V694.5H1339.5V690.3H1335.5V690.2H1331.5V691.7H1327.5V693.1H1323.5V698H1319.5V695.7H1315.5V691.1H1311.5V698H1307.5V689.3H1303.5V689.4H1299.5V686.3H1295.5V683.4H1291.5V684.4H1287.5V682.5H1283.5V682.5H1279.5V684.4H1275.5V685H1271.5V683H1267.5V680.9H1263.5V683.7H1259.5V684.9H1255.5V685.1H1251.5V687.4H1247.5V683.3H1243.5V682.5H1239.5V685.9H1235.5V677.1H1231.5V678.2H1227.5V676.7H1223.5V675.7H1219.5V675.8H1215.5V679.8H1211.5V677.8H1207.5V676.5H1203.5V676.3H1199.5V678.3H1195.5V671.1H1191.5V669.2H1187.5V670.6H1183.5V671H1179.5V671.8H1175.5V671.7H1171.5V669.9H1167.5V667.2H1163.5V665.2H1159.5V665H1155.5V664.4H1151.5V661.4H1147.5V659.9H1143.5V658.3H1139.5V659.1H1135.5V658.4H1131.5V658.8H1127.5V667.1H1123.5V664.5H1119.5V657.4H1115.5V654H1111.5V655.2H1107.5V662H1103.5V654.3H1099.5V654.9H1095.5V658.2H1091.5V659.6H1087.5V658H1083.5V659.5H1079.5V660.5H1075.5V655.2H1071.5V653.4H1067.5V655.1H1063.5V658.3H1059.5V656.1H1055.5V654.6H1051.5V656.3H1047.5V654.6H1043.5V654.9H1039.5V653.4H1035.5V653.3H1031.5V656.2H1027.5V658.2H1023.5V661.4H1019.5V660.6H1015.5V657.1H1011.5V660.4H1007.5V663.3H1003.5V662H999.5V661.7H995.5V665.4H991.5V668.5H987.5V669.2H983.5V669.6H979.5V668.9H975.5V668.9H971.5V668.3H967.5V668.3H963.5V667.4H959.5V666.8H955.5V669.2H951.5V666.1H947.5V664.6H943.5V665H939.5V666.9H935.5V674.1H931.5V672.4H927.5V668.1H923.5V671.3H919.5V669.8H915.5V672.2H911.5V676.9H907.5V674.3H903.5V678.7H899.5V680.9H895.5V682.3H891.5V680.6H887.5V683.5H883.5V681.5H879.5V683.5H875.5V685.7H871.5V683H867.5V684.4H863.5V690.3H859.5V692.6H855.5V695.6H851.5V695.4H847.5V702.9H843.5V705.7H839.5V701H835.5V702H831.5V702.4H827.5V703.4H823.5V706.4H819.5V707.4H815.5V711.9H811.5V715.3H807.5V718.5H803.5V722.4H799.5V723.2H795.5V726.2H791.5V726.5H787.5V727.8H783.5V725.9H779.5V727.8H775.5V731.6H771.5V732.3H767.5V733H763.5V737.2H759.5V742.7H755.5V742.5H751.5V739.9H747.5V739.3H743.5V744.1H739.5V745H735.5V745.2H731.5V748.3H727.5V748.8H723.5V748.9H719.5V754.6H715.5V756.3H711.5V756H707.5V759H703.5V762.4H699.5V761.6H695.5V762.6H691.5V764.6H687.5V768.5H683.5V766.7H679.5V761.3H675.5V768H671.5V769.4H667.5V770.8H663.5V769.1H659.5V768.5H655.5V772H651.5V771.6H647.5V772H643.5V772.5H639.5V775.6H635.5V776.4H631.5V778.4H627.5V779.9H623.5V782.2H619.5V785.1H615.5V785.3H611.5V780.7H607.5V784.9H603.5V784.2H599.5V782.1H595.5V781.8H591.5V790.9H587.5V790.9H583.5V790.9H579.5V788.8H575.5V796.1H571.5V795.6H567.5V793.2H563.5V791.5H559.5V792.3H555.5V793.8H551.5V794.1H547.5V801.1H543.5V799.5H539.5V798.3H535.5V796.4H531.5V799.1H527.5V798.3H523.5V798.3H519.5V799.9H515.5V799.4H511.5V781.6H507.5V782.8H503.5V782.1H499.5V781.5H495.5V781.8H491.5V782.5H487.5V781.5H483.5V780.8H479.5V781.1H475.5V781.7H471.5V781.8H467.5V783.6H463.5V783.9H459.5V784H455.5V782.8H451.5V782.8H447.5V784.3H443.5V781.8H439.5V782.9H435.5V784H431.5V784.4H427.5V784.1H423.5V784.7H419.5V785.6H415.5V786.9H411.5V783.2H407.5V782.4H403.5V784.5H399.5V783.9H395.5V783.7H391.5V784.9H387.5V784.4H383.5V784.1H378.7Z" fill="#800080"/>
<path d="M378.7 815H383.5V815.5H387.5V815.7H391.5V815.5H395.5V816.2H399.5V815.4H403.5V814.9H407.5V815H411.5V814.8H415.5V815.6H419.5V814.5H423.5V814.1H427.5V814.7H431.5V815.1H435.5V814.3H439.5V815H443.5V813.8H447.5V814.6H451.5V813.9H455.5V813.8H459.5V814.7H463.5V814.1H467.5V813.6H471.5V813.6H475.5V814.3H479.5V813.7H483.5V812.9H487.5V813H491.5V812.2H495.5V812H499.5V811.9H503.5V812.2H507.5V811.8H511.5V812.1H515.5V812.8H519.5V813H523.5V809.9H527.5V809.7H531.5V808.2H535.5V808.9H539.5V808.4H543.5V807.5H547.5V806.1H551.5V804.6H555.5V802.9H559.5V804.1H563.5V803.1H567.5V802.4H571.5V801.8H575.5V801.5H579.5V801.3H583.5V799.2H587.5V798.2H591.5V794.7H595.5V793.7H599.5V792.2H603.5V790.9H607.5V791.4H611.5V789.8H615.5V788.3H619.5V787H623.5V785.4H627.5V783.9H631.5V782.1H635.5V780.6H639.5V779.3H643.5V778.2H647.5V775.4H651.5V775.2H655.5V774.4H659.5V773.8H663.5V771.2H667.5V769.6H671.5V769.9H675.5V767.8H679.5V767.4H683.5V765.3H687.5V763.1H691.5V761.3H695.5V760.4H699.5V759.5H703.5V757.6H707.5V758.6H711.5V756.9H715.5V754.4H719.5V754.8H723.5V753.5H727.5V750.5H731.5V747.9H735.5V746.8H739.5V746.3H743.5V743H747.5V743.1H751.5V740.7H755.5V739.9H759.5V737.6H763.5V736.3H767.5V734.8H771.5V733.9H775.5V730.5H779.5V730.5H783.5V726.5H787.5V725.3H791.5V724.1H795.5V721.9H799.5V720.8H803.5V716.8H807.5V715.5H811.5V714.9H815.5V712.7H819.5V709.4H823.5V708.2H827.5V706.7H831.5V703.8H835.5V703.8H839.5V700.8H843.5V698H847.5V696.9H851.5V694.7H855.5V693.2H859.5V692H863.5V689.9H867.5V689H871.5V687.4H875.5V686.7H879.5V683.2H883.5V681.9H887.5V680.6H891.5V679.3H895.5V675.5H899.5V674.2H903.5V674.3H907.5V673.9H911.5V672.4H915.5V671.3H919.5V671.2H923.5V669H927.5V667H931.5V667.9H935.5V666.9H939.5V665.2H943.5V663.4H947.5V664.6H951.5V662.8H955.5V661.1H959.5V662.1H963.5V659.4H967.5V659.2H971.5V659.6H975.5V658.5H979.5V657.4H983.5V657.6H987.5V655.7H991.5V655.5H995.5V656.1H999.5V654.2H1003.5V655.5H1007.5V654.2H1011.5V653.5H1015.5V652.5H1019.5V652.9H1023.5V651.7H1027.5V651.7H1031.5V652.6H1035.5V652.7H1039.5V649.9H1043.5V651.3H1047.5V649.9H1051.5V649.9H1055.5V649.5H1059.5V649.4H1063.5V648.2H1067.5V648.7H1071.5V649.2H1075.5V647.6H1079.5V647.2H1083.5V647.7H1087.5V648H1091.5V647.3H1095.5V646.9H1099.5V647.2H1103.5V647H1107.5V648.1H1111.5V648.6H1115.5V649.4H1119.5V648.8H1123.5V649.6H1127.5V651.5H1131.5V653.4H1135.5V654.3H1139.5V654.7H1143.5V654.8H1147.5V656.1H1151.5V656H1155.5V656.6H1159.5V658.8H1163.5V657.1H1167.5V657.5H1171.5V658.3H1175.5V657.5H1179.5V658.1H1183.5V660.8H1187.5V661.8H1191.5V662H1195.5V663.8H1199.5V662.6H1203.5V665.3H1207.5V664.9H1211.5V664.4H1215.5V666.3H1219.5V666.9H1223.5V667.2H1227.5V667.3H1231.5V666.1H1235.5V666.5H1239.5V667.9H1243.5V670.2H1247.5V669.8H1251.5V670.8H1255.5V669.9H1259.5V670H1263.5V671.5H1267.5V673.2H1271.5V674.3H1275.5V675.5H1279.5V674.3H1283.5V674.6H1287.5V675.9H1291.5V674.9H1295.5V675.5H1299.5V676.3H1303.5V676.9H1307.5V678.3H1311.5V678.8H1315.5V678.5H1319.5V677.1H1323.5V679.4H1327.5V681.2H1331.5V681.9H1335.5V682.4H1339.5V683.1H1343.5V684.6H1347.5V684H1351.5V684.5H1355.5V684.3H1359.5V685.4H1363.5V685.7H1367.5V686.2H1371.5V686.3H1375.5V687.8H1379.5V690.3H1383.5V688.6H1387.5V691.3H1391.5V692H1395.5V692.1H1399.5V693.5H1403.5V693.9H1407.5V694.7H1411.5V696.9H1415.5V697H1419.5V697.7H1423.5V697.7H1427.5V698.2H1431.5V698.1H1435.5V699.2H1439.5V699.5H1443.5V701.9H1447.5V702H1451.5V703.5H1455.5V705.1H1459.5V706H1463.5V705.1H1467.5V707.6H1471.5V705.5H1475.5V708.4H1479.5V706.4H1483.5V707.3H1487.5V709.2H1491.5V709.8H1495.5V709.9H1499.5V710.8H1503.5V712.7H1507.5V712.5H1511.5V715H1515.5V717.3H1519.5V718.9H1523.5V719H1527.5V719.2H1531.5V719.4H1535.5V722.4H1539.5V723.2H1543.5V723.9H1547.5V724.1H1551.5V725.4H1555.5V723.4H1559.5V725.8H1563.5V725.8H1567.5V725.1H1571.5V727.9H1575.5V727.9H1579.5V729.6H1583.5V729.5H1587.5V730.3H1591.5V733.1H1595.5V733.4H1599.5V734H1603.5V732.7H1607.5V735H1611.5V734.8H1615.5V736.2H1619.5V735.6H1623.5V737.1H1627.5V738.3H1631.5V737.2H1635.5V738.8H1639.5V738.6H1643.5V741.1H1647.5V741.6H1651.5V741.9H1655.5V744.1H1659.5V744.7H1663.5V744.1H1667.5V745.3H1671.5V745.6H1675.5V747.2H1679.5V745.9H1683.5V748.8H1687.5V747.9H1691.5V748.1H1695.5V748.2H1699.5V749.1H1703.5V752.2H1707.5V752.3H1711.5V751.4H1715.5V752.4H1719.5V753.6H1723.5V755.3H1727.5V755.1H1731.5V755.9H1735.5V758.3H1739.5V758.3H1743.5V758.4H1747.5V757.4H1751.5V759.5H1755.5V759.4H1759.5V762.1H1763.5V762.9H1767.5V763.3H1771.5V762.5H1775.5V762.7H1779.5V763H1783.5V764H1787.5V764.4H1791.5V764.6H1795.5V765.7H1799.5V766.4H1803.5V766.7H1807.5V768.4H1811.5V769.6H1815.5V768.8H1819.5V771.2H1823.5V771.1H1827.5V772H1831.5V772.5H1835.5V770.8H1839.5V771.8H1843.5V772.9H1847.5V774H1851.5V774.2H1855.5V774.8H1859.5V772.7H1863.5V772.5H1867.5V774.2H1871.5V772.6H1875.5V773.4H1879.5V774.4H1883.5V775.5H1887.5V776.7H1891.5V776.6H1895.5V775.6H1899.5V775H1903.5V776.1H1907.5V776.8H1911.5V776.7H1915.5V776.2H1919.5V775.7H1923.5V773.7H1927.5V773.9H1931.5V774.4H1935.5V772.4H1939.5V772.8H1943.5V772.7H1947.5V773H1951.5V771.1H1955.5V769H1959.5V766.3H1963.5V764.3H1967.5V762.3H1971.5V760.4H1975.5V759.6H1979.5V757.4H1983.5V755.1H1987.5V750.4H1991.5V747H1995.5V744H1999.5V743.3H2003.5V741.4H2007.5V736.3H2011.5V733.7H2015.5V730.8H2019.5V726.3H2023.5V722.7H2027.5V720.1H2031.5V715.7H2035.5V710.8H2039.5V705.4H2043.5V700.5H2047.5V697.2H2051.5V694.7H2055.5V695.2H2059.5V723.3H2055.5V729.1H2051.5V731.3H2047.5V728.4H2043.5V733.4H2039.5V739.2H2035.5V748.9H2031.5V754.5H2027.5V756.8H2023.5V756H2019.5V758.5H2015.5V760.8H2011.5V763.3H2007.5V767.5H2003.5V770.8H1999.5V774.8H1995.5V781.3H1991.5V783.3H1987.5V786.2H1983.5V787H1979.5V788.9H1975.5V788.7H1971.5V792.1H1967.5V792.7H1963.5V796.2H1959.5V795.3H1955.5V796.6H1951.5V797.5H1947.5V799.2H1943.5V801.1H1939.5V802.2H1935.5V804.3H1931.5V810.6H1927.5V804.4H1923.5V804.4H1919.5V805.3H1915.5V806.6H1911.5V807.3H1907.5V805.3H1903.5V804.4H1899.5V803.8H1895.5V803.7H1891.5V805.3H1887.5V803.2H1883.5V800.8H1879.5V804.4H1875.5V808.9H1871.5V810H1867.5V801.6H1863.5V800.7H1859.5V804.4H1855.5V801.7H1851.5V800.6H1847.5V799.9H1843.5V801.9H1839.5V805.2H1835.5V799.6H1831.5V799.2H1827.5V799H1823.5V795H1819.5V794.6H1815.5V796.2H1811.5V795.2H1807.5V800.9H1803.5V804.5H1799.5V795.2H1795.5V792.8H1791.5V791.1H1787.5V795.6H1783.5V789H1779.5V791.1H1775.5V793.8H1771.5V790.5H1767.5V790H1763.5V788.3H1759.5V786.9H1755.5V786.3H1751.5V788.7H1747.5V789.5H1743.5V788.4H1739.5V788.1H1735.5V786H1731.5V786.1H1727.5V784.7H1723.5V784.2H1719.5V782.8H1715.5V781.2H1711.5V780.6H1707.5V778.9H1703.5V777.8H1699.5V777.6H1695.5V777.4H1691.5V780.8H1687.5V779.6H1683.5V774.2H1679.5V773.6H1675.5V774.5H1671.5V775.2H1667.5V772H1663.5V773.1H1659.5V769.5H1655.5V770.7H1651.5V770.2H1647.5V767H1643.5V770.5H1639.5V766.9H1635.5V765.5H1631.5V769.8H1627.5V765.6H1623.5V765H1619.5V762.3H1615.5V760.3H1611.5V759.8H1607.5V766.3H1603.5V759.8H1599.5V758.6H1595.5V757.4H1591.5V759.9H1587.5V757.2H1583.5V758H1579.5V758.4H1575.5V756.2H1571.5V757H1567.5V756.5H1563.5V756.3H1559.5V756.4H1555.5V752.6H1551.5V757.1H1547.5V756.7H1543.5V749.9H1539.5V749.2H1535.5V748.6H1531.5V750.9H1527.5V747.4H1523.5V742.1H1519.5V743.4H1515.5V740.2H1511.5V739.1H1507.5V741.7H1503.5V739H1499.5V740.1H1495.5V742H1491.5V745.6H1487.5V741.1H1483.5V738.6H1479.5V740.3H1475.5V737.6H1471.5V734.7H1467.5V734.8H1463.5V735.7H1459.5V734.6H1455.5V732.2H1451.5V730.9H1447.5V731.1H1443.5V733.8H1439.5V728.5H1435.5V731.6H1431.5V726.5H1427.5V726.3H1423.5V724.8H1419.5V722.5H1415.5V723.4H1411.5V719.4H1407.5V718.7H1403.5V718.4H1399.5V717.3H1395.5V716.6H1391.5V721.5H1387.5V717.5H1383.5V714.4H1379.5V715H1375.5V717.2H1371.5V714.6H1367.5V712.4H1363.5V710.6H1359.5V709.8H1355.5V709.6H1351.5V714.7H1347.5V713.8H1343.5V710H1339.5V708.3H1335.5V706H1331.5V704.9H1327.5V707.4H1323.5V706.4H1319.5V707H1315.5V703.8H1311.5V704H1307.5V705.7H1303.5V707.5H1299.5V701.6H1295.5V702.2H1291.5V707.4H1287.5V703.4H1283.5V704.1H1279.5V702.6H1275.5V702.1H1271.5V700.7H1267.5V701.1H1263.5V706.2H1259.5V707.6H1255.5V701.4H1251.5V697.2H1247.5V694.8H1243.5V699.1H1239.5V693.8H1235.5V696.3H1231.5V697.3H1227.5V697.3H1223.5V694.8H1219.5V695.7H1215.5V695.1H1211.5V691.9H1207.5V697.3H1203.5V695.2H1199.5V701.4H1195.5V698.5H1191.5V691H1187.5V690.2H1183.5V685.1H1179.5V687.1H1175.5V687.1H1171.5V688.1H1167.5V690.3H1163.5V688H1159.5V688.8H1155.5V684.9H1151.5V683.4H1147.5V682.1H1143.5V680.1H1139.5V678.5H1135.5V677.6H1131.5V678.3H1127.5V679.7H1123.5V680.1H1119.5V679.6H1115.5V677.7H1111.5V679.3H1107.5V678.9H1103.5V675.4H1099.5V673.3H1095.5V671.1H1091.5V674.3H1087.5V676.6H1083.5V676.8H1079.5V676.4H1075.5V676.9H1071.5V679.7H1067.5V679.1H1063.5V678.8H1059.5V679.1H1055.5V679.3H1051.5V677.9H1047.5V676.6H1043.5V680.6H1039.5V681.7H1035.5V682.7H1031.5V681.4H1027.5V681.3H1023.5V680.2H1019.5V682.5H1015.5V682H1011.5V684H1007.5V681H1003.5V681H999.5V683.1H995.5V691.9H991.5V684.3H987.5V687.8H983.5V687.5H979.5V688H975.5V689.4H971.5V689H967.5V691.9H963.5V694.6H959.5V692.5H955.5V690.7H951.5V692.6H947.5V693.1H943.5V693H939.5V691.8H935.5V694.5H931.5V694.3H927.5V696.5H923.5V697.3H919.5V699.8H915.5V702H911.5V705.6H907.5V704.2H903.5V706.4H899.5V708.7H895.5V709.9H891.5V709.3H887.5V711.6H883.5V709.8H879.5V717.4H875.5V715.9H871.5V717.2H867.5V717.8H863.5V720.4H859.5V722.6H855.5V723H851.5V725.2H847.5V727.8H843.5V729.8H839.5V728.4H835.5V737.9H831.5V734.3H827.5V735.9H823.5V739.5H819.5V742.2H815.5V743.5H811.5V744.8H807.5V748.6H803.5V754.1H799.5V757.4H795.5V754.4H791.5V754.6H787.5V754.3H783.5V759.3H779.5V768.1H775.5V769H771.5V761.7H767.5V764.3H763.5V764.3H759.5V773.3H755.5V771.4H751.5V770.8H747.5V772.8H743.5V774.6H739.5V777.3H735.5V773.6H731.5V775.8H727.5V778.8H723.5V779.1H719.5V785.3H715.5V787.3H711.5V788.4H707.5V789.2H703.5V789.4H699.5V792.3H695.5V793.6H691.5V795.9H687.5V798.7H683.5V798.7H679.5V796.2H675.5V799.1H671.5V801.4H667.5V805H663.5V806.5H659.5V806.8H655.5V806H651.5V805.9H647.5V809.5H643.5V809.4H639.5V811.6H635.5V812.8H631.5V810.1H627.5V810H623.5V813.7H619.5V817.7H615.5V823H611.5V822.4H607.5V821.4H603.5V822.2H599.5V824.6H595.5V825.2H591.5V828H587.5V826.4H583.5V829.3H579.5V832.1H575.5V832.1H571.5V832.3H567.5V834.1H563.5V842.3H559.5V835.1H555.5V835.7H551.5V835.1H547.5V842.3H543.5V835.2H539.5V835H535.5V838.3H531.5V839.9H527.5V840H523.5V841H519.5V842.7H515.5V844H511.5V825.8H507.5V826.2H503.5V826H499.5V824.6H495.5V826.8H491.5V826.4H487.5V825.6H483.5V825.7H479.5V826.1H475.5V826H471.5V825.5H467.5V828.1H463.5V827.2H459.5V827.1H455.5V827.4H451.5V826.1H447.5V826.8H443.5V826.7H439.5V827.5H435.5V827H431.5V826.1H427.5V827.3H423.5V828.2H419.5V828.8H415.5V829.3H411.5V827.8H407.5V826.9H403.5V827.4H399.5V827.6H395.5V827.5H391.5V828.1H387.5V828.4H383.5V828.1H378.7Z" fill="#800000"/>
<path d="M378.7 825.9H383.5V824.8H387.5V825.1H391.5V824.6H395.5V825.3H399.5V825.1H403.5V825.1H407.5V825.3H411.5V825.2H415.5V825.1H419.5V825H423.5V825H427.5V824.5H431.5V824.3H435.5V824.2H439.5V823.8H443.5V823.7H447.5V824.4H451.5V823.3H455.5V824.2H459.5V823.5H463.5V823.6H467.5V823.3H471.5V823H475.5V823H479.5V823.5H483.5V822.8H487.5V822.4H491.5V821.8H495.5V822.7H499.5V822.5H503.5V822.3H507.5V821.6H511.5V819.4H515.5V820.4H519.5V818.3H523.5V818.2H527.5V819.6H531.5V818.3H535.5V817.2H539.5V815.6H543.5V816.4H547.5V816.3H551.5V815H555.5V814.8H559.5V812.2H563.5V811.4H567.5V811.7H571.5V811.9H575.5V810.5H579.5V807.9H583.5V806.8H587.5V807.2H591.5V804.9H595.5V804H599.5V803H603.5V800.8H607.5V799.7H611.5V796.7H615.5V795.9H619.5V795.7H623.5V795.7H627.5V796H631.5V793.9H635.5V793.6H639.5V792.5H643.5V790.8H647.5V789.5H651.5V789H655.5V788.2H659.5V786.3H663.5V787.8H667.5V785.4H671.5V784H675.5V781.4H679.5V781.5H683.5V776.9H687.5V775.3H691.5V774.1H695.5V773.7H699.5V771.2H703.5V768.1H707.5V768.4H711.5V766.6H715.5V763.9H719.5V761.8H723.5V759.9H727.5V758.4H731.5V754.9H735.5V754.2H739.5V752.1H743.5V751.3H747.5V749.8H751.5V746.6H755.5V746.7H759.5V745.1H763.5V741.6H767.5V738.9H771.5V737.1H775.5V736.3H779.5V735.9H783.5V732.6H787.5V730.2H791.5V729.6H795.5V727.8H799.5V726.1H803.5V724.4H807.5V722.5H811.5V722.9H815.5V721.5H819.5V718.6H823.5V718.1H827.5V717H831.5V715.1H835.5V712.9H839.5V710.2H843.5V708.7H847.5V707.2H851.5V706.6H855.5V703.1H859.5V699.9H863.5V698.5H867.5V697.6H871.5V693.9H875.5V692.5H879.5V690.1H883.5V687.6H887.5V686.7H891.5V686.4H895.5V682.8H899.5V682H903.5V680.5H907.5V680H911.5V678.5H915.5V676.5H919.5V676.5H923.5V675.5H927.5V672.9H931.5V670.6H935.5V669.6H939.5V669.7H943.5V669.7H947.5V667.6H951.5V666.2H955.5V663.6H959.5V662.9H963.5V662.6H967.5V661.2H971.5V660.5H975.5V658.8H979.5V657.8H983.5V658.2H987.5V656.3H991.5V656.8H995.5V658H999.5V656.5H1003.5V655.8H1007.5V654.9H1011.5V653.8H1015.5V653.9H1019.5V653.1H1023.5V653.5H1027.5V653.2H1031.5V652.2H1035.5V652.7H1039.5V653.6H1043.5V653.6H1047.5V652.3H1051.5V651.8H1055.5V650.3H1059.5V650.4H1063.5V651.3H1067.5V651.8H1071.5V652.7H1075.5V650.2H1079.5V652.3H1083.5V652.2H1087.5V653.5H1091.5V652.6H1095.5V653.6H1099.5V653H1103.5V651.8H1107.5V652.9H1111.5V652.7H1115.5V653.3H1119.5V654.4H1123.5V655.3H1127.5V655.8H1131.5V656.7H1135.5V654.8H1139.5V657.1H1143.5V656.5H1147.5V657.6H1151.5V658H1155.5V657.9H1159.5V660.4H1163.5V660H1167.5V660.7H1171.5V663.5H1175.5V661.5H1179.5V662.3H1183.5V664.6H1187.5V665H1191.5V666.9H1195.5V667.4H1199.5V667.6H1203.5V669.3H1207.5V669.1H1211.5V669.5H1215.5V670.8H1219.5V670.4H1223.5V670.3H1227.5V670.7H1231.5V672.7H1235.5V675.1H1239.5V675.7H1243.5V674.3H1247.5V674.1H1251.5V673.8H1255.5V675H1259.5V677H1263.5V677.1H1267.5V677.6H1271.5V676.4H1275.5V677.8H1279.5V677.9H1283.5V679.4H1287.5V681.1H1291.5V682.1H1295.5V683.6H1299.5V685.5H1303.5V682.9H1307.5V683.3H1311.5V686.6H1315.5V687.5H1319.5V687H1323.5V687.7H1327.5V688.6H1331.5V690.5H1335.5V690.4H1339.5V691H1343.5V690.3H1347.5V693.3H1351.5V694H1355.5V693.7H1359.5V693.1H1363.5V694.6H1367.5V696.6H1371.5V698.8H1375.5V699.5H1379.5V699.2H1383.5V698.9H1387.5V698.7H1391.5V700.4H1395.5V700.4H1399.5V702.2H1403.5V703.2H1407.5V704.2H1411.5V703.6H1415.5V706H1419.5V706.1H1423.5V705.6H1427.5V707H1431.5V708.3H1435.5V709.2H1439.5V711H1443.5V712.5H1447.5V713.7H1451.5V713.8H1455.5V715.1H1459.5V712.2H1463.5V716H1467.5V716.1H1471.5V717.9H1475.5V717.6H1479.5V718.7H1483.5V719.7H1487.5V719.3H1491.5V719.6H1495.5V719.1H1499.5V720.9H1503.5V722H1507.5V722.9H1511.5V725.2H1515.5V725.7H1519.5V726.3H1523.5V724.8H1527.5V726.6H1531.5V727.5H1535.5V729.6H1539.5V729.4H1543.5V729.1H1547.5V730.4H1551.5V733.5H1555.5V732.6H1559.5V734.8H1563.5V734.8H1567.5V733.3H1571.5V735.8H1575.5V738.8H1579.5V739.1H1583.5V738H1587.5V738.8H1591.5V738.9H1595.5V742.8H1599.5V743.3H1603.5V740.8H1607.5V743.3H1611.5V744.6H1615.5V744H1619.5V744.7H1623.5V746H1627.5V748.9H1631.5V748.3H1635.5V748.2H1639.5V750.4H1643.5V750.2H1647.5V750.1H1651.5V751.4H1655.5V753.5H1659.5V754.1H1663.5V754.3H1667.5V756.7H1671.5V758H1675.5V756.1H1679.5V756H1683.5V756.7H1687.5V758.1H1691.5V759.6H1695.5V760.4H1699.5V761.3H1703.5V762.5H1707.5V761.7H1711.5V761.6H1715.5V763.3H1719.5V765.8H1723.5V766.3H1727.5V766.2H1731.5V767.5H1735.5V767.6H1739.5V766.9H1743.5V767.9H1747.5V769.9H1751.5V770.6H1755.5V771.7H1759.5V771.2H1763.5V772.5H1767.5V774.2H1771.5V773.5H1775.5V773.3H1779.5V775.3H1783.5V775.4H1787.5V774.4H1791.5V775H1795.5V777.4H1799.5V777.7H1803.5V779.4H1807.5V779.6H1811.5V779.4H1815.5V780.4H1819.5V779.4H1823.5V781H1827.5V780.7H1831.5V780.7H1835.5V781.5H1839.5V781.3H1843.5V780.7H1847.5V781H1851.5V782.8H1855.5V783.7H1859.5V784.1H1863.5V785.2H1867.5V784.3H1871.5V784.6H1875.5V787H1879.5V785.7H1883.5V787.5H1887.5V786.9H1891.5V787.5H1895.5V787.6H1899.5V787.2H1903.5V787.4H1907.5V788.3H1911.5V786.8H1915.5V785.7H1919.5V786.9H1923.5V785.8H1927.5V785.2H1931.5V784.6H1935.5V783.8H1939.5V781.8H1943.5V781.9H1947.5V781H1951.5V778.9H1955.5V777.9H1959.5V777.4H1963.5V777.7H1967.5V774.6H1971.5V774H1975.5V770.7H1979.5V768.8H1983.5V765.7H1987.5V763.9H1991.5V760.9H1995.5V757.5H1999.5V753.3H2003.5V752.3H2007.5V747.5H2011.5V744.4H2015.5V743.6H2019.5V739.8H2023.5V736.1H2027.5V732.1H2031.5V727.8H2035.5V722.7H2039.5V718.8H2043.5V714.7H2047.5V711.7H2051.5V711.1H2055.5V710.9H2059.5V741.2H2055.5V738.9H2051.5V740.4H2047.5V741.8H2043.5V745.4H2039.5V750H2035.5V751.7H2031.5V757H2027.5V767.4H2023.5V768.9H2019.5V765H2015.5V771.9H2011.5V774.9H2007.5V775.7H2003.5V777.4H1999.5V782H1995.5V783H1991.5V788.4H1987.5V793.5H1983.5V793.7H1979.5V793.6H1975.5V795.5H1971.5V799.6H1967.5V799.9H1963.5V803.5H1959.5V803.2H1955.5V806.5H1951.5V812.5H1947.5V815.9H1943.5V816.1H1939.5V813.9H1935.5V815H1931.5V812.2H1927.5V812.3H1923.5V814.8H1919.5V813.7H1915.5V812.3H1911.5V811.7H1907.5V823.1H1903.5V814.9H1899.5V813.4H1895.5V812.6H1891.5V814.6H1887.5V814.9H1883.5V817.7H1879.5V812.2H1875.5V812H1871.5V813.6H1867.5V809.9H1863.5V812.2H1859.5V809.5H1855.5V812.8H1851.5V813.2H1847.5V813.9H1843.5V813.8H1839.5V815.8H1835.5V811.6H1831.5V813.4H1827.5V811.3H1823.5V809.5H1819.5V812.4H1815.5V812.4H1811.5V813.1H1807.5V808.6H1803.5V808H1799.5V806.6H1795.5V804.4H1791.5V812.2H1787.5V806.2H1783.5V806.8H1779.5V805H1775.5V802.5H1771.5V805.4H1767.5V804.3H1763.5V801.6H1759.5V804.7H1755.5V804H1751.5V803.9H1747.5V800.9H1743.5V801.2H1739.5V799.6H1735.5V799.2H1731.5V800.9H1727.5V798.9H1723.5V800H1719.5V798.2H1715.5V798.9H1711.5V799.5H1707.5V797.1H1703.5V797.3H1699.5V796.1H1695.5V796.5H1691.5V796.6H1687.5V794.7H1683.5V790.1H1679.5V792.2H1675.5V794H1671.5V789.9H1667.5V788.7H1663.5V788.7H1659.5V786.7H1655.5V786H1651.5V783.6H1647.5V782.8H1643.5V782H1639.5V783.3H1635.5V782H1631.5V784.9H1627.5V787.2H1623.5V786.5H1619.5V791.7H1615.5V790H1611.5V783.5H1607.5V780.7H1603.5V778H1599.5V779.1H1595.5V778.5H1591.5V782.7H1587.5V776.7H1583.5V778.7H1579.5V777.2H1575.5V778.5H1571.5V776.9H1567.5V775.7H1563.5V772.5H1559.5V771.2H1555.5V768.9H1551.5V768.5H1547.5V770.7H1543.5V769.9H1539.5V767.5H1535.5V766.9H1531.5V765.5H1527.5V771.6H1523.5V764.4H1519.5V764.2H1515.5V760.6H1511.5V757H1507.5V765.7H1503.5V764.3H1499.5V756.6H1495.5V753.9H1491.5V750.1H1487.5V748.5H1483.5V752.5H1479.5V751.4H1475.5V749.5H1471.5V751.4H1467.5V746.1H1463.5V743.7H1459.5V744.8H1455.5V744.4H1451.5V742.9H1447.5V739.3H1443.5V740.5H1439.5V746.5H1435.5V743H1431.5V741.5H1427.5V737.5H1423.5V738.3H1419.5V736.7H1415.5V735H1411.5V735H1407.5V736.5H1403.5V734H1399.5V730.7H1395.5V730.1H1391.5V729.2H1387.5V729.8H1383.5V730.2H1379.5V730.9H1375.5V727H1371.5V728.2H1367.5V727.3H1363.5V728.7H1359.5V730.7H1355.5V727.3H1351.5V723.5H1347.5V721.9H1343.5V720.8H1339.5V723.6H1335.5V726.6H1331.5V725.9H1327.5V725.1H1323.5V720.3H1319.5V717.7H1315.5V713.1H1311.5V715.6H1307.5V716.4H1303.5V717.6H1299.5V716.9H1295.5V712.7H1291.5V712H1287.5V708.1H1283.5V707.9H1279.5V709.4H1275.5V708.4H1271.5V709.4H1267.5V706.9H1263.5V711.3H1259.5V708.3H1255.5V700.7H1251.5V700.4H1247.5V702.3H1243.5V703.3H1239.5V703H1235.5V703.7H1231.5V704.2H1227.5V702.5H1223.5V704.2H1219.5V701.5H1215.5V698.2H1211.5V698.7H1207.5V699.3H1203.5V696.4H1199.5V694.1H1195.5V693.2H1191.5V699.6H1187.5V701.6H1183.5V697H1179.5V694.5H1175.5V693.6H1171.5V693.3H1167.5V692.8H1163.5V688.9H1159.5V686.6H1155.5V689.5H1151.5V688.6H1147.5V689.1H1143.5V687.8H1139.5V687.1H1135.5V685.4H1131.5V688.5H1127.5V687.2H1123.5V686.9H1119.5V685.2H1115.5V686.7H1111.5V684.4H1107.5V682.8H1103.5V684H1099.5V685.3H1095.5V682.5H1091.5V681.8H1087.5V681H1083.5V686.3H1079.5V684.6H1075.5V680H1071.5V682H1067.5V681.5H1063.5V684H1059.5V685.8H1055.5V684.6H1051.5V685.4H1047.5V687.6H1043.5V687.9H1039.5V687.7H1035.5V687.3H1031.5V687.3H1027.5V689.6H1023.5V688.2H1019.5V691.4H1015.5V691.4H1011.5V690.9H1007.5V691.4H1003.5V692.6H999.5V696.6H995.5V697.1H991.5V702.8H987.5V698H983.5V695.9H979.5V694H975.5V695.6H971.5V699.6H967.5V706.3H963.5V700.8H959.5V700.4H955.5V700.9H951.5V700.4H947.5V702.7H943.5V699H939.5V699.6H935.5V700.9H931.5V703H927.5V707H923.5V706.8H919.5V708.5H915.5V710.1H911.5V720.4H907.5V718.9H903.5V720.3H899.5V722.9H895.5V720.4H891.5V720.5H887.5V720.8H883.5V722.9H879.5V726.3H875.5V726.2H871.5V725H867.5V730.3H863.5V732.2H859.5V734.5H855.5V738H851.5V739.6H847.5V742.1H843.5V742.9H839.5V748.6H835.5V752.2H831.5V750.8H827.5V750.4H823.5V750.2H819.5V752.1H815.5V752.1H811.5V757H807.5V759.3H803.5V762H799.5V759.4H795.5V762.9H791.5V765.4H787.5V766.7H783.5V768.2H779.5V773.3H775.5V775.6H771.5V775.1H767.5V777.2H763.5V777.3H759.5V779.6H755.5V781.2H751.5V781.7H747.5V784.4H743.5V784H739.5V791.4H735.5V789.5H731.5V787.4H727.5V791H723.5V791.3H719.5V793.1H715.5V796.1H711.5V798.2H707.5V798.9H703.5V800.3H699.5V798.9H695.5V803.4H691.5V806H687.5V807.1H683.5V810.1H679.5V810.2H675.5V814.9H671.5V811.6H667.5V815.6H663.5V814.3H659.5V813H655.5V814.5H651.5V817.9H647.5V820H643.5V819H639.5V821.3H635.5V822.4H631.5V823.1H627.5V824.2H623.5V826.6H619.5V827.9H615.5V829.6H611.5V831H607.5V835.9H603.5V838.6H599.5V838.1H595.5V833.3H591.5V835H587.5V835.1H583.5V836.9H579.5V838.4H575.5V836.8H571.5V836.9H567.5V838.8H563.5V841.5H559.5V843.3H555.5V846H551.5V849.6H547.5V847.3H543.5V846.7H539.5V848H535.5V848.7H531.5V847.7H527.5V848.1H523.5V848.2H519.5V850.9H515.5V848.4H511.5V835.5H507.5V835H503.5V835.3H499.5V835H495.5V835H491.5V836.2H487.5V835.1H483.5V835.6H479.5V836.1H475.5V836.2H471.5V836.9H467.5V836.1H463.5V835.9H459.5V840.4H455.5V839.7H451.5V836.3H447.5V834.9H443.5V836.8H439.5V837.4H435.5V837.7H431.5V836.6H427.5V836.5H423.5V837.8H419.5V837.4H415.5V838.1H411.5V837.9H407.5V839.9H403.5V839.1H399.5V839.2H395.5V842.3H391.5V839.8H387.5V838.8H383.5V838.3H378.7Z" fill="#008000"/>
<path d="M378.7 916.4H383.5V915.6H387.5V915.6H391.5V915.1H395.5V915.6H399.5V914.2H403.5V915.5H407.5V914.8H411.5V913.5H415.5V913.9H419.5V913.5H423.5V913.6H427.5V913.5H431.5V913.8H435.5V912.5H439.5V912.7H443.5V913.1H447.5V912H451.5V912.2H455.5V912.2H459.5V911.4H463.5V910.3H467.5V910.5H471.5V910.1H475.5V910.6H479.5V909.8H483.5V909.6H487.5V909H491.5V908.2H495.5V906.8H499.5V905.9H503.5V905.5H507.5V904.6H511.5V903.9H515.5V904.1H519.5V903H523.5V902.9H527.5V901.8H531.5V901.1H535.5V899.5H539.5V897.4H543.5V898.4H547.5V898.4H551.5V897.7H555.5V895.4H559.5V895.8H563.5V894.4H567.5V893.2H571.5V891.1H575.5V889.6H579.5V888H583.5V887.4H587.5V885.2H591.5V883.9H595.5V881.9H599.5V879.3H603.5V878.6H607.5V877.5H611.5V876.1H615.5V872.6H619.5V872.8H623.5V871.5H627.5V869.4H631.5V870.7H635.5V868.8H639.5V868H643.5V866.3H647.5V862.4H651.5V863.1H655.5V860.3H659.5V860.3H663.5V858.1H667.5V855.4H671.5V852.5H675.5V850.8H679.5V848.9H683.5V848H687.5V845.4H691.5V844.9H695.5V842.4H699.5V840.2H703.5V840.6H707.5V838.5H711.5V835.1H715.5V833.5H719.5V829.8H723.5V827.9H727.5V826.6H731.5V824.5H735.5V822.2H739.5V821.8H743.5V819.3H747.5V816.9H751.5V815H755.5V813H759.5V812.5H763.5V810.8H767.5V807.1H771.5V807.2H775.5V806H779.5V802.9H783.5V799.7H787.5V798.2H791.5V795.9H795.5V794.8H799.5V792.6H803.5V791.8H807.5V787.4H811.5V785.3H815.5V784.1H819.5V781.6H823.5V779.5H827.5V776.6H831.5V777.2H835.5V774.2H839.5V772.6H843.5V769.2H847.5V766.9H851.5V765H855.5V764.8H859.5V763.2H863.5V761.1H867.5V758.9H871.5V756.7H875.5V753.6H879.5V750.1H883.5V749.4H887.5V745.9H891.5V744.5H895.5V741.6H899.5V738.8H903.5V737.7H907.5V735.1H911.5V733.5H915.5V733H919.5V730.7H923.5V729.9H927.5V727.2H931.5V725.9H935.5V723.2H939.5V723.7H943.5V719.8H947.5V719.8H951.5V719.5H955.5V716.1H959.5V715.1H963.5V714.1H967.5V713.7H971.5V713.3H975.5V712.5H979.5V712.7H983.5V713.7H987.5V711H991.5V710.6H995.5V709.7H999.5V710H1003.5V706.6H1007.5V705.7H1011.5V705.1H1015.5V704.6H1019.5V705.4H1023.5V704.8H1027.5V703.3H1031.5V703.1H1035.5V702.7H1039.5V702.5H1043.5V703.1H1047.5V702.6H1051.5V704.3H1055.5V705.5H1059.5V704.8H1063.5V702.1H1067.5V703.7H1071.5V704.2H1075.5V702.7H1079.5V702H1083.5V702.2H1087.5V701.1H1091.5V701.6H1095.5V701.1H1099.5V699.9H1103.5V699.8H1107.5V700.5H1111.5V700.8H1115.5V703.4H1119.5V704H1123.5V704H1127.5V705.3H1131.5V705.3H1135.5V706.5H1139.5V707.7H1143.5V707.2H1147.5V706.3H1151.5V705.6H1155.5V708.4H1159.5V708.4H1163.5V707.7H1167.5V708.1H1171.5V707.4H1175.5V709.9H1179.5V710.2H1183.5V709.9H1187.5V709H1191.5V712.5H1195.5V712.4H1199.5V710.4H1203.5V711.5H1207.5V712.8H1211.5V713.9H1215.5V713.5H1219.5V715.8H1223.5V716.6H1227.5V716.6H1231.5V716.2H1235.5V715.2H1239.5V716.2H1243.5V717.2H1247.5V716.9H1251.5V718.5H1255.5V720.1H1259.5V719.8H1263.5V720H1267.5V720.8H1271.5V723.1H1275.5V724.2H1279.5V722H1283.5V722.4H1287.5V725.8H1291.5V725H1295.5V727H1299.5V727H1303.5V728H1307.5V727.2H1311.5V727.6H1315.5V728.6H1319.5V728.8H1323.5V729.2H1327.5V731.2H1331.5V730.8H1335.5V732.5H1339.5V731.7H1343.5V731.9H1347.5V733.4H1351.5V734.2H1355.5V735.4H1359.5V735.4H1363.5V735.7H1367.5V735.7H1371.5V735H1375.5V736.2H1379.5V738.5H1383.5V738.9H1387.5V739.6H1391.5V741.4H1395.5V740.4H1399.5V741.7H1403.5V741.7H1407.5V743.9H1411.5V742.6H1415.5V743.6H1419.5V744.3H1423.5V745.2H1427.5V745.8H1431.5V749H1435.5V748.7H1439.5V749H1443.5V748.3H1447.5V748.5H1451.5V749.4H1455.5V749.8H1459.5V752H1463.5V752.2H1467.5V752.7H1471.5V753.6H1475.5V753.5H1479.5V753.4H1483.5V754.2H1487.5V755.8H1491.5V756.4H1495.5V756.2H1499.5V758.9H1503.5V759.1H1507.5V759.8H1511.5V761.2H1515.5V759.7H1519.5V761.2H1523.5V761.4H1527.5V761.9H1531.5V760.6H1535.5V761H1539.5V762.3H1543.5V763.1H1547.5V765.3H1551.5V764.7H1555.5V765.4H1559.5V765.4H1563.5V764.7H1567.5V765.6H1571.5V766.8H1575.5V769.3H1579.5V770.2H1583.5V769.2H1587.5V768.7H1591.5V769.7H1595.5V770H1599.5V773.4H1603.5V773.8H1607.5V773.5H1611.5V773.3H1615.5V773.2H1619.5V774.5H1623.5V774.1H1627.5V775.2H1631.5V776.5H1635.5V779.6H1639.5V778.1H1643.5V780.6H1647.5V781H1651.5V782.7H1655.5V782.4H1659.5V783.8H1663.5V785.3H1667.5V787H1671.5V786.3H1675.5V786.5H1679.5V787H1683.5V787H1687.5V787.9H1691.5V788.7H1695.5V789H1699.5V788.1H1703.5V790H1707.5V789.4H1711.5V790.8H1715.5V792.8H1719.5V791.7H1723.5V792.7H1727.5V793.7H1731.5V794.2H1735.5V794.3H1739.5V795.1H1743.5V796.3H1747.5V795.5H1751.5V796.3H1755.5V797.8H1759.5V797.4H1763.5V797H1767.5V799H1771.5V800.1H1775.5V801.1H1779.5V800.9H1783.5V800.5H1787.5V802.7H1791.5V803.7H1795.5V803.9H1799.5V803H1803.5V803.4H1807.5V802.8H1811.5V802.6H1815.5V803.8H1819.5V804.8H1823.5V805.6H1827.5V805.7H1831.5V807.6H1835.5V805.9H1839.5V807.4H1843.5V806.5H1847.5V807.5H1851.5V806.3H1855.5V808.9H1859.5V809.1H1863.5V806.8H1867.5V808.6H1871.5V808.4H1875.5V809.1H1879.5V808.6H1883.5V808.3H1887.5V807H1891.5V807.3H1895.5V807.9H1899.5V806.6H1903.5V806.7H1907.5V807.7H1911.5V808.3H1915.5V807.5H1919.5V808.6H1923.5V806.9H1927.5V806.9H1931.5V807.1H1935.5V804.8H1939.5V805.3H1943.5V803.8H1947.5V801.9H1951.5V802.9H1955.5V802.5H1959.5V800.1H1963.5V799.4H1967.5V798.2H1971.5V795.4H1975.5V794.2H1979.5V790.6H1983.5V786.4H1987.5V783.3H1991.5V779.9H1995.5V776.3H1999.5V773.1H2003.5V768.8H2007.5V766.9H2011.5V762.2H2015.5V760.5H2019.5V757.3H2023.5V752.7H2027.5V748H2031.5V742.7H2035.5V737.9H2039.5V734.8H2043.5V729.8H2047.5V725.4H2051.5V725.2H2055.5V722.7H2059.5V754.6H2055.5V754.9H2051.5V757.5H2047.5V759.6H2043.5V765.8H2039.5V770H2035.5V773.1H2031.5V777.9H2027.5V782.1H2023.5V788.1H2019.5V787.7H2015.5V789.1H2011.5V794H2007.5V799.1H2003.5V800.1H1999.5V803.1H1995.5V806.1H1991.5V809.3H1987.5V814.6H1983.5V820.1H1979.5V825.1H1975.5V827.5H1971.5V828.1H1967.5V829H1963.5V831.3H1959.5V829.4H1955.5V832.4H1951.5V832.7H1947.5V834.8H1943.5V838.6H1939.5V837.5H1935.5V839.4H1931.5V839H1927.5V841.8H1923.5V840.5H1919.5V842.4H1915.5V840.9H1911.5V841.7H1907.5V838.8H1903.5V838.7H1899.5V837.5H1895.5V837.6H1891.5V837.8H1887.5V841H1883.5V838.5H1879.5V839.3H1875.5V837.2H1871.5V837.6H1867.5V846.4H1863.5V844.2H1859.5V838.1H1855.5V839.1H1851.5V835.8H1847.5V837.3H1843.5V837.9H1839.5V836H1835.5V836.9H1831.5V837.9H1827.5V836.5H1823.5V837.1H1819.5V835.8H1815.5V833H1811.5V834H1807.5V832.9H1803.5V833.3H1799.5V833.1H1795.5V832.8H1791.5V827.8H1787.5V828.3H1783.5V830.3H1779.5V829.5H1775.5V827.8H1771.5V827.4H1767.5V834.1H1763.5V834.3H1759.5V831.2H1755.5V828.7H1751.5V830H1747.5V830.9H1743.5V827.2H1739.5V826.9H1735.5V821.5H1731.5V819.4H1727.5V821.2H1723.5V821.8H1719.5V818.3H1715.5V817.3H1711.5V821.8H1707.5V819.8H1703.5V822.5H1699.5V824.5H1695.5V818.7H1691.5V817.8H1687.5V815.5H1683.5V818.1H1679.5V819.7H1675.5V815.5H1671.5V813.8H1667.5V815.3H1663.5V815H1659.5V814.1H1655.5V809.9H1651.5V816.8H1647.5V814.7H1643.5V813.8H1639.5V810H1635.5V810.3H1631.5V807.8H1627.5V806.1H1623.5V805.1H1619.5V807H1615.5V806.2H1611.5V802.8H1607.5V801.2H1603.5V801.4H1599.5V808H1595.5V799.8H1591.5V803.2H1587.5V800.6H1583.5V796.9H1579.5V796.3H1575.5V797.5H1571.5V796.6H1567.5V794.4H1563.5V796.1H1559.5V795.3H1555.5V795.4H1551.5V793.1H1547.5V796.5H1543.5V795.4H1539.5V792.3H1535.5V797.6H1531.5V792.9H1527.5V789.4H1523.5V788.6H1519.5V795.3H1515.5V792.3H1511.5V790.2H1507.5V791.9H1503.5V795.5H1499.5V787.3H1495.5V786.6H1491.5V784.5H1487.5V782.3H1483.5V784H1479.5V783.7H1475.5V782.9H1471.5V786.5H1467.5V791.2H1463.5V787.5H1459.5V781.6H1455.5V787.5H1451.5V780.5H1447.5V781.1H1443.5V779.4H1439.5V781.8H1435.5V775.8H1431.5V774.6H1427.5V773.3H1423.5V773.7H1419.5V773H1415.5V774.1H1411.5V773.5H1407.5V772.1H1403.5V773.8H1399.5V771.1H1395.5V771.1H1391.5V769.6H1387.5V770.2H1383.5V770.8H1379.5V769.9H1375.5V769.2H1371.5V766.5H1367.5V767H1363.5V766.9H1359.5V764.3H1355.5V761.9H1351.5V761.2H1347.5V761.5H1343.5V762H1339.5V761.2H1335.5V760.8H1331.5V760.5H1327.5V760.2H1323.5V760.5H1319.5V757.1H1315.5V755.3H1311.5V755H1307.5V758.8H1303.5V756.5H1299.5V755.5H1295.5V755.3H1291.5V751.9H1287.5V754H1283.5V755.6H1279.5V754.2H1275.5V749.5H1271.5V754.1H1267.5V747.8H1263.5V747.5H1259.5V747H1255.5V746.4H1251.5V745.7H1247.5V744.9H1243.5V744.2H1239.5V743.8H1235.5V744.7H1231.5V742.8H1227.5V744.4H1223.5V749.5H1219.5V742.6H1215.5V740.8H1211.5V742.8H1207.5V742.3H1203.5V742.1H1199.5V741.5H1195.5V751.1H1191.5V746.1H1187.5V744.3H1183.5V739.3H1179.5V737.8H1175.5V738H1171.5V738.6H1167.5V739H1163.5V739.5H1159.5V738.4H1155.5V736H1151.5V733.8H1147.5V736.6H1143.5V736.1H1139.5V732.6H1135.5V733.4H1131.5V736.9H1127.5V736H1123.5V733H1119.5V734H1115.5V735.5H1111.5V734.7H1107.5V732.7H1103.5V732.8H1099.5V731H1095.5V729.8H1091.5V728.3H1087.5V727.2H1083.5V731.9H1079.5V732.3H1075.5V731.9H1071.5V732.5H1067.5V732H1063.5V732.6H1059.5V731.6H1055.5V734.7H1051.5V734H1047.5V732.9H1043.5V735.4H1039.5V736H1035.5V734H1031.5V735.5H1027.5V735.2H1023.5V735.2H1019.5V736.5H1015.5V737H1011.5V738.2H1007.5V746H1003.5V738.7H999.5V742.2H995.5V741.7H991.5V741.6H987.5V742.2H983.5V740.7H979.5V743.5H975.5V741.7H971.5V745.9H967.5V746.9H963.5V746.2H959.5V748.1H955.5V750.4H951.5V749.6H947.5V749.8H943.5V748.4H939.5V750.2H935.5V757.1H931.5V757H927.5V759.9H923.5V761.7H919.5V763.5H915.5V764.2H911.5V771.8H907.5V773.7H903.5V771.3H899.5V772.5H895.5V773.5H891.5V773H887.5V776.3H883.5V777.3H879.5V787.3H875.5V790.7H871.5V787.9H867.5V794.2H863.5V799.1H859.5V794.4H855.5V796.2H851.5V796.1H847.5V798.6H843.5V801.2H839.5V802.8H835.5V807.2H831.5V811.5H827.5V809.2H823.5V811.2H819.5V812H815.5V813.6H811.5V816.7H807.5V820.8H803.5V828.1H799.5V825.9H795.5V828.9H791.5V836.8H787.5V837.6H783.5V835.3H779.5V840.7H775.5V837.3H771.5V840.5H767.5V840.2H763.5V841.8H759.5V843.4H755.5V846H751.5V844.7H747.5V850H743.5V855.4H739.5V854.1H735.5V855.2H731.5V859.6H727.5V858.7H723.5V859.8H719.5V863.9H715.5V869.4H711.5V864.6H707.5V871.4H703.5V875.8H699.5V877.4H695.5V873.7H691.5V876.3H687.5V879.9H683.5V881.3H679.5V881.8H675.5V882.8H671.5V887.4H667.5V892.3H663.5V889.2H659.5V887.6H655.5V890.7H651.5V896.8H647.5V896.7H643.5V896H639.5V896.8H635.5V899.1H631.5V899.9H627.5V900.9H623.5V903.7H619.5V905.2H615.5V907.1H611.5V908.5H607.5V911.9H603.5V909.8H599.5V913.2H595.5V914.3H591.5V915H587.5V918.6H583.5V921.6H579.5V923.3H575.5V920.4H571.5V918.4H567.5V921H563.5V922.4H559.5V923.3H555.5V923.8H551.5V924.2H547.5V924.7H543.5V926.7H539.5V928.9H535.5V928.1H531.5V932.5H527.5V930.9H523.5V931.5H519.5V936H515.5V934.9H511.5V938.8H507.5V921.1H503.5V919.4H499.5V919.2H495.5V920H491.5V921.7H487.5V922H483.5V921.4H479.5V922.7H475.5V921.9H471.5V925.6H467.5V925.9H463.5V923.6H459.5V924.6H455.5V924H451.5V927.5H447.5V928.3H443.5V924.6H439.5V924.2H435.5V925H431.5V924.4H427.5V928.2H423.5V925.2H419.5V927.4H415.5V929.4H411.5V928.6H407.5V931.3H403.5V931.5H399.5V929.3H395.5V929.7H391.5V929.5H387.5V929.7H383.5V928.1H378.7Z" fill="#008080"/>
<path d="M378.7 935.6H383.5V934.4H387.5V934.9H391.5V935.5H395.5V934.8H399.5V934.2H403.5V933.9H407.5V933.4H411.5V932.3H415.5V932.3H419.5V932.3H423.5V932.6H427.5V931.6H431.5V931.3H435.5V931.2H439.5V931.2H443.5V931.6H447.5V931.2H451.5V930.8H455.5V929.6H459.5V930.1H463.5V928.6H467.5V929.2H471.5V928.9H475.5V928.2H479.5V927.1H483.5V926.9H487.5V926H491.5V925.8H495.5V923.4H499.5V922.9H503.5V921.4H507.5V920H511.5V919.4H515.5V919.8H519.5V917.3H523.5V915.7H527.5V914.1H531.5V913.2H535.5V913.2H539.5V912.1H543.5V910.3H547.5V909.5H551.5V909.3H555.5V908.3H559.5V904.8H563.5V904H567.5V902.6H571.5V900.8H575.5V900.5H579.5V900H583.5V897.6H587.5V897.3H591.5V896.1H595.5V894H599.5V893H603.5V891.3H607.5V889.2H611.5V889.3H615.5V885.9H619.5V887.2H623.5V885.4H627.5V883.2H631.5V882.5H635.5V880.1H639.5V879H643.5V880.2H647.5V878.3H651.5V876H655.5V874H659.5V873.2H663.5V871.8H667.5V868.7H671.5V867.8H675.5V865H679.5V862.6H683.5V861.1H687.5V857.7H691.5V854.1H695.5V852.8H699.5V852H703.5V849.3H707.5V848.2H711.5V846.8H715.5V843.5H719.5V841.4H723.5V839.2H727.5V838H731.5V836.2H735.5V834.1H739.5V833.3H743.5V830.9H747.5V828.7H751.5V825.7H755.5V824.1H759.5V823.6H763.5V821.7H767.5V819.2H771.5V816.8H775.5V813.8H779.5V811.5H783.5V811.2H787.5V808.9H791.5V806.8H795.5V805.9H799.5V802.5H803.5V799.8H807.5V799.3H811.5V797H815.5V792.5H819.5V790.8H823.5V788H827.5V785.8H831.5V783.8H835.5V780.2H839.5V778.2H843.5V778.7H847.5V775.6H851.5V772.6H855.5V771.5H859.5V767.4H863.5V765.5H867.5V764.8H871.5V761.9H875.5V759.7H879.5V756.8H883.5V754.8H887.5V753H891.5V750.2H895.5V748.1H899.5V746.2H903.5V742.1H907.5V742.1H911.5V741.9H915.5V739.9H919.5V737.4H923.5V734.8H927.5V733.4H931.5V733.3H935.5V731.8H939.5V729H943.5V729H947.5V726.1H951.5V724.2H955.5V723.2H959.5V723H963.5V721.4H967.5V721.4H971.5V720.2H975.5V720.3H979.5V717.1H983.5V716.7H987.5V716.6H991.5V717H995.5V713.1H999.5V712.8H1003.5V710.8H1007.5V711.6H1011.5V710.8H1015.5V711H1019.5V711.5H1023.5V711.4H1027.5V710.1H1031.5V710.1H1035.5V710.7H1039.5V709.6H1043.5V709.3H1047.5V707.9H1051.5V708.5H1055.5V707H1059.5V707.6H1063.5V705.8H1067.5V706.7H1071.5V708.9H1075.5V707.1H1079.5V706.6H1083.5V708H1087.5V706.7H1091.5V705.6H1095.5V705.8H1099.5V707.1H1103.5V709.1H1107.5V709.1H1111.5V709.2H1115.5V710.5H1119.5V710.1H1123.5V711.5H1127.5V711.9H1131.5V711.2H1135.5V712.5H1139.5V712.8H1143.5V712.4H1147.5V712.6H1151.5V714.2H1155.5V712.8H1159.5V712.1H1163.5V715H1167.5V717H1171.5V717H1175.5V717.9H1179.5V715.9H1183.5V715.5H1187.5V716.4H1191.5V717.2H1195.5V718.4H1199.5V718.5H1203.5V719.2H1207.5V719.7H1211.5V720.9H1215.5V722.2H1219.5V722.8H1223.5V723.6H1227.5V723H1231.5V722.5H1235.5V721H1239.5V721.3H1243.5V723.5H1247.5V724.7H1251.5V725H1255.5V725.1H1259.5V724.4H1263.5V724.2H1267.5V724.9H1271.5V726.3H1275.5V725.8H1279.5V728.4H1283.5V728.3H1287.5V729.7H1291.5V731.6H1295.5V732.6H1299.5V732H1303.5V733.3H1307.5V734.1H1311.5V733.9H1315.5V734.4H1319.5V733.7H1323.5V734.9H1327.5V734.9H1331.5V735.6H1335.5V736.6H1339.5V738.3H1343.5V738.1H1347.5V738.4H1351.5V738.7H1355.5V741.7H1359.5V741.2H1363.5V742H1367.5V740.6H1371.5V742H1375.5V741.7H1379.5V742.6H1383.5V744.7H1387.5V747H1391.5V746.9H1395.5V747.7H1399.5V748.1H1403.5V748.1H1407.5V749H1411.5V750.9H1415.5V751.4H1419.5V751.5H1423.5V751.9H1427.5V753.6H1431.5V754H1435.5V755.9H1439.5V754.8H1443.5V757H1447.5V756.7H1451.5V757.8H1455.5V760.8H1459.5V761.4H1463.5V760.6H1467.5V760.6H1471.5V762.2H1475.5V763.3H1479.5V763H1483.5V764H1487.5V763.5H1491.5V761.9H1495.5V764.3H1499.5V764.4H1503.5V765.8H1507.5V765.9H1511.5V766.1H1515.5V765.8H1519.5V767.7H1523.5V769H1527.5V770.3H1531.5V770.6H1535.5V770.8H1539.5V770.3H1543.5V770.9H1547.5V772H1551.5V770.1H1555.5V770.7H1559.5V772.3H1563.5V774.4H1567.5V776.4H1571.5V777.3H1575.5V776.4H1579.5V777H1583.5V777H1587.5V777H1591.5V777.9H1595.5V779.1H1599.5V780.7H1603.5V779.4H1607.5V780.6H1611.5V780.6H1615.5V783.4H1619.5V785.1H1623.5V784.3H1627.5V784H1631.5V785.5H1635.5V786.9H1639.5V785.9H1643.5V786.4H1647.5V787.7H1651.5V787.2H1655.5V790H1659.5V790.1H1663.5V790.5H1667.5V789.8H1671.5V792.3H1675.5V791.1H1679.5V791.6H1683.5V792.3H1687.5V793.5H1691.5V793H1695.5V793.9H1699.5V796H1703.5V796.7H1707.5V797.6H1711.5V799.2H1715.5V799.7H1719.5V800.9H1723.5V800.7H1727.5V800.1H1731.5V802.7H1735.5V800.7H1739.5V800.5H1743.5V800.9H1747.5V805H1751.5V804.8H1755.5V806.1H1759.5V804.2H1763.5V804.2H1767.5V806H1771.5V806.3H1775.5V807.3H1779.5V808.6H1783.5V808.9H1787.5V809.3H1791.5V809.9H1795.5V810H1799.5V810.9H1803.5V812.2H1807.5V811H1811.5V812H1815.5V813.2H1819.5V812.8H1823.5V812.9H1827.5V815H1831.5V815.3H1835.5V815.5H1839.5V815.6H1843.5V815.1H1847.5V813.9H1851.5V813.9H1855.5V815.1H1859.5V812.5H1863.5V813.3H1867.5V815.4H1871.5V815.2H1875.5V815.5H1879.5V815.1H1883.5V813.4H1887.5V815.4H1891.5V815.1H1895.5V815.7H1899.5V815.6H1903.5V817.2H1907.5V816.8H1911.5V816.3H1915.5V815.3H1919.5V813.9H1923.5V814.3H1927.5V814.8H1931.5V813.6H1935.5V810.5H1939.5V810.2H1943.5V812.3H1947.5V809.9H1951.5V808.8H1955.5V805.2H1959.5V803.9H1963.5V802H1967.5V801.8H1971.5V800.3H1975.5V798H1979.5V795.8H1983.5V791.5H1987.5V790.1H1991.5V785.6H1995.5V783.1H1999.5V780.5H2003.5V776.1H2007.5V772.7H2011.5V768.7H2015.5V765.2H2019.5V761.8H2023.5V757.9H2027.5V753.9H2031.5V750H2035.5V743.5H2039.5V738.8H2043.5V735.1H2047.5V731.5H2051.5V731.6H2055.5V730.8H2059.5V770.6H2055.5V775.7H2051.5V776.8H2047.5V775.1H2043.5V776.9H2039.5V779.9H2035.5V782.9H2031.5V788.1H2027.5V791.2H2023.5V796.6H2019.5V802.2H2015.5V807.4H2011.5V808.2H2007.5V811.9H2003.5V816.8H1999.5V818.4H1995.5V821.4H1991.5V822.5H1987.5V822.8H1983.5V830.7H1979.5V835H1975.5V830.7H1971.5V830.4H1967.5V834.2H1963.5V833.7H1959.5V833.5H1955.5V836.8H1951.5V839.9H1947.5V844.6H1943.5V842.9H1939.5V844.3H1935.5V846.8H1931.5V850.7H1927.5V848.8H1923.5V845.3H1919.5V849.9H1915.5V850.1H1911.5V851.1H1907.5V846.9H1903.5V846.6H1899.5V846.1H1895.5V846H1891.5V846.4H1887.5V846.8H1883.5V847.5H1879.5V851.4H1875.5V850.1H1871.5V851.5H1867.5V847.2H1863.5V848.4H1859.5V846.1H1855.5V851.4H1851.5V845.3H1847.5V847.4H1843.5V846.1H1839.5V846.6H1835.5V845.1H1831.5V845.4H1827.5V844.1H1823.5V844.9H1819.5V842.3H1815.5V845.3H1811.5V842.1H1807.5V842.6H1803.5V843H1799.5V841.9H1795.5V841.9H1791.5V840.4H1787.5V840.1H1783.5V842.3H1779.5V846.5H1775.5V837.2H1771.5V839.1H1767.5V839.7H1763.5V839.4H1759.5V837.2H1755.5V836.3H1751.5V833.6H1747.5V835.8H1743.5V835.1H1739.5V832.9H1735.5V833.2H1731.5V833.1H1727.5V833.6H1723.5V835H1719.5V833.6H1715.5V830.5H1711.5V831.5H1707.5V829.2H1703.5V827.9H1699.5V827.6H1695.5V825.6H1691.5V825.7H1687.5V826.3H1683.5V827.2H1679.5V824.5H1675.5V822.3H1671.5V823.4H1667.5V822.5H1663.5V821.2H1659.5V822.2H1655.5V824.3H1651.5V822H1647.5V821.7H1643.5V817.6H1639.5V818.2H1635.5V821.6H1631.5V821.2H1627.5V822.1H1623.5V816.9H1619.5V817.6H1615.5V813H1611.5V815.9H1607.5V813.8H1603.5V812.1H1599.5V808.8H1595.5V808.7H1591.5V810.4H1587.5V813.3H1583.5V811.1H1579.5V817.2H1575.5V813.2H1571.5V804.9H1567.5V805.7H1563.5V809.2H1559.5V807.3H1555.5V803.4H1551.5V804.2H1547.5V805.4H1543.5V805.3H1539.5V807.8H1535.5V807.2H1531.5V804H1527.5V798.2H1523.5V799.3H1519.5V799.4H1515.5V798.8H1511.5V796.7H1507.5V796.2H1503.5V801H1499.5V794.5H1495.5V795.3H1491.5V798.5H1487.5V797.4H1483.5V794.8H1479.5V794.8H1475.5V792.2H1471.5V789H1467.5V788.6H1463.5V790.7H1459.5V790.5H1455.5V788.2H1451.5V790.7H1447.5V789.8H1443.5V793.6H1439.5V794.3H1435.5V788.8H1431.5V788.3H1427.5V786.3H1423.5V786.7H1419.5V781.2H1415.5V779.6H1411.5V777.9H1407.5V778.2H1403.5V778.8H1399.5V777.7H1395.5V777.8H1391.5V776.2H1387.5V777.2H1383.5V778.1H1379.5V778.1H1375.5V777.8H1371.5V778.1H1367.5V779.5H1363.5V779.1H1359.5V777.7H1355.5V776.2H1351.5V776.4H1347.5V775.2H1343.5V774H1339.5V770.4H1335.5V775.2H1331.5V774.8H1327.5V775.7H1323.5V773.7H1319.5V771.6H1315.5V774H1311.5V769.3H1307.5V768H1303.5V769.6H1299.5V768.1H1295.5V765.2H1291.5V765.5H1287.5V764.7H1283.5V764.6H1279.5V769.5H1275.5V762.4H1271.5V763.3H1267.5V766H1263.5V764.1H1259.5V761.9H1255.5V759.1H1251.5V759.8H1247.5V758.1H1243.5V757.2H1239.5V759.4H1235.5V756.9H1231.5V755.1H1227.5V756H1223.5V754.5H1219.5V754.2H1215.5V756.2H1211.5V755.3H1207.5V755.9H1203.5V757.6H1199.5V754.3H1195.5V755H1191.5V751.3H1187.5V749.6H1183.5V753.2H1179.5V748.8H1175.5V748.9H1171.5V754.5H1167.5V748.9H1163.5V746.9H1159.5V748.3H1155.5V749.9H1151.5V748.9H1147.5V746.1H1143.5V748.8H1139.5V744.2H1135.5V745.8H1131.5V746.9H1127.5V742.9H1123.5V749.1H1119.5V742.1H1115.5V742.1H1111.5V740.6H1107.5V742.6H1103.5V744H1099.5V742.4H1095.5V747.5H1091.5V747.3H1087.5V738.5H1083.5V738.4H1079.5V741.4H1075.5V741.9H1071.5V739.5H1067.5V741.8H1063.5V743.2H1059.5V739.7H1055.5V740.2H1051.5V742.7H1047.5V745.9H1043.5V743.4H1039.5V739.7H1035.5V740.7H1031.5V742.1H1027.5V743H1023.5V745.4H1019.5V741.7H1015.5V743H1011.5V748.2H1007.5V745.9H1003.5V752.7H999.5V752.6H995.5V749.1H991.5V747.7H987.5V747.8H983.5V749.6H979.5V749.9H975.5V748.3H971.5V750.7H967.5V753.4H963.5V753.9H959.5V755.7H955.5V758.2H951.5V760H947.5V760.1H943.5V762.1H939.5V764.1H935.5V768.1H931.5V765.7H927.5V766.9H923.5V776.7H919.5V779.2H915.5V779.3H911.5V779.6H907.5V781.5H903.5V784.1H899.5V785.6H895.5V795.8H891.5V795H887.5V790.6H883.5V796.4H879.5V796.2H875.5V797.2H871.5V800.1H867.5V803.4H863.5V803.8H859.5V804H855.5V808.9H851.5V812.2H847.5V812.9H843.5V817.1H839.5V818H835.5V819.6H831.5V821.1H827.5V826.5H823.5V826.4H819.5V826.4H815.5V830.4H811.5V829.6H807.5V834.3H803.5V832.2H799.5V836.9H795.5V840.1H791.5V842.8H787.5V842.1H783.5V842.9H779.5V845.9H775.5V850.2H771.5V850.6H767.5V852.9H763.5V856.1H759.5V853.7H755.5V854.7H751.5V858.5H747.5V862.5H743.5V862.8H739.5V863H735.5V866.7H731.5V868.3H727.5V868H723.5V867.6H719.5V868.7H715.5V870.6H711.5V873.1H707.5V880.1H703.5V880H699.5V880.6H695.5V884.7H691.5V886.2H687.5V887H683.5V888.4H679.5V892.3H675.5V894.1H671.5V896.5H667.5V898.2H663.5V899.5H659.5V899H655.5V903.6H651.5V904.3H647.5V907.8H643.5V909.2H639.5V913.5H635.5V914.9H631.5V912.6H627.5V914.9H623.5V917H619.5V916.6H615.5V917.7H611.5V924.5H607.5V922H603.5V919.7H599.5V924.8H595.5V925.4H591.5V923.1H587.5V923.6H583.5V927.7H579.5V925.6H575.5V930.7H571.5V932.9H567.5V934.6H563.5V937.4H559.5V935.1H555.5V937.1H551.5V939.1H547.5V944.9H543.5V946H539.5V947.6H535.5V942.8H531.5V942.9H527.5V946.3H523.5V947.7H519.5V947.4H515.5V944.7H511.5V944.8H507.5V935.7H503.5V937.3H499.5V936.3H495.5V937.3H491.5V938.4H487.5V938.6H483.5V938.6H479.5V939.6H475.5V941H471.5V939.6H467.5V938.8H463.5V939H459.5V944.3H455.5V943.7H451.5V941.8H447.5V941.7H443.5V940.4H439.5V942H435.5V943.4H431.5V943.9H427.5V942.7H423.5V943.4H419.5V942.4H415.5V943H411.5V944.9H407.5V945.2H403.5V945H399.5V944.1H395.5V945.2H391.5V944.6H387.5V945H383.5V946.2H378.7Z" fill="#0000a0"/>
</g>
<g font-size="41.2" letter-spacing="1.5" stroke="#fff" stroke-width="0.5">
<path d="M599.1 1070.2h5v-2.3h100.0v2.3h2.6v7.8H599.1z" fill="#000000" stroke="none"/>
<text x="711.3" y="1087.6">0H</text>
<path d="M774.8 1070.2h5v-2.3h100.5v2.3h2.6v7.8H774.8z" fill="#ff0000" stroke="none"/>
<text x="888.5" y="1087.6">1H</text>
<path d="M953.7 1070.2h5v-2.3h98.0v2.3h2.6v7.8H953.7z" fill="#00ff00" stroke="none"/>
<text x="1066.4" y="1087.6">4H</text>
<path d="M1130.1 1070.2h5v-2.3h100.4v2.3h2.6v7.8H1130.1z" fill="#0000ff" stroke="none"/>
<text x="1241.9" y="1087.6">7H</text>
<path d="M1306.4 1070.2h5v-2.3h100.1v2.3h2.6v7.8H1306.4z" fill="#00ffff" stroke="none"/>
<text x="1420.9" y="1087.6">10H</text>
<path d="M1507.1 1070.2h5v-2.3h100.4v2.3h2.6v7.8H1507.1z" fill="#ff00ff" stroke="none"/>
<text x="1621.4" y="1087.6">12H</text>
<path d="M599.1 1126.4h5v-2.3h100.0v2.3h2.6v7.8H599.1z" fill="#ffff00" stroke="none"/>
<text x="712.3" y="1143.8">13H</text>
<path d="M799.9 1126.4h5v-2.3h99.9v2.3h2.6v7.8H799.9z" fill="#808000" stroke="none"/>
<text x="912.7" y="1143.8">14H</text>
<path d="M1000.4 1126.4h5v-2.3h100.5v2.3h2.6v7.8H1000.4z" fill="#000080" stroke="none"/>
<text x="1113.1" y="1143.8">15H</text>
<path d="M1201.1 1126.4h5v-2.3h100.4v2.3h2.6v7.8H1201.1z" fill="#800080" stroke="none"/>
<text x="1314.3" y="1143.8">16H</text>
<path d="M1401.9 1126.4h5v-2.3h100.4v2.3h2.6v7.8H1401.9z" fill="#800000" stroke="none"/>
<text x="1516.0" y="1143.8">17H</text>
<path d="M1602.6 1126.4h5v-2.3h100.2v2.3h2.6v7.8H1602.6z" fill="#008000" stroke="none"/>
<text x="1716.6" y="1143.8">18H</text>
<path d="M599.1 1182.8h5v-2.3h100.0v2.3h2.6v7.8H599.1z" fill="#008080" stroke="none"/>
<text x="712.3" y="1200.2">19H</text>
<path d="M799.9 1182.8h5v-2.3h99.9v2.3h2.6v7.8H799.9z" fill="#0000a0" stroke="none"/>
<text x="912.2" y="1200.2">20H</text>
</g>
<g font-size="64" stroke="#fff" stroke-width="1.1">
<text x="400.7" y="1397.2" text-anchor="middle">0</text>
<text x="626.2" y="1397.2" text-anchor="middle">50</text>
<text x="848.7" y="1397.2" text-anchor="middle">100</text>
<text x="1073.2" y="1397.2" text-anchor="middle">150</text>
<text x="1296.5" y="1397.2" text-anchor="middle">200</text>
<text x="1521.5" y="1397.2" text-anchor="middle">250</text>
<text x="1744.7" y="1397.2" text-anchor="middle">300</text>
<text x="1969.6" y="1397.2" text-anchor="middle">350</text>
<text x="352" y="1339.2" text-anchor="end">1600</text>
<text x="352" y="1133.7" text-anchor="end">1800</text>
<text x="352" y="928.0" text-anchor="end">2000</text>
<text x="352" y="725.3" text-anchor="end">2200</text>
<text x="352" y="518.9" text-anchor="end">2400</text>
<text x="352" y="314.1" text-anchor="end">2600</text>
<text x="352" y="108.6" text-anchor="end">2800</text>
</g>
<text x="1219.3" y="1490.5" font-size="75.5" text-anchor="middle" stroke="#fff" stroke-width="0.8">Distance from pad center (mm)</text>
<text transform="translate(112 696) rotate(-90)" font-size="77.7" text-anchor="middle" textLength="704" lengthAdjust="spacing" stroke="#fff" stroke-width="0.8">Pad thickness (<tspan font-weight="normal">μ</tspan>m)</text>
</svg></body></html>
